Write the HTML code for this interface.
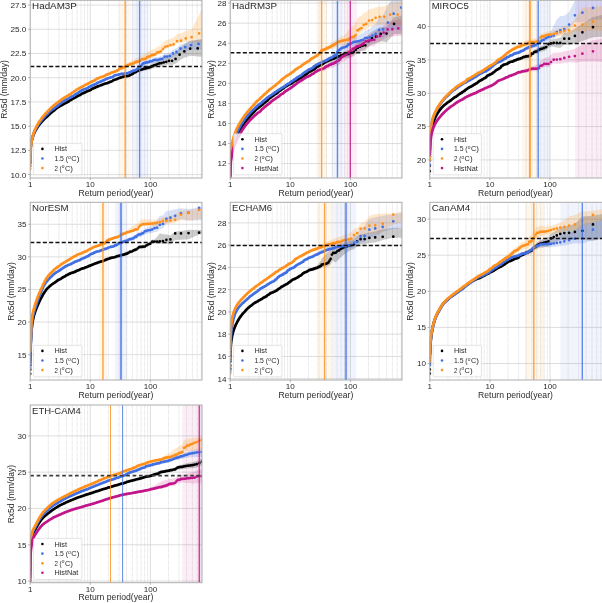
<!DOCTYPE html><html><head><meta charset="utf-8"><style>html,body{margin:0;padding:0;background:#fff}svg{display:block;will-change:transform}</style></head><body><svg width="602" height="603" viewBox="0 0 602 603"><style>text{font-family:"Liberation Sans",sans-serif;fill:#2a2a2a}.t{font-size:8.1px}.l{font-size:8.2px}.yl{font-size:8.2px}.ti{font-size:9.9px}.lg{font-size:7.8px}.sup{font-size:4.8px}</style><rect width="602" height="603" fill="#fff"/><clipPath id="c0"><rect x="30.2" y="0.3" width="171.8" height="177.7"/></clipPath><rect x="30.2" y="0.3" width="171.8" height="177.7" fill="#fff"/><g clip-path="url(#c0)"><path d="M48.29 0.3V178M58.87 0.3V178M66.38 0.3V178M72.21 0.3V178M76.97 0.3V178M80.99 0.3V178M84.48 0.3V178M87.55 0.3V178M108.39 0.3V178M118.97 0.3V178M126.48 0.3V178M132.31 0.3V178M137.07 0.3V178M141.09 0.3V178M144.58 0.3V178M147.65 0.3V178M168.49 0.3V178M179.07 0.3V178M186.58 0.3V178M192.41 0.3V178M197.17 0.3V178M201.19 0.3V178" stroke="#b8b8b8" stroke-width="0.5" stroke-dasharray="0.6 0.6" fill="none"/><path d="M30.2 0.3V178M90.3 0.3V178M150.4 0.3V178M30.2 174.6H202M30.2 150.38H202M30.2 126.17H202M30.2 101.95H202M30.2 77.74H202M30.2 53.52H202M30.2 29.31H202M30.2 5.09H202" stroke="#d0d0d0" stroke-width="0.7" fill="none"/><rect x="119" y="0.3" width="11.5" height="177.7" fill="#ff8c00" fill-opacity="0.075"/><rect x="132" y="0.3" width="16.4" height="177.7" fill="#4169e1" fill-opacity="0.075"/><polygon points="108.34,82.1 109.2,81.83 110.1,81.25 111.02,81.04 111.98,80.62 112.64,80.09 113.32,79.5 114.02,79.23 114.73,79 115.47,78.7 116.22,78.44 117,78.09 117.81,77.77 118.64,77.23 119.49,77.02 120.38,76.59 121.29,76.3 122.24,75.85 123.23,75.64 124.25,75.2 125.32,74.98 126.43,74.85 127.59,74.58 128.8,74.27 130.07,73.66 130.74,72.99 132.11,72.46 132.82,72.18 133.56,71.25 134.32,70.87 135.1,70.45 135.9,70.1 136.73,69.46 137.58,68.99 138.47,68.73 139.38,68.42 140.33,67.84 141.32,67.58 142.34,67.21 143.41,66.81 144.52,66.52 145.68,66.27 146.89,65.81 148.17,65.42 149.51,65.1 150.92,64.33 152.41,63.14 153.99,62.14 155.68,61.32 157.48,60 159.41,58.93 161.5,58.19 163.77,57.06 166.26,55.89 169.01,54.75 172.08,54.55 175.57,52.48 179.59,47.96 184.35,44.26 190.17,41.03 197.68,40.07 203,39.33 203,56.76 197.68,56.52 190.17,55.8 184.35,57.73 179.59,60.33 175.57,63.82 172.08,64.98 169.01,64.39 166.26,64.83 163.77,65.35 161.5,65.9 159.41,66.1 157.48,66.67 155.68,67.52 153.99,67.91 152.41,68.51 150.92,69.31 149.51,69.87 148.17,70.06 146.89,70.33 145.68,70.68 144.52,70.82 143.41,71.01 142.34,71.31 141.32,71.59 140.33,71.76 139.38,72.25 138.47,72.47 137.58,72.66 136.73,73.04 135.9,73.61 135.1,73.89 134.32,74.23 133.56,74.54 132.82,75.41 132.11,75.62 130.74,76.02 130.07,76.63 128.8,77.12 127.59,77.32 126.43,77.48 125.32,77.51 124.25,77.64 123.23,77.98 122.24,78.1 121.29,78.46 120.38,78.67 119.49,79.01 118.64,79.15 117.81,79.61 117,79.85 116.22,80.14 115.47,80.33 114.73,80.56 114.02,80.72 113.32,80.93 112.64,81.45 111.98,81.93 111.02,82.25 110.1,82.38 109.2,82.88 108.34,83.07" fill="#000000" fill-opacity="0.2"/><polygon points="108.39,77.67 109.23,77.34 110.09,77.11 110.99,76.8 111.92,76.59 112.88,76.04 113.54,75.54 114.22,74.99 114.91,74.58 115.63,74.39 116.36,74.14 117.12,73.99 117.9,73.81 118.7,73.54 119.53,73.37 120.39,73.05 121.27,72.83 122.19,72.72 123.14,72.62 124.12,72.51 125.14,72.32 126.21,72.17 127.32,72.01 128.48,71.4 129.7,71.21 130.32,70.82 130.97,70.29 131.63,69.71 132.31,69.49 133,69.25 133.72,68.97 134.45,68.83 135.21,68.7 135.99,68.21 136.79,67.72 137.62,66.73 138.48,64.96 139.36,64.71 140.28,64.33 141.23,63.93 142.21,62.37 143.24,61.26 144.3,61.05 145.41,60.76 146.57,60.25 147.79,59.97 149.06,59.58 150.4,58.85 151.81,58.76 153.3,57.83 154.89,57.3 156.57,57.14 158.37,57.05 160.31,56.18 162.39,55.85 164.67,53.58 167.15,53.28 169.9,52.51 172.98,49.94 176.46,48.2 180.49,44.81 185.24,43.04 191.07,40.65 198.58,39.25 203,38.78 203,49.44 198.58,49.43 191.07,49.83 185.24,51.44 180.49,52.56 176.46,55.56 172.98,56.97 169.9,59.24 167.15,59.75 164.67,59.8 162.39,61.86 160.31,61.98 158.37,62.66 156.57,62.58 154.89,62.57 153.3,62.96 151.81,63.74 150.4,63.7 149.06,64.3 147.79,64.58 146.57,64.74 145.41,65.14 144.3,65.33 143.24,65.44 142.21,66.46 141.23,67.92 140.28,68.24 139.36,68.54 138.48,68.7 137.62,70.4 136.79,71.31 135.99,71.72 135.21,72.15 134.45,72.21 133.72,72.27 133,72.49 131.63,72.82 130.97,73.34 130.32,73.81 129.7,74.14 128.48,74.22 127.32,74.72 126.21,74.78 125.14,74.83 124.12,74.93 123.14,74.95 122.19,74.97 121.27,74.99 120.39,75.13 119.53,75.37 118.7,75.47 117.9,75.66 117.12,75.77 116.36,75.85 115.63,76.03 114.91,76.16 114.22,76.5 113.54,76.99 112.88,77.42 111.92,77.89 110.99,78.01 110.09,78.24 109.23,78.4 108.39,78.65" fill="#4169e1" fill-opacity="0.2"/><polygon points="108.39,73.6 109.21,73.29 110.06,72.81 110.64,72.26 111.23,71.88 112.15,71.51 113.1,71.18 114.08,70.82 114.76,70.23 115.46,70.04 116.17,69.72 116.91,69.12 117.66,68.83 118.44,68.23 119.25,67.16 120.07,66.77 120.93,66.51 121.81,66 122.73,65.7 123.68,65.14 124.67,64.3 125.69,63.93 126.75,63.33 127.3,62.73 128.44,62.2 129.63,61.67 130.87,61.18 131.51,60.66 132.85,60.25 133.55,59.85 134.26,59.54 135,58.83 135.76,58.54 136.53,58.17 137.34,57.84 138.17,57.63 139.02,57.03 139.91,56.57 140.82,56.02 141.77,54.98 142.76,54.73 143.78,54.44 144.85,54.16 145.96,53.77 147.12,52.28 148.33,51.89 149.6,51.18 150.94,50.2 152.36,49.79 153.85,49.1 155.43,48.56 157.11,46.75 158.91,46.23 160.85,45.45 162.94,42.76 165.21,40.57 167.7,39.65 170.45,38.38 173.52,37.6 177.01,34.08 181.03,33.46 185.79,30.98 191.61,29.53 199.12,14.94 203,5.81 203,43.59 199.12,41.86 191.61,41.97 185.79,41.73 181.03,42.83 177.01,43.12 173.52,46.47 170.45,47.1 167.7,48.23 165.21,49.04 162.94,51.11 160.85,53.7 158.91,54.39 157.11,54.83 155.43,56.55 153.85,57.01 152.36,57.63 150.94,57.97 149.6,58.8 148.33,59.31 147.12,59.5 145.96,60.81 144.85,61.02 143.78,61.13 142.76,61.24 141.77,61.34 140.82,62.23 139.91,62.62 139.02,62.95 138.17,63.41 137.34,63.48 136.53,63.69 135.76,63.93 135,64.1 134.26,64.69 133.55,64.88 132.85,65.18 131.51,65.37 130.87,65.78 129.63,66.08 128.44,66.41 127.3,66.75 126.22,67.58 125.17,67.83 124.17,68.24 123.2,68.63 122.27,69.06 121.37,69.16 120.5,69.55 119.66,69.68 118.84,70.32 118.05,71.01 117.28,71.46 116.54,71.71 115.81,72.03 115.11,72.19 114.42,72.54 113.42,72.86 112.46,73.07 111.53,73.23 110.64,73.61 110.06,74.06 109.21,74.4 108.39,74.58" fill="#ff8c00" fill-opacity="0.2"/><path d="M197.68 48.39h0M190.17 48.68h0M184.35 51.39h0M179.59 54.69h0M175.57 58.95h0M172.08 60.79h0M169.01 60.79h0M166.26 61.76h0M163.77 62.49h0M161.5 63.12h0M159.41 63.39h0M157.48 64.02h0M155.68 64.93h0M153.99 65.37h0M152.41 66.02h0M150.92 66.87h0M149.51 67.48h0M148.17 67.74h0M146.89 68.07h0M145.68 68.47h0M144.52 68.67h0M143.41 68.91h0M142.34 69.26h0M141.32 69.59h0M140.33 69.8h0M139.38 70.34h0M138.47 70.6h0M137.58 70.83h0M136.73 71.25h0M135.9 71.86h0L135.1 72.17L134.32 72.55L133.56 72.89M132.82 73.8h0L132.11 74.04L131.41 74.41L130.74 74.51M130.07 75.15h0L129.43 75.48L128.8 75.7L128.19 75.83L127.59 75.95L127 76.06L126.43 76.16L125.87 76.19L125.32 76.24L124.78 76.34L124.25 76.42L123.73 76.75L123.23 76.81L122.73 76.88L122.24 76.97L121.76 77.19L121.29 77.38L120.83 77.52L120.38 77.63L119.93 77.81L119.49 78.02L118.64 78.19M117.81 78.69h0L117.4 78.94L116.61 79.04L116.22 79.29L115.47 79.51L114.73 79.78L114.02 79.97L113.32 80.21L112.64 80.77L111.98 81.28L111.34 81.53L110.71 81.73L110.1 81.81L109.5 82.15L108.91 82.44L108.34 82.59L107.77 82.95L107.22 83.16L106.69 83.27L106.16 83.43L105.64 83.51L105.14 83.62L104.64 83.78L104.15 83.95L103.67 84.11L103.2 84.4L102.74 84.5L102.28 84.58L101.84 85.03L101.4 85.13L100.76 85.27L100.13 85.51L99.51 85.73L98.91 85.88L98.33 86.15L97.75 86.35L97.38 86.68L96.82 86.84L96.28 86.95L95.75 87.12L95.4 87.59L94.89 87.85L94.39 87.94L93.89 88.06L93.41 88.34L92.93 88.48L92.46 88.63L92 88.89L91.55 89.27L91.11 89.46L90.82 89.88L90.39 90.12L89.82 90.29L89.27 90.38L88.86 90.68L88.33 90.83L87.81 91.07L87.3 91.26L86.79 91.48L86.3 91.74L85.82 92.01L85.34 92.16L84.99 92.46L84.53 92.62L84.08 92.71L83.64 92.93L83.2 93.14L82.77 93.33L82.24 93.6L81.73 93.82L81.32 94.09L80.92 94.44L80.53 94.67L80.04 94.95L79.57 95.13L79.1 95.33L78.64 95.48L78.19 95.72L77.83 96.02L77.4 96.24L76.97 96.47L76.54 96.64L76.13 96.82L75.8 97.14L75.39 97.46L74.92 97.61L74.53 97.87L74.14 98.11L73.68 98.27L73.24 98.46L72.8 98.61L72.51 99L72.15 99.3L71.66 99.46L71.25 99.66L70.9 100.01L70.44 100.12L69.97 100.34L69.52 100.52L69.14 100.87L68.83 101.23L68.39 101.5L67.97 101.78L67.55 102.04L67.13 102.27L66.73 102.48L66.27 102.67L65.82 102.86L65.43 103.13L65 103.4L64.57 103.62L64.15 103.86L63.74 104.07L63.33 104.27L62.88 104.45L62.53 104.77L62.14 105.01L61.71 105.21L61.29 105.38L60.87 105.61L60.46 105.84L60.05 106.06L59.65 106.32L59.26 106.6L58.83 106.84L58.41 107.09L57.99 107.35L57.59 107.58L57.18 107.8L56.83 108.1L56.43 108.34L56.05 108.57L55.71 108.9L55.33 109.32L54.96 109.62L54.63 109.97L54.31 110.29L53.92 110.55L53.53 110.82L53.15 111.09L52.75 111.34L52.41 111.7L52.08 112.01L51.72 112.3L51.37 112.58L50.99 112.85L50.61 113.15L50.3 113.5L49.93 113.82L49.6 114.14L49.22 114.48L48.87 114.83L48.49 115.12L48.15 115.44L47.84 115.81L47.45 116.09L47.18 116.45L46.83 116.78L46.45 117.05L46.08 117.35L45.75 117.66L45.39 117.96L45.06 118.29L44.71 118.63L44.39 118.97L44.05 119.31L43.71 119.65L43.41 119.98L43.08 120.33L42.75 120.69L42.43 121.01L42.12 121.33L41.78 121.68L41.47 122.03L41.17 122.39L40.87 122.74L40.59 123.11L40.3 123.46L40.01 123.8L39.72 124.15L39.43 124.54L39.13 124.92L38.85 125.3L38.6 125.67L38.32 126.06L38.05 126.45L37.78 126.85L37.52 127.22L37.26 127.63L37 128.01L36.74 128.4L36.49 128.8L36.25 129.19L36.02 129.58L35.79 129.99L35.56 130.4L35.34 130.83L35.13 131.24L34.91 131.67L34.7 132.08L34.5 132.5L34.3 132.93L34.1 133.38L33.92 133.79L33.74 134.22L33.56 134.66L33.39 135.11L33.23 135.53L33.07 135.97L32.91 136.42L32.75 136.89L32.61 137.32L32.47 137.77L32.33 138.24L32.21 138.67L32.09 139.12L31.96 139.59L31.84 140.09L31.74 140.54L31.63 141.01L31.53 141.51L31.44 141.95L31.35 142.42L31.26 142.92L31.17 143.45L31.1 143.92L31.02 144.42L30.95 144.95L30.89 145.4L30.83 145.89L30.77 146.41L30.72 146.97L30.67 147.42L30.63 147.91L30.59 148.43L30.54 149.01L30.5 149.65L30.47 150.11L30.44 150.62L30.41 151.18L30.39 151.81L30.36 152.52L30.33 153.34L30.31 153.82L30.3 154.34L30.29 154.93L30.27 155.62L30.26 156.43M30.24 157.44h0M30.23 158.8h0M30.21 160.97h0M30.2 162.98h0" stroke="#000000" stroke-width="2.75" stroke-linecap="round" stroke-linejoin="round" fill="none"/><path d="M198.58 43.94h0M191.07 45h0M185.24 47.13h0M180.49 48.68h0M176.46 51.88h0M172.98 53.45h0M169.9 55.88h0M167.15 56.52h0M164.67 56.69h0M162.39 58.86h0M160.31 59.08h0M158.37 59.86h0M156.57 59.86h0M154.89 59.93h0M153.3 60.39h0M151.81 61.25h0M150.4 61.27h0M149.06 61.94h0M147.79 62.28h0M146.57 62.49h0M145.41 62.95h0M144.3 63.19h0M143.24 63.35h0M142.21 64.42h0M141.23 65.92h0M140.28 66.29h0M139.36 66.63h0M138.48 66.83h0M137.62 68.56h0M136.79 69.51h0M135.99 69.97h0M135.21 70.43h0L134.45 70.52L133.72 70.62L133 70.87L132.31 71.08L131.63 71.26L130.97 71.82L130.32 72.32L129.7 72.67L129.08 72.73L128.48 72.81L127.9 73.21L127.32 73.37L126.76 73.44L126.21 73.47L125.67 73.53L125.14 73.58L124.63 73.68L124.12 73.72L123.62 73.76L123.14 73.79L122.66 73.82L122.19 73.85L121.73 73.88L121.27 73.91M120.39 74.09h0M119.53 74.37h0L118.7 74.51L117.9 74.74L117.12 74.88L116.36 74.99L115.63 75.21L114.91 75.37L114.22 75.74L113.54 76.26L113.21 76.61L112.55 77.12L111.92 77.24L111.3 77.31L110.69 77.47L110.09 77.67L109.51 77.76L108.95 77.96L108.39 78.16L107.85 78.26L107.32 78.6L106.79 78.94L106.28 79.05L105.78 79.19L105.29 79.49L104.8 79.69L104.33 80.03L103.86 80.18L103.41 80.36L102.96 80.55L102.51 80.7L102.08 80.81L101.65 81.1L101.02 81.43L100.41 81.62L100.01 81.93L99.41 82.11L98.84 82.31L98.27 82.49L97.72 82.67L97.18 82.97L96.82 83.38L96.3 83.65L95.95 83.95L95.45 84.07L94.95 84.24L94.46 84.46L93.98 84.73L93.51 84.88L93.05 85.04L92.6 85.24L92.15 85.5L91.71 85.84L91.28 86.07L90.72 86.2L90.3 86.46L89.76 86.68L89.36 86.9L88.83 87.09L88.44 87.39L88.06 87.65L87.69 88.07L87.2 88.26L86.71 88.48L86.24 88.61L85.77 88.74L85.31 88.93L84.86 89.09L84.42 89.22L83.88 89.35L83.45 89.57L82.93 89.73L82.52 89.99L82.01 90.23L81.62 90.45L81.22 90.7L80.84 90.99L80.37 91.18L79.99 91.49L79.63 91.78L79.26 92.08L78.82 92.29L78.47 92.62L78.03 92.92L77.61 93.22L77.19 93.45L76.69 93.58L76.29 93.81L75.89 94.06L75.58 94.39L75.11 94.62L74.73 94.94L74.28 95.23L73.91 95.54L73.47 95.82L73.05 96.02L72.62 96.19L72.14 96.35L71.73 96.62L71.26 96.76L70.87 97.07L70.55 97.43L70.1 97.62L69.66 97.82L69.23 98.09L68.8 98.37L68.38 98.59L67.97 98.78L67.62 99.06L67.16 99.24L66.72 99.38L66.33 99.71L65.89 99.86L65.47 100.01L65.04 100.18L64.68 100.49L64.27 100.75L63.92 101.07L63.47 101.27L63.04 101.46L62.65 101.7L62.27 102.02L61.85 102.25L61.49 102.53L61.13 102.84L60.77 103.12L60.42 103.43L60.07 103.81L59.64 104.05L59.26 104.31L58.93 104.67L58.56 104.98L58.16 105.28L57.76 105.49L57.44 105.84L57.06 106.08L56.68 106.35L56.3 106.67L55.93 106.95L55.49 107.16L55.13 107.45L54.74 107.74L54.39 108.06L54.01 108.33L53.67 108.67L53.27 108.93L52.88 109.15L52.49 109.39L52.1 109.64L51.72 109.94L51.35 110.24L50.98 110.54L50.59 110.82L50.26 111.15L49.88 111.44L49.5 111.7L49.19 112.06L48.82 112.36L48.54 112.73L48.21 113.04L47.86 113.38L47.51 113.7L47.19 114.04L46.85 114.38L46.49 114.7L46.18 115.04L45.85 115.37L45.51 115.69L45.19 116.04L44.9 116.4L44.58 116.77L44.28 117.11L43.95 117.45L43.62 117.8L43.33 118.16L43.03 118.51L42.72 118.86L42.41 119.19L42.11 119.53L41.81 119.9L41.51 120.27L41.21 120.65L40.94 121.01L40.65 121.39L40.35 121.77L40.06 122.12L39.81 122.49L39.53 122.9L39.28 123.29L39 123.67L38.74 124.07L38.47 124.46L38.23 124.85L37.99 125.24L37.73 125.64L37.49 126.03L37.25 126.43L37 126.84L36.77 127.22L36.54 127.64L36.32 128.05L36.09 128.46L35.87 128.89L35.67 129.29L35.46 129.71L35.25 130.14L35.05 130.56L34.85 130.98L34.65 131.41L34.46 131.85L34.28 132.27L34.1 132.7L33.93 133.14L33.76 133.59L33.58 134.06L33.43 134.49L33.27 134.93L33.12 135.39L32.97 135.87L32.83 136.31L32.69 136.76L32.56 137.23L32.42 137.72L32.3 138.17L32.18 138.64L32.06 139.12L31.96 139.56L31.86 140.02L31.76 140.5L31.65 141L31.57 141.45L31.48 141.92L31.39 142.41L31.31 142.93L31.24 143.39L31.17 143.87L31.09 144.37L31.02 144.91L30.97 145.36L30.91 145.84L30.85 146.35L30.8 146.89L30.74 147.48L30.7 147.95L30.66 148.45L30.62 148.99L30.57 149.58L30.53 150.22L30.5 150.68L30.48 151.18L30.45 151.73L30.42 152.32L30.39 152.98L30.37 153.72L30.34 154.57L30.32 155.05L30.31 155.58L30.3 156.17L30.28 156.83L30.27 157.6M30.26 158.51h0M30.24 159.65h0M30.23 161.18h0M30.21 163.62h0M30.2 165.88h0" stroke="#3f6fe3" stroke-width="2.75" stroke-linecap="round" stroke-linejoin="round" fill="none"/><path d="M199.12 33.38h0M191.61 37.16h0M185.79 38.41h0M181.03 40.74h0M177.01 41.13h0M173.52 44.42h0M170.45 45h0M167.7 46.09h0M165.21 46.86h0M162.94 48.9h0M160.85 51.45h0M158.91 52.11h0M157.11 52.51h0M155.43 54.21h0M153.85 54.65h0M152.36 55.24h0M150.94 55.56h0M149.6 56.42h0M148.33 56.98h0M147.12 57.23h0M145.96 58.59h0M144.85 58.85h0M143.78 59.01h0M142.76 59.17h0M141.77 59.32h0M140.82 60.25h0M139.91 60.68h0M139.02 61.05h0M138.17 61.55h0L137.34 61.66L136.53 61.9L135.76 62.18L135 62.39M134.26 63.01h0L133.55 63.23L132.85 63.56L132.17 63.72L131.51 63.82L130.87 64.26L130.24 64.41L129.63 64.61L129.03 64.82L128.44 65L127.87 65.11L127.3 65.39L126.75 65.94L126.22 66.28L125.69 66.41L125.17 66.57L124.67 66.67L124.17 67.02L123.68 67.39L123.2 67.46L122.73 67.84L122.27 67.94L121.81 68.03M120.93 68.44h0L120.07 68.6L119.25 68.9L118.84 69.36L118.44 69.88M117.66 70.39h0L116.91 70.6L116.17 71.11L115.46 71.34L114.76 71.46L114.42 71.78L113.75 72.06L113.1 72.21L112.46 72.39L111.84 72.46L111.23 72.7L110.64 73.01L110.06 73.49L109.49 73.83L108.94 73.93L108.39 74.09L107.86 74.28L107.34 74.53L106.83 74.61L106.32 74.81L105.83 75.04L105.35 75.33L104.87 75.85L104.41 76.12L103.95 76.21L103.5 76.35L103.06 76.51L102.62 76.74L101.98 76.9L101.36 77.02L100.75 77.18L100.15 77.32L99.76 77.72L99.19 77.85L98.81 78.14L98.26 78.22L97.72 78.38L97.19 78.76L96.67 78.9L96.16 79.33L95.66 79.54L95.17 79.89L94.68 80.31L94.21 80.64L93.75 80.8L93.29 81.04L92.84 81.17L92.4 81.36L91.97 81.62L91.4 81.84L90.98 82.06L90.57 82.26L90.17 82.48L89.64 82.72L89.12 82.94L88.73 83.21L88.23 83.41L87.74 83.67L87.26 83.91L86.78 84.28L86.31 84.49L85.86 84.71L85.41 84.85L84.96 85.1L84.53 85.28L84.1 85.6L83.68 85.85L83.27 86.19L82.76 86.33L82.26 86.53L81.87 86.86L81.48 87.15L81 87.32L80.54 87.58L80.08 87.79L79.63 88.04L79.18 88.28L78.75 88.5L78.32 88.73L77.9 88.92L77.48 89.28L77.07 89.59L76.59 89.78L76.12 90.01L75.73 90.27L75.35 90.58L74.9 90.84L74.53 91.12L74.09 91.4L73.66 91.75L73.24 92.07L72.82 92.34L72.34 92.6L71.94 92.86L71.54 93.12L71.09 93.36L70.77 93.72L70.45 94.05L70.02 94.32L69.59 94.58L69.16 94.8L68.81 95.14L68.4 95.36L67.99 95.58L67.65 95.93L67.2 96.11L66.76 96.3L66.33 96.49L65.9 96.67L65.54 96.98L65.12 97.17L64.77 97.48L64.37 97.7L63.92 97.88L63.53 98.16L63.15 98.44L62.77 98.74L62.35 98.95L61.94 99.16L61.58 99.48L61.27 99.87L60.83 100.11L60.44 100.36L60.02 100.61L59.68 100.91L59.23 101.11L58.82 101.42L58.46 101.77L58.11 102.06L57.83 102.42L57.45 102.66L57.11 102.99L56.69 103.23L56.33 103.53L55.89 103.75L55.53 104.05L55.18 104.34L54.8 104.62L54.49 104.96L54.08 105.21L53.72 105.47L53.39 105.81L53.03 106.1L52.64 106.39L52.33 106.71L51.99 107.01L51.62 107.32L51.25 107.6L50.95 107.95L50.63 108.26L50.36 108.68L50.04 109.02L49.67 109.3L49.33 109.6L49.03 109.93L48.73 110.31L48.35 110.63L48 110.96L47.65 111.31L47.34 111.67L47.01 112.03L46.7 112.38L46.37 112.71L46.05 113.03L45.73 113.38L45.42 113.71L45.1 114.05L44.82 114.43L44.52 114.8L44.19 115.13L43.89 115.49L43.58 115.84L43.27 116.2L42.96 116.55L42.67 116.91L42.39 117.28L42.09 117.64L41.8 118.02L41.53 118.39L41.28 118.79L41.01 119.16L40.77 119.54L40.49 119.93L40.23 120.32L39.96 120.7L39.7 121.07L39.43 121.47L39.17 121.85L38.92 122.24L38.68 122.64L38.44 123.03L38.22 123.42L37.98 123.81L37.74 124.22L37.51 124.62L37.28 125.03L37.05 125.44L36.83 125.87L36.62 126.29L36.41 126.7L36.21 127.12L36.01 127.54L35.81 127.94L35.61 128.35L35.41 128.79L35.21 129.22L35.03 129.65L34.86 130.07L34.68 130.5L34.51 130.96L34.33 131.41L34.17 131.83L34.02 132.25L33.86 132.69L33.71 133.14L33.55 133.6L33.4 134.07L33.27 134.5L33.13 134.95L32.99 135.4L32.86 135.88L32.73 136.36L32.61 136.81L32.49 137.27L32.37 137.75L32.26 138.24L32.16 138.68L32.05 139.15L31.95 139.63L31.85 140.12L31.77 140.57L31.68 141.03L31.6 141.51L31.51 142.01L31.43 142.53L31.36 142.99L31.29 143.46L31.22 143.96L31.15 144.49L31.08 145.04L31.02 145.51L30.96 146L30.91 146.52L30.85 147.08L30.8 147.67L30.76 148.14L30.72 148.63L30.68 149.16L30.63 149.73L30.59 150.34L30.55 151L30.52 151.48L30.5 151.99L30.47 152.54L30.44 153.14L30.42 153.8L30.39 154.52L30.36 155.34L30.35 155.79L30.33 156.28L30.32 156.81L30.31 157.4L30.29 158.05L30.28 158.78L30.27 159.63M30.25 160.64h0M30.24 161.89h0M30.23 163.58h0M30.21 166.29h0M30.2 168.79h0" stroke="#ff901c" stroke-width="2.75" stroke-linecap="round" stroke-linejoin="round" fill="none"/><path d="M125.2 0.3V178" stroke="#ff901c" stroke-width="1.4" stroke-opacity="0.8" fill="none"/><path d="M139.6 0.3V178" stroke="#3f6fe3" stroke-width="1.4" stroke-opacity="0.8" fill="none"/><path d="M30.2 66.41H202" stroke="#111" stroke-width="1.5" stroke-dasharray="4.1 2.2" fill="none"/></g><rect x="30.2" y="0.3" width="171.8" height="177.7" fill="none" stroke="#adadad" stroke-width="1"/><path d="M30.2 174.6h-2.2M30.2 150.38h-2.2M30.2 126.17h-2.2M30.2 101.95h-2.2M30.2 77.74h-2.2M30.2 53.52h-2.2M30.2 29.31h-2.2M30.2 5.09h-2.2M30.2 178v2.2M90.3 178v2.2M150.4 178v2.2" stroke="#9a9a9a" stroke-width="0.7" fill="none"/><text x="10.4" y="177.5" class="t" textLength="16" lengthAdjust="spacingAndGlyphs">10.0</text><text x="10.4" y="153.28" class="t" textLength="16" lengthAdjust="spacingAndGlyphs">12.5</text><text x="10.4" y="129.07" class="t" textLength="16" lengthAdjust="spacingAndGlyphs">15.0</text><text x="10.4" y="104.86" class="t" textLength="16" lengthAdjust="spacingAndGlyphs">17.5</text><text x="10.4" y="80.64" class="t" textLength="16" lengthAdjust="spacingAndGlyphs">20.0</text><text x="10.4" y="56.42" class="t" textLength="16" lengthAdjust="spacingAndGlyphs">22.5</text><text x="10.4" y="32.21" class="t" textLength="16" lengthAdjust="spacingAndGlyphs">25.0</text><text x="10.4" y="7.99" class="t" textLength="16" lengthAdjust="spacingAndGlyphs">27.5</text><text x="27.95" y="187.3" class="t" textLength="4.5" lengthAdjust="spacingAndGlyphs">1</text><text x="85.8" y="187.3" class="t" textLength="9" lengthAdjust="spacingAndGlyphs">10</text><text x="143.65" y="187.3" class="t" textLength="13.5" lengthAdjust="spacingAndGlyphs">100</text><text x="78.5" y="195.6" class="l" textLength="74.8" lengthAdjust="spacingAndGlyphs">Return period(year)</text><text transform="translate(6.6 89.45) rotate(-90)" x="-29.2" y="0" class="yl" textLength="58.4" lengthAdjust="spacingAndGlyphs">Rx5d (mm/day)</text><text x="32.1" y="9.1" class="ti" textLength="44.8" lengthAdjust="spacingAndGlyphs">HadAM3P</text><rect x="33.6" y="143.3" width="48.3" height="31.5" rx="1.2" fill="#fff" fill-opacity="0.8" stroke="#d4d4d4" stroke-width="0.6"/><circle cx="42.4" cy="148.9" r="1.3" fill="#000000"/><text x="54.4" y="151.4" class="lg" textLength="12.6" lengthAdjust="spacingAndGlyphs">Hist</text><circle cx="42.4" cy="158.5" r="1.3" fill="#3f6fe3"/><text x="54.4" y="161" class="lg" textLength="13.6" lengthAdjust="spacingAndGlyphs">1.5 (</text><text x="68.2" y="158.7" class="sup" font-style="italic">o</text><text x="71.3" y="161" class="lg" textLength="5.3" lengthAdjust="spacingAndGlyphs">C</text><text x="76.7" y="161" class="lg" textLength="2.7" lengthAdjust="spacingAndGlyphs">)</text><circle cx="42.4" cy="168.1" r="1.3" fill="#ff901c"/><text x="54.4" y="170.6" class="lg" textLength="7.2" lengthAdjust="spacingAndGlyphs">2 (</text><text x="61.8" y="168.3" class="sup" font-style="italic">o</text><text x="64.9" y="170.6" class="lg" textLength="5.3" lengthAdjust="spacingAndGlyphs">C</text><text x="70.3" y="170.6" class="lg" textLength="2.7" lengthAdjust="spacingAndGlyphs">)</text><clipPath id="c1"><rect x="230.2" y="0.3" width="171.8" height="177.7"/></clipPath><rect x="230.2" y="0.3" width="171.8" height="177.7" fill="#fff"/><g clip-path="url(#c1)"><path d="M248.29 0.3V178M258.87 0.3V178M266.38 0.3V178M272.21 0.3V178M276.97 0.3V178M280.99 0.3V178M284.48 0.3V178M287.55 0.3V178M308.39 0.3V178M318.97 0.3V178M326.48 0.3V178M332.31 0.3V178M337.07 0.3V178M341.09 0.3V178M344.58 0.3V178M347.65 0.3V178M368.49 0.3V178M379.07 0.3V178M386.58 0.3V178M392.41 0.3V178M397.17 0.3V178M401.19 0.3V178" stroke="#b8b8b8" stroke-width="0.5" stroke-dasharray="0.6 0.6" fill="none"/><path d="M230.2 0.3V178M290.3 0.3V178M350.4 0.3V178M230.2 163.58H402M230.2 143.52H402M230.2 123.46H402M230.2 103.4H402M230.2 83.34H402M230.2 63.28H402M230.2 43.22H402M230.2 23.16H402M230.2 3.1H402" stroke="#d0d0d0" stroke-width="0.7" fill="none"/><rect x="316.5" y="0.3" width="10.5" height="177.7" fill="#ff8c00" fill-opacity="0.075"/><rect x="331.5" y="0.3" width="11.5" height="177.7" fill="#4169e1" fill-opacity="0.075"/><rect x="343.5" y="0.3" width="13.5" height="177.7" fill="#c71585" fill-opacity="0.075"/><polygon points="308.34,71.83 309,71.52 309.68,71.06 310.38,70.76 311.09,70.35 311.83,69.62 312.58,69.18 313.36,68.81 314.17,68.23 315,67.45 315.85,66.66 316.29,65.99 317.19,65.52 318.12,64.95 319.09,64.37 320.09,63.65 321.14,63.08 322.23,62.53 323.36,61.61 324.55,60.65 325.16,60.2 326.43,59.46 327.1,59.13 327.77,58.8 328.47,58.44 329.18,57.98 329.92,57.75 330.68,57.44 331.46,56.9 332.26,56.49 333.09,56.2 333.94,55.93 334.83,55.32 335.74,54.81 336.69,54.49 337.68,54.12 338.7,53.4 339.77,53.03 340.88,52.26 342.04,52.02 343.25,51.32 344.53,50.96 345.87,50.71 347.28,50.39 348.77,50.1 350.35,49.15 352.04,48.62 353.84,47.37 355.77,45.02 357.86,42.91 360.13,41.59 362.62,40.29 365.37,39.57 368.44,35.1 371.93,31.69 375.95,29.61 380.71,26.94 386.53,26.73 394.04,17.22 403,15.27 403,33.93 394.04,34.22 386.53,42.19 380.71,41.2 375.95,42.89 371.93,44.14 368.44,46.84 365.37,50.67 362.62,50.83 360.13,51.62 357.86,52.46 355.77,54.15 353.84,56.1 352.04,56.98 350.35,57.16 348.77,57.86 347.28,57.89 345.87,57.98 344.53,58 343.25,58.15 342.04,58.65 340.88,58.7 339.77,59.28 338.7,59.48 337.68,60.02 336.69,60.23 335.74,60.39 334.83,60.75 333.94,61.21 333.09,61.34 332.26,61.48 331.46,61.76 330.68,62.17 329.92,62.36 329.18,62.46 328.47,62.8 327.77,63.04 326.43,63.48 325.16,64.01 324.55,64.36 323.36,65.12 322.23,65.85 321.14,66.22 320.09,66.62 319.09,67.17 318.12,67.59 317.19,68 316.29,68.32 315.85,68.92 315,69.56 314.17,70.21 313.36,70.65 312.58,70.9 311.83,71.21 311.09,71.81 310.38,72.1 309.34,72.32 308.34,72.83" fill="#000000" fill-opacity="0.2"/><polygon points="308.39,69.49 309.15,68.93 309.93,68.41 310.73,68.16 311.56,67.68 312.42,67.27 313,66.52 313.6,66.11 313.91,65.34 314.85,64.91 315.49,64.43 316.15,63.72 316.83,63.52 317.52,63.01 318.24,62.48 318.97,62.19 319.73,61.74 320.51,61.22 321.31,60.99 322.14,60.39 323,59.94 323.88,59.62 324.8,59.19 325.75,58.78 326.73,58.02 327.76,57.68 328.28,56.91 329.37,56.08 330.51,55.71 331.69,55.25 332.31,54.76 332.94,54.2 333.58,53.53 334.24,53.2 334.92,52.74 335.62,52.44 336.33,51.46 337.07,49.35 337.82,48.65 338.6,47.16 339.41,46.84 340.23,46.01 341.09,45.3 341.98,44.76 342.89,44.34 343.84,43.88 344.83,43.46 345.85,43.05 346.91,42.51 348.03,41.07 349.19,40.34 350.4,39.81 351.67,38.95 353.01,37.68 354.42,37.04 355.92,36.35 357.5,35.69 359.18,35.03 360.98,33.86 362.92,33.05 365.01,30.81 367.28,29.9 369.77,28.96 372.52,26.33 375.59,24.01 379.07,18.15 383.1,15.09 387.86,5.14 393.68,-3.23 401.19,-7.64 403,-8.03 403,31.08 401.19,30.77 393.68,29.2 387.86,32.69 383.1,37.72 379.07,36.62 375.59,39.37 372.52,40.8 369.77,42.63 367.28,42.84 365.01,43.08 362.92,44.72 360.98,44.97 359.18,45.61 357.5,45.78 355.92,45.98 354.42,46.24 353.01,46.46 351.67,47.34 350.4,47.83 349.19,48.17 348.03,48.7 346.91,49.95 345.85,50.32 344.83,50.56 343.84,50.81 342.89,51.11 341.98,51.38 341.09,51.77 340.23,52.34 339.41,53.03 338.6,53.21 337.82,54.58 337.07,55.15 336.33,57.14 335.62,57.99 334.92,58.18 333.58,58.75 332.94,59.31 332.31,59.77 331.69,60.15 330.51,60.41 329.37,60.59 328.28,61.25 327.24,61.98 326.24,62.48 325.27,62.73 324.34,63.09 323.44,63.33 322.57,63.55 321.73,63.9 320.91,64.21 320.12,64.39 319.35,64.81 318.6,65.09 317.88,65.24 317.17,65.6 316.15,66.02 315.49,66.63 314.85,67 313.91,67.27 313,68.31 312.42,68.95 311.56,69.22 310.73,69.56 309.93,69.68 309.15,70.07 308.39,70.51" fill="#4169e1" fill-opacity="0.2"/><polygon points="308.34,60.82 308.91,60.37 309.5,59.79 310.4,58.89 311.02,58.12 311.66,57.75 312.31,57.47 312.98,56.83 313.67,56.59 314.37,55.74 315.1,55.48 315.84,54.89 316.61,54.37 317.4,54.02 317.81,53.26 318.22,52.49 319.06,52.08 319.93,51.52 320.38,50.3 321.29,49.41 321.76,48.33 322.73,48.06 323.73,47.67 324.78,47.28 325.87,46.33 327,45.66 328.19,44.99 329.43,44.49 330.07,44.12 330.74,43.4 332.11,42.6 332.82,42.08 333.56,41.79 334.32,40.9 335.1,40.59 335.9,39.77 336.73,39.44 337.58,38.38 338.47,37.91 339.38,37.6 340.33,36.89 341.32,36.5 342.34,36.24 343.41,36.05 344.52,34.99 345.68,33.62 346.89,32.47 348.17,31.08 349.51,28.99 350.92,26.84 352.41,26.19 353.99,25.31 355.68,23.27 357.48,18.28 359.41,16.54 361.5,15.7 363.77,12.87 366.26,12.17 369.01,9.1 372.08,8.98 375.57,7.21 379.59,6.7 384.35,6.27 390.17,3.15 397.68,2.11 403,1.23 403,26.31 397.68,25.75 390.17,24.36 384.35,25.59 379.59,24.73 375.57,25.1 372.08,26.76 369.01,26.78 366.26,29.75 363.77,30.36 361.5,33.12 359.41,33.89 357.48,35.11 355.68,39.62 353.99,41.22 352.41,41.67 350.92,41.92 349.51,43.19 348.17,44.16 346.89,44.49 345.68,44.62 344.52,45.03 343.41,45.38 342.34,45.27 341.32,45.26 340.33,45.37 339.38,45.83 338.47,45.89 337.58,46.12 336.73,46.95 335.9,47.05 335.1,47.65 334.32,47.75 333.56,48.43 332.82,48.53 332.11,48.85 330.74,49.28 329.43,50.02 328.19,50.18 327,50.56 325.87,50.99 324.78,51.71 323.73,51.89 322.73,52.07 321.76,52.13 321.29,53.12 320.38,53.82 319.93,54.95 319.06,55.33 318.22,55.55 317.81,56.24 317,56.92 316.22,57.27 315.47,57.87 314.73,57.92 314.02,58.43 312.98,58.8 311.98,59.31 311.02,59.68 310.4,60.32 309.79,61.02 309.2,61.48 308.34,61.83" fill="#ff8c00" fill-opacity="0.2"/><polygon points="308.39,75.91 309.03,75.52 309.68,75.14 310.34,74.69 311.03,74.17 311.73,73.61 312.45,73.05 313.19,72.73 313.96,72.3 314.48,71.41 315.28,70.88 316.11,70.39 316.97,69.87 317.55,69.45 318.15,68.94 319.08,68.59 319.72,68.23 320.37,67.94 321.04,67.63 321.73,67.32 322.43,67.17 323.16,66.85 323.9,66.41 324.67,66.04 325.06,65.21 325.86,64.98 326.28,64.4 327.12,64.14 327.99,63.81 328.89,62.91 329.82,62.43 330.79,62.26 331.79,61.17 332.84,60.99 333.92,60.57 334.48,60.14 335.64,59.65 336.24,58.98 337.49,58.37 338.13,57.7 338.79,57.42 339.47,56.85 340.17,56.14 340.88,54.62 341.62,54.14 342.37,53.28 343.15,52.91 343.96,52.36 344.79,51.97 345.64,50.69 346.53,50.31 347.44,49.44 348.39,48.74 349.38,48.07 350.4,47.43 351.47,47.16 352.58,44.72 353.74,44.4 354.95,43.47 356.22,42.47 357.56,41.9 358.97,41.43 360.47,40.49 362.05,39.48 363.73,38.22 365.53,36.24 367.47,35.73 369.56,34.96 371.83,34.33 374.32,33.97 377.07,30.47 380.14,29.45 383.63,25.67 387.65,21.91 392.41,20.96 398.23,19.37 403,18.47 403,36.02 398.23,36.1 392.41,36.45 387.65,36.38 383.63,39.28 380.14,42.32 377.07,42.68 374.32,45.88 371.83,46.08 369.56,46.55 367.47,47.18 365.53,47.57 363.73,49.43 362.05,50.58 360.47,51.48 358.97,52.33 357.56,52.71 356.22,53.18 354.95,54.1 353.74,54.95 352.58,55.19 351.47,57.56 350.4,57.76 349.38,58.17 348.39,58.63 347.44,59.12 346.53,59.78 345.64,59.97 344.79,61.06 343.96,61.26 343.15,61.63 342.37,61.83 341.62,62.53 340.88,62.84 340.17,64.2 339.47,64.75 338.13,65.31 337.49,65.84 336.24,66.17 335.06,66.86 333.92,67.25 332.84,67.43 331.79,67.37 330.79,68.24 329.82,68.2 328.89,68.47 328.43,69.11 327.55,69.22 326.69,69.35 325.86,69.87 325.06,69.92 324.67,70.67 323.9,70.86 323.16,71.14 322.43,71.3 321.73,71.29 321.04,71.45 320.04,71.64 319.08,71.98 318.15,72.12 317.55,72.5 316.68,72.98 315.83,73.31 315.01,73.63 314.22,74.02 313.44,74.73 312.7,74.9 311.97,75.23 311.26,75.61 310.57,76.03 309.9,76.34 309.24,76.63 308.39,76.93" fill="#c71585" fill-opacity="0.17"/><path d="M394.04 23.96h0M386.53 33.59h0M380.71 33.89h0M375.95 36.6h0M371.93 38.2h0M368.44 41.21h0M365.37 45.33h0M362.62 45.73h0M360.13 46.74h0M357.86 47.79h0M355.77 49.66h0M353.84 51.78h0M352.04 52.82h0M350.35 53.15h0M348.77 53.98h0M347.28 54.14h0M345.87 54.34h0M344.53 54.48h0M343.25 54.73h0M342.04 55.33h0M340.88 55.48h0M339.77 56.16h0M338.7 56.44h0M337.68 57.07h0M336.69 57.36h0M335.74 57.6h0M334.83 58.03h0M333.94 58.57h0L333.09 58.77L332.26 58.99L331.46 59.33M330.68 59.8h0L329.92 60.05L329.18 60.22L328.47 60.62L327.77 60.92L327.1 61.2L326.43 61.47L325.79 61.92L325.16 62.1L324.55 62.51M323.95 63.21h0L323.36 63.37L322.79 63.94L322.23 64.19L321.68 64.45L321.14 64.65L320.61 64.94L320.09 65.13L319.59 65.46L319.09 65.77L318.6 66.2L318.12 66.27L317.65 66.35L317.19 66.76L316.74 67.09L316.29 67.15L315.85 67.79L315.42 68.22L315 68.51L314.58 68.9L314.17 69.22L313.76 69.63L312.97 69.79L312.58 70.04L311.83 70.42L311.46 70.93L310.73 71.18L310.03 71.58L309.34 71.73L309 72.08L308.34 72.33L308.02 72.92L307.38 73.35L306.76 73.76L306.15 74.36L305.56 74.63L304.98 74.84L304.41 75.19L303.86 75.6L303.31 76.29L302.78 76.51L302.26 76.72L301.75 77.16L301.25 77.4L301 77.86L300.51 77.98L300.03 78.19L299.56 78.35L299.1 79L298.64 79.1L298.2 79.38L297.76 79.7L297.12 79.88L296.69 80.14L296.28 80.38L295.87 80.62L295.27 80.83L294.69 81.13L294.11 81.48L293.55 81.75L293 82.05L292.64 82.42L292.29 82.93L291.76 83.21L291.25 83.55L290.75 83.83L290.25 84.16L289.77 84.26L289.29 84.51L288.82 84.62L288.36 84.9L287.91 85.24L287.47 85.43L287.18 85.79L286.75 86.01L286.32 86.18L285.9 86.36L285.36 86.53L284.95 86.77L284.56 87.06L284.17 87.57L283.78 88.04L283.28 88.37L282.78 88.65L282.3 89L281.94 89.3L281.47 89.49L281.01 89.96L280.55 90.19L280.11 90.46L279.67 90.67L279.34 90.98L278.92 91.32L278.5 91.54L278.29 91.95L277.88 92.27L277.48 92.76L277.08 92.99L276.69 93.3L276.31 93.54L275.93 93.8L275.46 94L275.09 94.32L274.64 94.54L274.19 94.84L273.76 95.07L273.5 95.49L273.16 95.81L272.74 96.01L272.32 96.28L271.83 96.55L271.44 96.84L271.04 97.15L270.73 97.49L270.35 97.85L269.89 98.06L269.45 98.38L269.08 98.67L268.8 99.07L268.44 99.4L268.02 99.69L267.81 100.15L267.4 100.51L267 100.78L266.6 101.05L266.27 101.42L265.88 101.71L265.5 101.97L265.12 102.35L264.75 102.68L264.33 102.93L263.97 103.26L263.61 103.55L263.2 103.84L262.97 104.26L262.57 104.51L262.13 104.8L261.74 105.08L261.36 105.41L261.04 105.77L260.62 105.97L260.25 106.24L259.89 106.55L259.49 106.81L259.14 107.13L258.84 107.49L258.5 107.8L258.07 108L257.65 108.28L257.27 108.56L256.86 108.87L256.5 109.23L256.1 109.51L255.71 109.84L255.36 110.27L255.06 110.66L254.73 111.04L254.44 111.44L254.11 111.77L253.7 112.06L253.46 112.45L253.11 112.8L252.75 113.15L252.48 113.52L252.14 113.84L251.77 114.25L251.47 114.62L251.1 114.94L250.78 115.28L250.45 115.67L250.17 116.09L249.82 116.4L249.55 116.79L249.21 117.14L248.9 117.48L248.57 117.82L248.28 118.17L247.95 118.5L247.63 118.88L247.31 119.25L247 119.59L246.69 119.92L246.42 120.32L246.14 120.74L245.84 121.08L245.58 121.44L245.26 121.81L244.97 122.18L244.68 122.56L244.4 122.93L244.12 123.31L243.87 123.72L243.59 124.12L243.32 124.51L243.05 124.92L242.79 125.28L242.52 125.66L242.26 126.03L242 126.42L241.72 126.78L241.47 127.2L241.19 127.62L240.97 128.01L240.73 128.4L240.48 128.79L240.24 129.21L240 129.61L239.77 129.99L239.53 130.39L239.3 130.8L239.09 131.2L238.88 131.64L238.66 132.03L238.43 132.44L238.21 132.85L237.99 133.29L237.77 133.71L237.55 134.15L237.34 134.59L237.14 135.01L236.93 135.44L236.74 135.86L236.55 136.27L236.37 136.71L236.18 137.12L235.98 137.59L235.79 138.02L235.61 138.46L235.43 138.91L235.27 139.34L235.09 139.81L234.92 140.27L234.74 140.74L234.59 141.18L234.43 141.63L234.28 142.08L234.13 142.54L233.97 143L233.82 143.47L233.67 143.94L233.52 144.43L233.4 144.87L233.27 145.32L233.14 145.78L233.01 146.25L232.88 146.73L232.76 147.23L232.65 147.67L232.54 148.12L232.43 148.58L232.33 149.06L232.22 149.55L232.12 150.06L232.01 150.58L231.92 151.04L231.84 151.51L231.75 151.99L231.66 152.5L231.58 153.02L231.49 153.57L231.42 154.03L231.35 154.51L231.28 155L231.22 155.52L231.15 156.06L231.08 156.64L231.03 157.09L230.98 157.56L230.93 158.05L230.88 158.57L230.83 159.12L230.78 159.71L230.73 160.33L230.68 161L230.65 161.48L230.61 161.99L230.58 162.53L230.55 163.1L230.51 163.73L230.48 164.41L230.45 165.15L230.41 165.98L230.4 166.44L230.38 166.92L230.36 167.45L230.35 168.02L230.33 168.65L230.31 169.34L230.3 170.12M230.28 171.02h0M230.27 172.09h0M230.25 173.42h0M230.23 175.2h0M230.22 178.03h0M230.2 180.63h0" stroke="#000000" stroke-width="2.75" stroke-linecap="round" stroke-linejoin="round" fill="none"/><path d="M401.19 7.61h0M393.68 13.73h0M387.86 22.56h0M383.1 29.48h0M379.07 29.98h0M375.59 33.89h0M372.52 35.5h0M369.77 37.49h0M367.28 37.84h0M365.01 38.22h0M362.92 39.98h0M360.98 40.34h0M359.18 41.09h0M357.5 41.36h0M355.92 41.65h0M354.42 41.99h0M353.01 42.3h0M351.67 43.26h0M350.4 43.82h0M349.19 44.26h0M348.03 44.88h0M346.91 46.23h0M345.85 46.69h0M344.83 47.01h0M343.84 47.34h0M342.89 47.72h0M341.98 48.07h0M341.09 48.53h0M340.23 49.18h0M339.41 49.94h0L338.6 50.19M337.82 51.62h0M337.07 52.25h0M336.33 54.3h0M335.62 55.22h0L334.92 55.46L334.24 55.87L333.58 56.14L332.94 56.75L332.31 57.26L331.69 57.7L331.09 57.81L330.51 58.06L329.93 58.23L329.37 58.33L328.82 58.84L328.28 59.08L327.76 59.81L327.24 59.9L326.73 60.06L326.24 60.48L325.75 60.73L325.27 60.81L324.8 61.06L324.34 61.26L323.88 61.42L323.44 61.56L323 61.67L322.57 61.86L322.14 62.04L321.73 62.28L321.31 62.58L320.51 62.74M319.73 63.19h0L318.97 63.58L318.24 63.81L317.52 64.28L316.83 64.73L316.15 64.87L315.82 65.23L315.17 65.78L314.53 66.14L313.91 66.3L313.6 67.06L313 67.41L312.71 67.77L312.13 68.22L311.56 68.45L311 68.72L310.46 68.91L309.93 69.05L309.41 69.45L308.89 69.64L308.39 70L307.9 70.11L307.42 70.51L307.18 70.95L306.71 71.31L306.25 71.37L305.79 71.75L305.35 71.86L304.91 72.25L304.48 72.56L304.05 72.81L303.63 73.14L303.02 73.44L302.82 74.01L302.42 74.33L301.83 74.6L301.45 75.08L300.88 75.48L300.33 75.78L299.79 76.08L299.26 76.23L298.74 76.76L298.23 76.95L297.73 77.27L297.24 77.47L296.75 77.82L296.28 78.36L295.82 78.71L295.36 79.12L294.91 79.33L294.47 79.52L294.04 79.76L293.61 80.23L293.19 80.41L292.78 80.75L292.37 80.95L291.97 81.33L291.57 81.55L291.06 81.78L290.55 82L290.18 82.39L289.93 82.91L289.56 83.22L289.09 83.41L288.62 83.63L288.15 83.91L287.7 84.05L287.25 84.29L286.81 84.72L286.49 85.05L286.06 85.24L285.64 85.53L285.23 85.73L284.83 86.12L284.43 86.51L284.03 86.73L283.55 86.88L283.17 87.2L282.7 87.39L282.24 87.66L281.79 88L281.34 88.32L280.9 88.47L280.47 88.75L280.05 89.06L279.63 89.4L279.22 89.72L278.82 89.94L278.34 90.13L277.95 90.46L277.57 90.72L277.12 90.93L276.74 91.19L276.3 91.41L276.01 91.79L275.59 92L275.17 92.24L274.82 92.56L274.41 92.8L274.01 93.14L273.61 93.5L273.16 93.67L272.77 93.92L272.33 94.14L272.02 94.59L271.59 94.84L271.17 95.09L270.76 95.31L270.35 95.59L269.95 95.83L269.55 96.16L269.16 96.38L268.78 96.68L268.45 97L268.08 97.28L267.66 97.52L267.24 97.76L266.84 98.08L266.48 98.37L266.19 98.76L265.84 99.13L265.46 99.46L265.07 99.72L264.7 100.01L264.28 100.27L263.92 100.58L263.51 100.83L263.16 101.12L262.81 101.42L262.51 101.78L262.13 102.05L261.79 102.39L261.46 102.77L261.09 103.06L260.69 103.35L260.29 103.62L259.9 103.88L259.55 104.18L259.18 104.49L258.76 104.72L258.39 104.99L258.03 105.29L257.67 105.65L257.28 105.9L256.97 106.29L256.59 106.58L256.25 106.91L255.92 107.27L255.55 107.54L255.23 107.89L254.87 108.19L254.62 108.57L254.27 108.87L253.9 109.17L253.5 109.43L253.17 109.74L252.84 110.09L252.49 110.37L252.11 110.63L251.77 110.93L251.52 111.32L251.21 111.67L250.9 112.05L250.55 112.43L250.2 112.79L249.88 113.12L249.59 113.49L249.25 113.84L248.97 114.28L248.64 114.61L248.29 114.93L247.97 115.27L247.68 115.62L247.34 115.96L247.03 116.34L246.72 116.74L246.42 117.09L246.12 117.49L245.85 117.86L245.56 118.23L245.27 118.6L244.96 118.95L244.68 119.33L244.44 119.74L244.18 120.13L243.93 120.5L243.66 120.87L243.37 121.24L243.08 121.62L242.84 122.01L242.6 122.4L242.34 122.79L242.08 123.16L241.83 123.57L241.56 123.96L241.31 124.35L241.06 124.73L240.84 125.14L240.6 125.55L240.36 125.96L240.14 126.36L239.92 126.75L239.69 127.19L239.46 127.6L239.23 128.02L239 128.43L238.81 128.84L238.6 129.24L238.4 129.64L238.19 130.06L237.99 130.47L237.81 130.88L237.61 131.3L237.41 131.73L237.22 132.17L237.02 132.61L236.84 133.04L236.67 133.45L236.48 133.89L236.31 134.31L236.13 134.73L235.96 135.16L235.79 135.62L235.62 136.06L235.46 136.49L235.29 136.94L235.12 137.39L234.96 137.85L234.81 138.27L234.66 138.7L234.52 139.15L234.37 139.59L234.22 140.04L234.08 140.5L233.94 140.96L233.79 141.44L233.66 141.87L233.54 142.32L233.41 142.77L233.28 143.23L233.16 143.69L233.03 144.17L232.91 144.66L232.8 145.1L232.69 145.55L232.58 146.02L232.47 146.5L232.36 147L232.27 147.44L232.17 147.9L232.08 148.37L231.99 148.86L231.89 149.36L231.82 149.81L231.74 150.27L231.66 150.75L231.58 151.24L231.5 151.76L231.43 152.21L231.37 152.67L231.3 153.15L231.24 153.65L231.18 154.17L231.11 154.72L231.06 155.18L231.01 155.66L230.96 156.17L230.91 156.7L230.85 157.25L230.8 157.85L230.77 158.31L230.73 158.81L230.69 159.33L230.65 159.88L230.61 160.47L230.58 161.11L230.55 161.56L230.53 162.04L230.5 162.54L230.47 163.09L230.45 163.67L230.42 164.3L230.4 165L230.37 165.77L230.35 166.63L230.34 167.11L230.32 167.62L230.31 168.18L230.3 168.79L230.29 169.48L230.27 170.24L230.26 171.13M230.25 172.18h0M230.24 173.49h0M230.22 175.25h0M230.21 178.05h0M230.2 180.63h0" stroke="#3f6fe3" stroke-width="2.75" stroke-linecap="round" stroke-linejoin="round" fill="none"/><path d="M397.68 14.53h0M390.17 14.53h0M384.35 16.84h0M379.59 16.84h0M375.57 17.84h0M372.08 20.05h0M369.01 20.55h0M366.26 23.96h0M363.77 24.97h0M361.5 28.07h0M359.41 29.18h0M357.48 30.47h0M355.68 35.03h0M353.99 36.68h0M352.41 37.19h0M350.92 37.49h0M349.51 38.73h0M348.17 39.64h0M346.89 39.91h0M345.68 40h0M344.52 40.34h0M343.41 40.72h0M342.34 40.75h0M341.32 40.88h0M340.33 41.13h0M339.38 41.72h0M338.47 41.9h0M337.58 42.25h0M336.73 43.19h0L335.9 43.41M335.1 44.12h0L334.32 44.32M333.56 45.11h0L332.82 45.31L332.11 45.72M331.41 46.3h0L330.74 46.34M330.07 46.97h0L329.43 47.26L328.8 47.45L328.19 47.59L327.59 48.07L327 48.11L326.43 48.41L325.87 48.66L325.32 49.18L324.78 49.49L324.25 49.67L323.73 49.78L323.23 49.91L322.73 50.06L322.24 50.16L321.76 50.23M321.29 51.27h0L320.83 51.66L320.38 52.06M319.93 53.24h0L319.49 53.4L319.06 53.71L318.64 53.92M317.81 54.75h0L317.4 55.47L316.61 55.73L315.84 56.18L315.47 56.62L314.73 56.75M314.02 57.33h0L313.67 57.65L312.98 57.82L312.64 58.25L311.98 58.43L311.34 58.85L310.71 59.04L310.4 59.6L310.1 60.17L309.5 60.41L309.2 60.89L308.62 61.07L308.05 61.41L307.5 61.55L306.95 62.2L306.42 62.44L305.9 62.81L305.39 63.17L304.89 63.25L304.39 63.48L303.91 63.88L303.43 64.3L302.97 64.57L302.51 64.99L302.06 65.19L301.62 65.56L301.4 65.99L300.97 66.32L300.54 66.59L300.13 66.79L299.51 67.05L299.11 67.32L298.52 67.64L297.94 67.75L297.56 68.06L297.19 68.65L296.64 68.93L296.1 69.11L295.58 69.54L295.23 69.88L294.72 70.07L294.55 70.54L294.05 70.89L293.73 71.32L293.25 71.65L292.77 71.94L292.31 72.27L291.85 72.51L291.4 72.76L291.11 73.13L290.67 73.26L290.53 73.77L290.1 74.04L289.54 74.18L289.13 74.47L288.59 74.69L288.2 75.11L287.68 75.32L287.3 75.64L286.79 75.8L286.3 76.02L285.94 76.38L285.46 76.89L285.11 77.18L284.65 77.41L284.31 77.76L283.86 78.1L283.42 78.29L282.98 78.59L282.66 78.99L282.24 79.27L281.93 79.61L281.52 80L281.12 80.25L280.72 80.52L280.53 80.93L280.14 81.17L279.75 81.74L279.38 82.01L278.91 82.26L278.55 82.56L278.28 83L277.92 83.33L277.48 83.52L277.05 83.86L276.71 84.21L276.29 84.5L275.88 84.78L275.56 85.15L275.23 85.52L274.84 85.75L274.37 85.99L273.99 86.34L273.61 86.65L273.16 86.94L272.8 87.38L272.36 87.75L272.01 88.09L271.52 88.3L271.11 88.71L270.7 88.92L270.3 89.23L269.84 89.46L269.46 89.7L269.08 89.98L268.76 90.43L268.52 90.84L268.15 91.11L267.79 91.41L267.43 91.71L267.08 92.12L266.73 92.43L266.38 92.73L265.99 93.04L265.6 93.33L265.22 93.59L264.89 93.94L264.52 94.2L264.15 94.59L263.74 94.92L263.43 95.27L263.08 95.55L262.78 95.93L262.48 96.29L262.09 96.56L261.66 96.82L261.43 97.24L261.1 97.57L260.68 97.8L260.46 98.21L260.14 98.53L259.83 98.91L259.48 99.21L259.05 99.45L258.7 99.77L258.37 100.08L257.99 100.33L257.67 100.64L257.26 100.89L256.94 101.25L256.63 101.61L256.28 101.92L255.93 102.23L255.63 102.59L255.37 103L255.07 103.43L254.74 103.8L254.42 104.12L254.06 104.55L253.78 104.97L253.43 105.34L253.08 105.69L252.75 106.04L252.38 106.34L252.08 106.73L251.72 107.03L251.43 107.41L251.11 107.84L250.83 108.21L250.49 108.51L250.18 108.86L249.87 109.25L249.51 109.59L249.22 109.95L248.9 110.3L248.58 110.64L248.29 111.02L247.98 111.42L247.7 111.79L247.37 112.14L247.04 112.48L246.75 112.86L246.43 113.21L246.11 113.58L245.82 113.95L245.57 114.36L245.26 114.69L244.96 115.07L244.66 115.45L244.39 115.83L244.07 116.22L243.83 116.61L243.59 116.99L243.36 117.42L243.08 117.78L242.8 118.17L242.52 118.57L242.25 118.98L241.98 119.35L241.76 119.76L241.52 120.15L241.28 120.54L241.04 120.92L240.8 121.31L240.55 121.71L240.28 122.12L240.03 122.53L239.78 122.93L239.55 123.34L239.33 123.75L239.09 124.15L238.85 124.57L238.62 125L238.38 125.42L238.17 125.85L237.94 126.26L237.75 126.68L237.54 127.09L237.33 127.52L237.13 127.96L236.94 128.37L236.74 128.81L236.54 129.27L236.36 129.68L236.18 130.1L236 130.52L235.83 130.96L235.65 131.39L235.48 131.82L235.3 132.26L235.13 132.71L234.96 133.16L234.79 133.63L234.64 134.06L234.49 134.5L234.34 134.95L234.19 135.41L234.04 135.87L233.89 136.35L233.76 136.78L233.63 137.22L233.5 137.66L233.37 138.12L233.24 138.6L233.11 139.08L232.99 139.58L232.88 140.02L232.77 140.48L232.66 140.95L232.55 141.44L232.44 141.94L232.35 142.39L232.25 142.84L232.16 143.31L232.07 143.8L231.98 144.31L231.89 144.83L231.81 145.29L231.74 145.76L231.66 146.24L231.59 146.75L231.51 147.28L231.44 147.83L231.38 148.29L231.32 148.77L231.26 149.27L231.2 149.78L231.14 150.33L231.08 150.9L231.02 151.5L230.98 151.97L230.94 152.47L230.89 152.99L230.85 153.53L230.8 154.11L230.76 154.72L230.72 155.36L230.69 155.82L230.66 156.3L230.63 156.81L230.6 157.34L230.57 157.91L230.54 158.51L230.51 159.15L230.49 159.85L230.46 160.61L230.43 161.44M230.4 162.36h0L230.39 162.86L230.37 163.4L230.36 163.98L230.34 164.6L230.33 165.28L230.31 166.02L230.3 166.85M230.29 167.79h0M230.27 168.88h0M230.26 170.17h0M230.24 171.78h0M230.23 173.95h0M230.21 177.42h0M230.2 180.63h0" stroke="#ff901c" stroke-width="2.75" stroke-linecap="round" stroke-linejoin="round" fill="none"/><path d="M398.23 28.38h0M392.41 29.18h0M387.65 29.48h0M383.63 32.69h0M380.14 36h0M377.07 36.6h0M374.32 39.84h0M371.83 40.01h0M369.56 40.46h0M367.47 41.06h0M365.53 41.43h0M363.73 43.27h0M362.05 44.4h0M360.47 45.28h0M358.97 46.11h0M357.56 46.47h0M356.22 46.93h0M354.95 47.83h0M353.74 48.67h0M352.58 48.9h0M351.47 51.25h0M350.4 51.44h0M349.38 52h0M348.39 52.59h0M347.44 53.21h0M346.53 54h0M345.64 54.3h0M344.79 55.52h0L343.96 55.83M343.15 56.31h0L342.37 56.62M341.62 57.42h0L340.88 57.84M340.17 59.3h0M339.47 59.95h0L338.79 60.46L338.13 60.69L337.49 61.3L336.86 61.63L336.24 61.81L335.64 62.43L335.06 62.66L334.48 62.83L333.92 63.21L333.37 63.53L332.84 63.54L332.31 63.58L331.79 63.63L331.28 64.21L330.79 64.63L330.3 64.68L329.82 64.73L329.35 64.87L328.89 65.13L328.43 65.82L327.99 65.95L327.55 66.06L327.12 66.21L326.28 66.4L325.86 66.94L325.06 67.1L324.67 67.91L323.9 68.21L323.16 68.59L322.43 68.85L321.73 68.94L321.04 69.19L320.37 69.44L319.72 69.68L319.08 69.99L318.46 70.18L317.85 70.43L317.26 70.91L316.68 71.32L316.11 71.54L315.56 71.86L315.01 72.21L314.48 72.43M313.96 73.27h0L313.44 73.52L312.94 73.73L312.45 73.89L311.97 74.23L311.49 74.57L311.03 74.9L310.57 75.22L310.12 75.55L309.68 75.76L309.24 76L308.81 76.16L308.39 76.42L307.77 76.55L307.17 76.73L306.58 76.99L306 77.23L305.62 77.7L305.06 78.15L304.52 78.25L303.98 78.54L303.63 78.93L303.29 79.23L302.78 79.53L302.28 79.85L301.95 80.17L301.46 80.32L300.99 80.44L300.52 80.71L300.21 81.08L299.76 81.37L299.31 81.52L298.87 81.78L298.59 82.17L298.16 82.41L297.74 82.7L297.33 82.96L296.92 83.37L296.52 83.65L296.12 83.97L295.74 84.27L295.35 84.58L294.85 84.92L294.36 85.24L293.87 85.59L293.52 85.88L293.17 86.35L292.7 86.65L292.25 86.9L291.8 87.3L291.37 87.5L290.93 87.8L290.51 88.09L289.99 88.24L289.68 88.59L289.28 88.85L288.88 89.08L288.49 89.43L288 89.74L287.62 90.07L287.16 90.29L286.7 90.55L286.25 90.8L285.8 91.13L285.37 91.34L285.02 91.68L284.6 91.89L284.19 92.19L283.94 92.57L283.61 92.98L283.21 93.24L282.74 93.47L282.35 93.72L281.97 93.97L281.52 94.17L281.15 94.43L280.71 94.78L280.28 95.01L279.93 95.31L279.51 95.62L279.17 96.25L278.76 96.55L278.29 96.7L277.9 96.99L277.45 97.21L277.01 97.47L276.57 97.71L276.21 98.07L275.9 98.4L275.49 98.57L275.07 98.95L274.67 99.25L274.21 99.44L273.77 99.66L273.33 99.86L273 100.2L272.68 100.56L272.26 100.78L271.9 101.06L271.54 101.34L271.18 101.71L270.88 102.07L270.59 102.41L270.2 102.71L269.86 103.04L269.44 103.32L269.06 103.64L268.61 103.82L268.2 104.08L267.89 104.49L267.54 104.77L267.15 105L266.76 105.26L266.38 105.55L266.01 105.85L265.68 106.19L265.32 106.51L264.96 106.82L264.53 107.05L264.22 107.38L263.88 107.72L263.5 108.03L263.2 108.38L262.8 108.65L262.44 108.94L262.08 109.25L261.69 109.5L261.42 109.9L261.11 110.23L260.9 110.63L260.57 110.94L260.2 111.28L259.88 111.65L259.46 111.86L259.07 112.14L258.67 112.36L258.27 112.57L257.87 112.81L257.51 113.13L257.13 113.4L256.87 113.77L256.49 114.06L256.15 114.42L255.81 114.73L255.43 115.04L255.05 115.34L254.7 115.65L254.35 115.99L253.99 116.31L253.65 116.61L253.34 116.97L253.02 117.3L252.69 117.62L252.35 117.95L252.01 118.26L251.65 118.58L251.3 118.86L250.95 119.19L250.63 119.53L250.31 119.88L250 120.22L249.66 120.54L249.36 120.87L249.05 121.23L248.76 121.6L248.44 121.94L248.13 122.29L247.84 122.65L247.53 122.98L247.21 123.32L246.89 123.66L246.59 124.06L246.32 124.46L246.03 124.82L245.73 125.18L245.45 125.53L245.19 125.92L244.93 126.32L244.63 126.68L244.36 127.07L244.08 127.45L243.8 127.84L243.53 128.22L243.26 128.59L242.98 128.99L242.71 129.38L242.46 129.76L242.21 130.14L241.96 130.52L241.73 130.92L241.48 131.31L241.24 131.71L240.98 132.09L240.73 132.48L240.5 132.89L240.28 133.3L240.07 133.7L239.84 134.1L239.63 134.52L239.39 134.93L239.17 135.35L238.95 135.75L238.73 136.16L238.51 136.57L238.3 136.96L238.1 137.37L237.89 137.78L237.68 138.19L237.47 138.61L237.27 139.02L237.06 139.45L236.86 139.86L236.66 140.29L236.46 140.73L236.26 141.14L236.06 141.58L235.88 142.02L235.7 142.44L235.52 142.86L235.34 143.29L235.16 143.72L234.99 144.16L234.81 144.6L234.64 145.05L234.48 145.47L234.32 145.9L234.16 146.35L234 146.79L233.85 147.25L233.69 147.71L233.55 148.14L233.41 148.59L233.27 149.04L233.12 149.51L233 149.94L232.87 150.39L232.74 150.85L232.62 151.32L232.5 151.76L232.39 152.22L232.27 152.69L232.16 153.17L232.06 153.62L231.96 154.08L231.86 154.56L231.77 155.01L231.68 155.46L231.59 155.94L231.51 156.44L231.43 156.89L231.35 157.36L231.28 157.85L231.2 158.37L231.14 158.83L231.07 159.32L231.01 159.83L230.95 160.28L230.9 160.76L230.84 161.26L230.79 161.79L230.75 162.24L230.71 162.72L230.66 163.23L230.62 163.77L230.58 164.36L230.55 164.83L230.52 165.34L230.48 165.89L230.45 166.49L230.42 167.15L230.4 167.63L230.38 168.16L230.36 168.74L230.34 169.38L230.32 170.11L230.29 170.96L230.28 171.44L230.27 171.98L230.26 172.58L230.25 173.28L230.24 174.1M230.23 175.12h0M230.22 176.49h0M230.21 178.65h0M230.2 180.63h0" stroke="#c2158a" stroke-width="2.75" stroke-linecap="round" stroke-linejoin="round" fill="none"/><path d="M321.6 0.3V178" stroke="#ff901c" stroke-width="1.4" stroke-opacity="0.8" fill="none"/><path d="M337.5 0.3V178" stroke="#3f6fe3" stroke-width="1.4" stroke-opacity="0.8" fill="none"/><path d="M350.3 0.3V178" stroke="#c2158a" stroke-width="1.4" stroke-opacity="0.8" fill="none"/><path d="M230.2 52.65H402" stroke="#111" stroke-width="1.5" stroke-dasharray="4.1 2.2" fill="none"/></g><rect x="230.2" y="0.3" width="171.8" height="177.7" fill="none" stroke="#adadad" stroke-width="1"/><path d="M230.2 163.58h-2.2M230.2 143.52h-2.2M230.2 123.46h-2.2M230.2 103.4h-2.2M230.2 83.34h-2.2M230.2 63.28h-2.2M230.2 43.22h-2.2M230.2 23.16h-2.2M230.2 3.1h-2.2M230.2 178v2.2M290.3 178v2.2M350.4 178v2.2" stroke="#9a9a9a" stroke-width="0.7" fill="none"/><text x="217.4" y="166.48" class="t" textLength="9" lengthAdjust="spacingAndGlyphs">12</text><text x="217.4" y="146.42" class="t" textLength="9" lengthAdjust="spacingAndGlyphs">14</text><text x="217.4" y="126.36" class="t" textLength="9" lengthAdjust="spacingAndGlyphs">16</text><text x="217.4" y="106.3" class="t" textLength="9" lengthAdjust="spacingAndGlyphs">18</text><text x="217.4" y="86.24" class="t" textLength="9" lengthAdjust="spacingAndGlyphs">20</text><text x="217.4" y="66.18" class="t" textLength="9" lengthAdjust="spacingAndGlyphs">22</text><text x="217.4" y="46.12" class="t" textLength="9" lengthAdjust="spacingAndGlyphs">24</text><text x="217.4" y="26.06" class="t" textLength="9" lengthAdjust="spacingAndGlyphs">26</text><text x="217.4" y="6" class="t" textLength="9" lengthAdjust="spacingAndGlyphs">28</text><text x="227.95" y="187.3" class="t" textLength="4.5" lengthAdjust="spacingAndGlyphs">1</text><text x="285.8" y="187.3" class="t" textLength="9" lengthAdjust="spacingAndGlyphs">10</text><text x="343.65" y="187.3" class="t" textLength="13.5" lengthAdjust="spacingAndGlyphs">100</text><text x="278.5" y="195.6" class="l" textLength="74.8" lengthAdjust="spacingAndGlyphs">Return period(year)</text><text transform="translate(213.6 89.45) rotate(-90)" x="-29.2" y="0" class="yl" textLength="58.4" lengthAdjust="spacingAndGlyphs">Rx5d (mm/day)</text><text x="232.1" y="9.1" class="ti" textLength="44.9" lengthAdjust="spacingAndGlyphs">HadRM3P</text><rect x="233.6" y="133.7" width="48.3" height="41.1" rx="1.2" fill="#fff" fill-opacity="0.8" stroke="#d4d4d4" stroke-width="0.6"/><circle cx="242.4" cy="139.3" r="1.3" fill="#000000"/><text x="254.4" y="141.8" class="lg" textLength="12.6" lengthAdjust="spacingAndGlyphs">Hist</text><circle cx="242.4" cy="148.9" r="1.3" fill="#3f6fe3"/><text x="254.4" y="151.4" class="lg" textLength="13.6" lengthAdjust="spacingAndGlyphs">1.5 (</text><text x="268.2" y="149.1" class="sup" font-style="italic">o</text><text x="271.3" y="151.4" class="lg" textLength="5.3" lengthAdjust="spacingAndGlyphs">C</text><text x="276.7" y="151.4" class="lg" textLength="2.7" lengthAdjust="spacingAndGlyphs">)</text><circle cx="242.4" cy="158.5" r="1.3" fill="#ff901c"/><text x="254.4" y="161" class="lg" textLength="7.2" lengthAdjust="spacingAndGlyphs">2 (</text><text x="261.8" y="158.7" class="sup" font-style="italic">o</text><text x="264.9" y="161" class="lg" textLength="5.3" lengthAdjust="spacingAndGlyphs">C</text><text x="270.3" y="161" class="lg" textLength="2.7" lengthAdjust="spacingAndGlyphs">)</text><circle cx="242.4" cy="168.1" r="1.3" fill="#c2158a"/><text x="254.4" y="170.6" class="lg" textLength="23.8" lengthAdjust="spacingAndGlyphs">HistNat</text><clipPath id="c2"><rect x="429.8" y="0.3" width="176" height="177.7"/></clipPath><rect x="429.8" y="0.3" width="176" height="177.7" fill="#fff"/><g clip-path="url(#c2)"><path d="M447.89 0.3V178M458.47 0.3V178M465.98 0.3V178M471.81 0.3V178M476.57 0.3V178M480.59 0.3V178M484.08 0.3V178M487.15 0.3V178M507.99 0.3V178M518.57 0.3V178M526.08 0.3V178M531.91 0.3V178M536.67 0.3V178M540.69 0.3V178M544.18 0.3V178M547.25 0.3V178M568.09 0.3V178M578.67 0.3V178M586.18 0.3V178M592.01 0.3V178M596.77 0.3V178M600.79 0.3V178M604.28 0.3V178" stroke="#b8b8b8" stroke-width="0.5" stroke-dasharray="0.6 0.6" fill="none"/><path d="M429.8 0.3V178M489.9 0.3V178M550 0.3V178M429.8 159.9H605.8M429.8 126.55H605.8M429.8 93.2H605.8M429.8 59.85H605.8M429.8 26.5H605.8" stroke="#d0d0d0" stroke-width="0.7" fill="none"/><rect x="522" y="0.3" width="14.2" height="177.7" fill="#ff8c00" fill-opacity="0.075"/><rect x="536" y="0.3" width="14.4" height="177.7" fill="#4169e1" fill-opacity="0.075"/><rect x="575.2" y="0.3" width="124.8" height="177.7" fill="#c71585" fill-opacity="0.075"/><polygon points="502.12,65.17 502.93,64.3 503.78,63.95 504.65,63.66 505.55,63.4 506.48,63.06 507.44,62.82 507.94,62.31 508.45,61.68 509.49,61.05 510.58,60.66 511.72,60.46 512.9,60.14 514.15,59.14 515.45,58.77 516.82,58.11 517.54,57.77 518.27,57.56 519.03,57.17 519.81,57.11 520.61,56.67 521.44,56.43 522.3,55.99 523.18,55.25 524.1,54.95 525.05,54.81 526.03,54.38 527.06,54.28 528.12,54.14 529.23,53.7 530.39,53.54 531.61,51.42 532.88,51.19 534.22,49.76 535.63,49.01 537.12,48.77 538.71,47.27 540.39,46.28 542.19,45.75 544.13,44.94 546.21,43.92 548.49,40.92 550.97,39.88 553.72,38.95 556.8,38.43 560.28,37.84 564.31,32.9 569.07,32.1 574.89,28.56 582.4,23.86 592.98,17.1 606.8,13.79 606.8,36.47 592.98,37.23 582.4,40.88 574.89,43.38 569.07,45.18 564.31,44.38 560.28,47.97 556.8,47.39 553.72,46.87 550.97,46.87 548.49,47.43 546.21,50.17 544.13,50.95 542.19,51.56 540.39,51.88 538.71,52.69 537.12,54.02 535.63,54.09 534.22,54.68 532.88,55.96 531.61,56.05 530.39,58.03 529.23,58.06 528.12,58.38 527.06,58.4 526.03,58.39 525.05,58.71 524.1,58.74 523.18,58.94 522.3,59.59 521.44,59.93 520.61,60.08 519.81,60.43 519.03,60.4 518.27,60.71 517.54,60.83 516.82,61.1 515.45,61.61 514.15,61.83 512.9,62.69 511.72,62.88 510.58,62.96 509.49,63.22 508.45,63.74 507.44,64.77 506.48,64.9 505.55,65.14 504.65,65.3 503.78,65.49 502.93,65.74 502.12,66.53" fill="#000000" fill-opacity="0.2"/><polygon points="502.12,59.7 502.93,59.3 503.78,58.63 504.65,57.87 505.55,57.63 506.48,56.64 507.44,56.11 508.45,55.91 508.97,55.35 510.03,54.48 511.14,54.16 512.3,53.81 513.52,52.62 514.79,52.15 516.13,51.61 516.82,51.41 517.54,51.29 518.27,51.06 519.03,50.78 519.81,50.5 520.61,49.65 521.44,49.28 522.3,49 523.18,48.71 524.1,48.04 525.05,47.14 526.03,46.51 527.06,46.09 528.12,45.45 529.23,44.93 530.39,44.44 531.61,43.96 532.88,43.62 534.22,43.13 535.63,42.68 537.12,40.82 538.71,40.23 540.39,38.9 542.19,37.35 544.13,36.51 546.21,34.97 548.49,33.85 550.97,31.27 553.72,25.68 556.8,19.21 560.28,15.94 564.31,15.8 569.07,12.3 574.89,0.66 582.4,-0.72 592.98,-5.45 606.8,-7.3 606.8,19.38 592.98,19.72 582.4,22.61 574.89,22.07 569.07,29.74 564.31,33.82 560.28,34.46 556.8,35.73 553.72,38.84 550.97,39.64 548.49,40.36 546.21,41.22 544.13,42.53 542.19,43.15 540.39,44.51 538.71,45.65 537.12,46.07 535.63,47.76 534.22,48.05 532.88,48.39 531.61,48.58 530.39,48.93 529.23,49.29 528.12,49.69 527.06,50.21 526.03,50.52 525.05,51.04 524.1,51.84 523.18,52.41 522.3,52.59 521.44,52.78 520.61,53.06 519.81,53.82 519.03,54.01 518.27,54.21 517.54,54.36 516.82,54.4 516.13,54.52 514.79,54.92 513.52,55.24 512.3,56.29 511.14,56.52 510.03,56.71 508.97,57.47 508.45,57.97 507.44,58.06 506.48,58.48 505.55,59.37 504.65,59.51 503.78,60.17 502.93,60.75 502.12,61.06" fill="#4169e1" fill-opacity="0.2"/><polygon points="502.12,56.66 502.93,55.75 503.78,55.19 504.21,54.57 505.09,53.72 506.01,52.9 506.48,52.38 506.96,51.68 507.94,51.05 508.97,50.44 509.49,49.6 510.58,49.1 511.14,48.53 511.72,47.93 512.3,47.53 512.9,46.94 514.15,46.37 514.79,45.76 515.45,45.45 516.13,45.01 516.82,44.48 517.54,43.93 518.27,43.68 519.03,43.41 519.81,43.11 520.61,42.83 521.44,42.14 522.3,41.97 523.18,41.76 524.1,41.23 525.05,40.99 526.03,40.76 527.06,40.17 528.12,39.8 529.23,39.41 530.39,39.15 531.61,38.84 532.88,38.77 534.22,38.7 535.63,38.56 537.12,38.39 538.71,37.61 540.39,34.35 542.19,33.13 544.13,32.78 546.21,31.7 548.49,31.37 550.97,31.09 553.72,30.27 556.8,29.28 560.28,27.87 564.31,26.27 569.07,25.42 574.89,19.81 582.4,7.64 592.98,6.96 606.8,5.83 606.8,30.51 592.98,30.3 582.4,31.53 574.89,31.1 569.07,35.19 564.31,35.27 560.28,36.21 556.8,37.06 553.72,37.54 550.97,37.92 548.49,37.97 546.21,38.2 544.13,39.19 542.19,39.45 540.39,40.59 538.71,43.78 537.12,44.49 535.63,44.59 534.22,44.67 532.88,44.68 531.61,44.69 530.39,44.95 529.23,45.16 528.12,45.5 527.06,45.82 526.03,46.36 525.05,46.56 524.1,46.75 523.18,47.24 522.3,47.41 521.44,47.55 520.61,48.2 519.81,48.41 519.03,48.54 518.27,48.64 517.54,48.73 516.82,49.12 516.13,49.5 514.79,49.95 514.15,50.42 512.9,50.71 511.72,51.44 511.14,51.91 510.58,52.36 509.49,52.61 508.97,53.33 507.94,53.72 506.96,54.14 506.01,55.15 505.09,55.76 504.65,56.32 503.78,56.94 502.93,57.31 502.12,58.04" fill="#ff8c00" fill-opacity="0.2"/><polygon points="502.12,78.66 502.93,78.37 503.78,77.91 504.65,77.58 505.55,76.79 506.48,76.48 507.44,76.13 508.45,75.71 508.97,74.95 510.03,74.7 511.14,74.41 511.72,73.96 512.9,73.66 513.52,73.11 514.79,72.69 515.45,72.39 516.13,72.18 516.82,71.55 517.54,71.19 518.27,70.77 519.03,70.58 519.81,70.41 520.61,70.28 521.44,69.79 522.3,69.62 523.18,69.48 524.1,69.13 525.05,68.95 526.03,68.73 527.06,68.41 528.12,67.87 529.23,67.57 530.39,67.04 531.61,66.41 532.88,65.75 534.22,65.4 535.63,65.03 537.12,64.64 538.71,63.78 540.39,61.04 542.19,60.17 544.13,58.11 546.21,57.57 548.49,56.98 550.97,54.76 553.72,52.5 556.8,52.52 560.28,52.36 564.31,51.3 569.07,50.41 574.89,48.71 582.4,44.81 592.98,40.37 606.8,37.72 606.8,62.4 592.98,61.59 582.4,61.82 574.89,62.72 569.07,62.36 564.31,62.93 560.28,63.73 556.8,63.65 553.72,63.42 550.97,65.5 548.49,67.17 546.21,67.06 544.13,66.95 542.19,68.41 540.39,68.71 538.71,70.92 537.12,71.3 535.63,71.22 534.22,71.14 532.88,71.08 531.61,71.34 530.39,71.67 529.23,72.07 528.12,72.23 527.06,72.65 526.03,72.85 525.05,72.96 524.1,73.02 523.18,73.27 522.3,73.31 521.44,73.38 520.61,73.77 519.81,73.81 519.03,73.9 518.27,73.99 517.54,74.33 516.82,74.6 516.13,75.15 514.79,75.52 513.52,75.79 512.3,76.31 511.14,76.81 510.03,76.97 508.97,77.1 508.45,77.8 507.44,78.1 506.48,78.35 505.55,78.55 504.65,79.23 503.78,79.46 502.93,79.82 502.12,80.02" fill="#c71585" fill-opacity="0.17"/><path d="M592.98 27.17h0M582.4 32.37h0M574.89 35.97h0M569.07 38.64h0M564.31 38.64h0M560.28 42.91h0M556.8 42.91h0M553.72 42.91h0M550.97 43.38h0M548.49 44.18h0M546.21 47.04h0M544.13 47.95h0M542.19 48.65h0M540.39 49.08h0M538.71 49.98h0M537.12 51.39h0M535.63 51.55h0M534.22 52.22h0M532.88 53.57h0M531.61 53.73h0M530.39 55.79h0M529.23 55.88h0M528.12 56.26h0M527.06 56.34h0M526.03 56.38h0M525.05 56.76h0M524.1 56.84h0M523.18 57.09h0M522.3 57.79h0M521.44 58.18h0L520.61 58.37L519.81 58.77L519.03 58.78L518.27 59.14L517.54 59.3L516.82 59.6L516.13 60.06L515.45 60.19L514.79 60.42L514.15 60.48M513.52 61.25h0L512.9 61.42L512.3 61.58L511.72 61.67L511.14 61.75L510.58 61.81L510.03 61.89L509.49 62.14L508.97 62.64L508.45 62.71L507.94 63.31L507.44 63.8L506.96 63.91L506.48 63.98L506.01 64.11L505.55 64.27L505.09 64.37L504.65 64.48L504.21 64.59L503.35 64.86M502.52 65.66h0L501.72 65.91L501.33 66.28M500.94 67.3h0M500.18 67.94h0L499.45 68.32L498.73 68.73L498.38 69.12L497.7 69.26L497.03 69.83L496.37 70.1L495.74 70.47L495.42 70.85L494.81 71.27M494.21 72.07h0L493.62 72.31L493.05 72.49L492.77 72.93L492.49 73.29L491.94 73.62L491.4 73.98L490.87 74.12L490.36 74.24L489.85 74.67L489.35 74.82L488.86 75.17L488.39 75.23L487.92 75.55L487.45 75.67L487 76.11L486.78 76.57L486.33 76.82L485.9 77.47L485.47 77.65L485.05 77.94L484.63 78.12L484.03 78.31L483.63 78.58L483.04 78.91L482.66 79.4L482.09 79.7L481.54 79.85L481.18 80.22L480.64 80.51L480.12 80.67L479.6 80.83L479.1 81.11L478.77 81.44L478.44 81.85L477.96 82.13L477.49 82.71L477.02 83L476.57 83.26L476.12 83.6L475.68 83.79L475.24 83.97L474.82 84.23L474.4 84.56L473.98 84.78L473.44 85.05L473.04 85.36L472.65 85.69L472.26 85.95L471.76 86.11L471.26 86.32L470.89 86.65L470.41 86.88L469.94 87.05L469.48 87.22L469.02 87.47L468.57 87.72L468.13 87.93L467.7 88.33L467.38 88.69L466.96 88.94L466.54 89.21L466.14 89.45L465.63 89.78L465.14 90.07L464.95 90.71L464.47 90.91L464 91.17L463.54 91.3L463.17 91.65L462.73 91.91L462.37 92.22L461.94 92.47L461.68 92.84L461.17 93L460.76 93.21L460.35 93.5L459.95 93.75L459.47 93.97L459.09 94.33L458.7 94.58L458.32 94.91L457.88 95.25L457.51 95.62L457.08 95.87L456.65 96.09L456.3 96.41L455.96 96.73L455.48 96.95L455.08 97.19L454.62 97.33L454.3 97.68L453.92 97.92L453.54 98.19L453.11 98.4L452.74 98.7L452.38 99L451.97 99.29L451.67 99.65L451.33 99.97L450.93 100.24L450.54 100.48L450.15 100.73L449.82 101.09L449.39 101.33L449.02 101.59L448.61 101.87L448.2 102.15L447.79 102.39L447.39 102.67L447 102.96L446.62 103.28L446.24 103.55L445.86 103.85L445.45 104.16L445.08 104.49L444.68 104.8L444.28 105.18L443.89 105.5L443.55 105.83L443.21 106.14L442.83 106.49L442.5 106.84L442.18 107.2L441.86 107.59L441.5 107.91L441.19 108.28L440.88 108.65L440.57 109L440.23 109.38L439.93 109.76L439.68 110.17L439.38 110.55L439.1 110.91L438.81 111.3L438.56 111.7L438.28 112.11L438.01 112.52L437.77 112.91L437.49 113.32L437.26 113.72L437.03 114.12L436.79 114.52L436.57 114.94L436.34 115.37L436.11 115.79L435.89 116.24L435.67 116.66L435.45 117.12L435.26 117.55L435.08 117.96L434.89 118.39L434.71 118.81L434.53 119.26L434.35 119.71L434.17 120.16L433.99 120.63L433.82 121.11L433.64 121.61L433.49 122.04L433.35 122.48L433.21 122.92L433.06 123.39L432.92 123.86L432.78 124.35L432.64 124.86L432.5 125.38L432.36 125.92L432.25 126.36L432.14 126.82L432.03 127.29L431.92 127.77L431.81 128.28L431.7 128.8L431.6 129.34L431.49 129.91L431.41 130.36L431.33 130.82L431.25 131.3L431.17 131.81L431.09 132.34L431.01 132.9L430.93 133.49L430.85 134.11L430.77 134.78L430.72 135.26L430.67 135.76L430.62 136.28L430.57 136.84L430.51 137.44L430.46 138.08L430.41 138.77L430.36 139.51L430.31 140.33M430.26 141.23h0L430.23 141.72L430.21 142.23L430.18 142.78L430.15 143.37L430.13 144.01L430.1 144.69L430.08 145.45L430.05 146.27M430.03 147.19h0M430 148.22h0M429.98 149.38h0M429.95 150.73h0M429.93 152.32h0M429.9 154.25h0M429.88 156.72h0M429.85 160.15h0M429.83 165.82h0M429.8 171.24h0" stroke="#000000" stroke-width="2.75" stroke-linecap="round" stroke-linejoin="round" fill="none"/><path d="M592.98 7.89h0M582.4 12.63h0M574.89 15.29h0M569.07 24.5h0M564.31 29.17h0M560.28 30.3h0M556.8 32.04h0M553.72 35.5h0M550.97 36.3h0M548.49 37.11h0M546.21 38.09h0M544.13 39.52h0M542.19 40.25h0M540.39 41.71h0M538.71 42.94h0M537.12 43.44h0M535.63 45.22h0M534.22 45.59h0M532.88 46.01h0M531.61 46.27h0M530.39 46.68h0M529.23 47.11h0M528.12 47.57h0M527.06 48.15h0M526.03 48.52h0M525.05 49.09h0M524.1 49.94h0M523.18 50.56h0M522.3 50.79h0L521.44 51.03L520.61 51.36M519.81 52.16h0L519.03 52.4L518.27 52.64L517.54 52.82L516.82 52.91L516.13 53.07L515.45 53.41L514.79 53.54L514.15 53.7L513.52 53.93M512.9 54.92h0L512.3 55.05L511.72 55.16L511.14 55.34L510.58 55.46L510.03 55.59L509.49 56.21L508.97 56.41L508.45 56.94L507.94 56.99L507.44 57.08L506.96 57.2L506.48 57.56M506.01 58.4h0L505.55 58.5L505.09 58.6L504.65 58.69L504.21 59.15L503.78 59.4L503.35 59.6L502.93 60.02L502.12 60.38L501.72 60.72M500.94 61.27h0L500.18 61.52L499.45 61.79L498.73 61.95L498.38 62.29L497.7 62.54L497.03 62.77L496.37 63.07L496.05 63.39L495.42 63.63M494.81 64.34h0L494.21 64.63M493.62 65.31h0L493.05 65.94L492.49 66.25L491.94 66.54L491.4 66.84L490.87 67.32L490.61 68.02L490.1 68.3L489.6 68.47L489.11 68.83L488.86 69.36L488.39 69.66L487.92 69.82L487.45 70.23L487 70.33L486.55 70.74L486.11 71.14L485.47 71.32L484.84 71.55L484.43 71.75L483.83 71.92L483.23 72.1L482.85 72.34L482.28 72.76L481.72 73.03L481.18 73.19L480.64 73.49L480.12 73.88L479.6 74.16L479.1 74.48L478.61 74.58L478.12 74.91L477.64 75.21L477.33 75.58L476.87 76.04L476.42 76.31L475.97 76.54L475.53 76.71L475.1 76.92L474.68 77.36L474.12 77.47L473.58 77.78L473.18 78.19L472.78 78.55L472.26 78.76L471.76 78.93L471.26 79.21L470.77 79.34L470.29 79.5L469.94 79.93L469.48 80.17L469.02 80.29L468.68 80.67L468.24 80.97L467.81 81.16L467.27 81.34L466.85 81.53L466.34 81.88L466.03 82.27L465.54 82.49L465.05 82.63L464.56 82.91L464.09 83.15L463.63 83.39L463.17 83.63L462.73 83.91L462.37 84.23L461.94 84.45L461.51 84.62L461.09 84.92L460.68 85.11L460.35 85.5L459.95 85.76L459.55 86.1L459.16 86.38L458.7 86.61L458.25 86.84L457.88 87.18L457.44 87.35L457.08 87.67L456.8 88.06L456.37 88.3L455.89 88.56L455.55 88.96L455.15 89.37L454.75 89.64L454.3 89.8L453.85 90.06L453.42 90.28L453.05 90.58L452.68 90.86L452.26 91.1L451.91 91.51L451.56 91.85L451.21 92.18L450.82 92.48L450.54 92.85L450.2 93.2L449.82 93.51L449.5 93.91L449.13 94.28L448.81 94.6L448.45 94.96L448.09 95.3L447.74 95.64L447.39 95.93L447.05 96.23L446.66 96.55L446.28 96.85L445.91 97.17L445.54 97.49L445.22 97.87L444.9 98.22L444.59 98.58L444.24 98.96L443.93 99.3L443.63 99.69L443.34 100.03L443.04 100.37L442.71 100.73L442.42 101.11L442.14 101.47L441.86 101.84L441.58 102.2L441.3 102.64L441.03 103.05L440.72 103.42L440.46 103.79L440.2 104.19L439.93 104.59L439.68 104.98L439.42 105.36L439.13 105.8L438.85 106.22L438.6 106.64L438.32 107.08L438.04 107.51L437.8 107.92L437.56 108.33L437.33 108.76L437.09 109.18L436.86 109.61L436.63 110.01L436.4 110.43L436.18 110.88L435.95 111.32L435.73 111.77L435.51 112.21L435.29 112.66L435.08 113.13L434.89 113.54L434.68 114.01L434.5 114.42L434.32 114.86L434.14 115.3L433.96 115.76L433.79 116.22L433.61 116.7L433.44 117.18L433.26 117.69L433.12 118.12L432.98 118.57L432.84 119.04L432.7 119.53L432.56 120.03L432.42 120.56L432.31 120.99L432.19 121.45L432.08 121.92L431.98 122.42L431.87 122.93L431.76 123.48L431.65 124.05L431.57 124.5L431.49 124.97L431.41 125.46L431.33 125.97L431.25 126.51L431.17 127.09L431.09 127.72L431.04 128.17L430.98 128.65L430.93 129.15L430.88 129.68L430.83 130.25L430.77 130.84L430.72 131.47L430.67 132.13L430.62 132.84L430.57 133.58L430.51 134.38L430.46 135.22M430.41 136.12h0L430.38 136.6L430.36 137.09L430.33 137.59L430.31 138.12L430.28 138.66L430.26 139.23L430.23 139.81L430.21 140.42L430.18 141.06L430.15 141.72L430.13 142.41L430.1 143.14L430.08 143.9L430.05 144.72L430.03 145.61M430 146.58h0M429.98 147.65h0M429.95 148.86h0M429.93 150.24h0M429.9 151.87h0M429.88 153.88h0M429.85 156.55h0M429.83 160.75h0M429.8 164.57h0" stroke="#3f6fe3" stroke-width="2.75" stroke-linecap="round" stroke-linejoin="round" fill="none"/><path d="M592.98 21.63h0M582.4 24.5h0M574.89 25.7h0M569.07 30.3h0M564.31 30.77h0M560.28 32.04h0M556.8 33.17h0M553.72 33.9h0M550.97 34.5h0M548.49 34.7h0M546.21 35.04h0M544.13 36.11h0M542.19 36.46h0M540.39 37.68h0M538.71 40.95h0M537.12 41.73h0M535.63 41.9h0M534.22 42.03h0M532.88 42.1h0M531.61 42.17h0M530.39 42.48h0M529.23 42.75h0M528.12 43.14h0M527.06 43.5h0M526.03 44.09h0M525.05 44.33h0M524.1 44.56h0M523.18 45.09h0M522.3 45.31h0L521.44 45.48M520.61 46.17h0L519.81 46.42L519.03 46.61L518.27 46.77L517.54 46.9L516.82 47.35L516.13 47.78L515.45 48.12L514.79 48.33L514.15 48.84L513.52 48.99L512.9 49.23L512.3 49.73L511.72 50.05L511.14 50.56L510.58 51.05L510.03 51.24L509.49 51.38M508.97 52.15h0L508.45 52.33L507.94 52.61L507.44 52.82L506.96 53.1L506.48 53.72L506.01 54.18L505.55 54.64L505.09 54.86L504.65 55.45L504.21 55.58L503.78 56.14L503.35 56.44M502.52 57.08h0L502.12 57.35L501.72 57.58L501.33 57.86M500.56 58.59h0L499.81 58.85L499.09 59.18L498.38 59.6M497.7 60.21h0L497.03 60.73M496.37 61.67h0M495.74 62.39h0L495.12 62.72L494.51 63.04L494.21 63.38L493.62 63.82L493.05 64.17L492.49 64.48L491.94 64.89L491.4 65.18L490.87 65.36L490.36 65.86L489.85 66.08L489.35 66.33L488.86 66.45L488.39 66.89L487.92 67.25L487.45 67.49L487 67.79L486.55 67.97L486.11 68.41L485.68 68.54L485.26 69.05L484.63 69.27L484.23 69.68L483.83 69.9L483.23 70.31L482.85 70.79L482.28 71.03L481.72 71.31L481.18 71.59L480.64 71.86L480.12 72.15L479.6 72.34L479.1 72.62L478.61 72.74L478.12 72.89L477.64 73.09L477.33 73.43L476.87 73.67L476.42 73.89L475.97 74.12L475.53 74.61L475.1 74.76L474.68 75.1L474.4 75.5L473.85 75.69L473.44 75.97L472.91 76.27L472.39 76.57L471.88 76.74L471.51 77.14L471.02 77.39L470.53 77.69L470.06 77.93L469.59 78.14L469.13 78.34L468.68 78.49L468.24 78.75L467.91 79.09L467.48 79.37L467.06 79.59L466.65 79.87L466.34 80.37L466.03 80.72L465.73 81.11L465.44 81.59L464.95 81.78L464.47 82.07L464 82.29L463.54 82.54L463.08 82.81L462.64 83.06L462.2 83.31L461.77 83.46L461.34 83.72L460.84 83.88L460.43 84.22L460.11 84.59L459.79 84.91L459.4 85.15L458.93 85.34L458.47 85.59L458.03 85.81L457.59 86.05L457.15 86.24L456.72 86.57L456.3 86.87L455.89 87.07L455.69 87.52L455.28 87.79L454.95 88.14L454.62 88.53L454.3 88.84L453.92 89.08L453.54 89.35L453.11 89.6L452.74 89.95L452.32 90.24L451.91 90.53L451.56 90.85L451.21 91.18L450.93 91.54L450.65 91.89L450.2 92.17L449.88 92.51L449.55 92.85L449.18 93.2L448.81 93.55L448.5 93.88L448.14 94.22L447.79 94.53L447.44 94.88L447.1 95.24L446.76 95.54L446.38 95.85L446 96.18L445.72 96.63L445.4 96.96L445.04 97.29L444.72 97.64L444.37 98.04L444.02 98.4L443.72 98.8L443.42 99.23L443.12 99.62L442.79 100.02L442.46 100.44L442.14 100.82L441.82 101.16L441.5 101.51L441.23 101.89L440.96 102.32L440.65 102.7L440.38 103.13L440.08 103.54L439.79 103.94L439.53 104.35L439.28 104.74L439.02 105.17L438.74 105.58L438.46 106.01L438.21 106.42L437.97 106.83L437.73 107.22L437.49 107.64L437.29 108.06L437.06 108.49L436.83 108.92L436.63 109.33L436.4 109.78L436.18 110.22L435.95 110.65L435.73 111.12L435.51 111.58L435.29 112.04L435.08 112.49L434.86 112.95L434.65 113.41L434.47 113.82L434.29 114.24L434.11 114.67L433.93 115.11L433.76 115.57L433.58 116.03L433.41 116.51L433.24 117.01L433.06 117.52L432.92 117.97L432.78 118.43L432.64 118.91L432.5 119.41L432.36 119.94L432.25 120.38L432.14 120.83L432.03 121.31L431.92 121.81L431.81 122.33L431.7 122.88L431.6 123.47L431.51 123.93L431.43 124.41L431.35 124.91L431.27 125.45L431.19 126.01L431.12 126.61L431.04 127.26L430.98 127.75L430.93 128.27L430.88 128.82L430.83 129.42L430.77 130.06L430.72 130.75L430.67 131.48L430.62 132.26L430.57 133.09L430.51 133.97L430.49 134.44L430.46 134.91L430.44 135.4L430.41 135.91L430.38 136.43L430.36 136.96L430.33 137.51L430.31 138.08L430.28 138.66L430.26 139.26L430.23 139.87L430.21 140.5L430.18 141.15L430.15 141.8L430.13 142.47L430.1 143.14L430.08 143.84L430.05 144.58L430.03 145.37L430 146.23M429.98 147.17h0M429.95 148.21h0M429.93 149.37h0M429.9 150.72h0M429.88 152.33h0M429.85 154.39h0M429.83 157.41h0M429.8 159.9h0" stroke="#ff901c" stroke-width="2.75" stroke-linecap="round" stroke-linejoin="round" fill="none"/><path d="M592.98 51.31h0M582.4 53.65h0M574.89 56.05h0M569.07 56.78h0M564.31 57.92h0M560.28 59.18h0M556.8 59.52h0M553.72 59.65h0M550.97 62.05h0M548.49 63.92h0M546.21 63.92h0M544.13 63.92h0M542.19 65.48h0M540.39 65.88h0M538.71 68.18h0M537.12 68.63h0M535.63 68.63h0M534.22 68.63h0M532.88 68.63h0M531.61 68.97h0M530.39 69.36h0M529.23 69.82h0M528.12 70.05h0M527.06 70.53h0M526.03 70.79h0M525.05 70.95h0M524.1 71.07h0M523.18 71.38h0L522.3 71.46L521.44 71.59M520.61 72.02h0L519.81 72.11L519.03 72.24L518.27 72.38L517.54 72.76L516.82 73.07M516.13 73.67h0L515.45 73.84L514.79 74.11L514.15 74.26L513.52 74.45L512.9 74.97L512.3 75.04L511.72 75.19L511.14 75.61L510.58 75.68L510.03 75.84L509.49 75.93L508.97 76.02L508.45 76.76L507.94 77.02L507.44 77.12L506.96 77.23L506.48 77.42L506.01 77.57L505.55 77.67L505.09 78.29L504.65 78.41M503.78 78.69h0L503.35 78.96L502.52 79.27L501.72 79.5L500.94 79.72L500.56 80.02L499.81 80.24L499.09 80.49L498.38 80.79L497.7 80.99M497.03 81.99h0L496.37 82.43L495.74 82.87L495.12 83.45L494.51 83.77L493.92 84.14L493.34 84.6L492.77 84.97L492.21 85.07L491.67 85.38L491.14 85.84L490.61 85.92L490.1 86.13L489.6 86.45L489.11 86.57L488.62 86.71L488.15 86.91L487.68 87.13L487.23 87.38L486.78 87.6L486.33 87.77L485.9 87.93L485.47 88.08L485.05 88.27L484.43 88.48L484.23 88.93L483.63 89.06L483.04 89.27L482.47 89.62L481.91 89.82L481.36 90.15L480.82 90.35L480.29 90.45L479.77 90.76L479.27 91.02L478.77 91.17L478.28 91.45L477.8 91.76L477.33 91.97L476.87 92.3L476.42 92.62L475.97 92.79L475.53 93.02L475.1 93.28L474.54 93.4L473.98 93.57L473.44 93.68L473.04 94.01L472.52 94.2L472.01 94.34L471.51 94.58L471.14 94.84L470.65 95.04L470.18 95.18L469.71 95.35L469.25 95.57L468.8 95.79L468.35 96.02L467.91 96.22L467.48 96.43L467.06 96.59L466.65 96.83L466.24 97.03L465.73 97.24L465.34 97.47L464.95 97.75L464.56 98.05L464.09 98.25L463.63 98.68L463.17 98.97L462.73 99.2L462.29 99.43L461.85 99.68L461.43 99.88L461.01 100.11L460.51 100.33L460.11 100.56L459.71 100.79L459.24 100.99L458.85 101.28L458.4 101.4L457.95 101.66L457.59 102.01L457.15 102.25L456.8 102.54L456.37 102.79L455.96 103.04L455.62 103.4L455.15 103.61L454.75 103.9L454.37 104.22L454.05 104.58L453.67 104.92L453.23 105.17L452.8 105.41L452.38 105.64L451.97 105.85L451.62 106.14L451.16 106.37L450.76 106.63L450.42 106.97L450.04 107.27L449.66 107.51L449.29 107.81L448.97 108.14L448.61 108.43L448.2 108.69L447.79 108.92L447.39 109.29L447.05 109.6L446.66 110L446.28 110.31L445.95 110.63L445.58 110.94L445.22 111.26L444.9 111.69L444.55 112L444.19 112.29L443.85 112.58L443.55 112.98L443.21 113.32L442.87 113.66L442.54 113.97L442.18 114.32L441.86 114.63L441.54 114.98L441.27 115.36L440.92 115.76L440.61 116.14L440.31 116.53L440.01 116.88L439.68 117.23L439.38 117.59L439.13 117.99L438.81 118.35L438.53 118.7L438.25 119.06L437.97 119.44L437.7 119.8L437.39 120.2L437.13 120.59L436.86 120.97L436.6 121.36L436.34 121.77L436.08 122.18L435.83 122.61L435.61 123.01L435.36 123.46L435.11 123.9L434.89 124.32L434.68 124.75L434.47 125.18L434.26 125.61L434.05 126.06L433.84 126.51L433.67 126.93L433.49 127.37L433.32 127.84L433.15 128.32L432.98 128.83L432.84 129.27L432.7 129.73L432.56 130.21L432.42 130.7L432.28 131.22L432.14 131.76L432.03 132.21L431.92 132.67L431.81 133.15L431.7 133.65L431.6 134.17L431.49 134.71L431.38 135.27L431.27 135.85L431.19 136.31L431.12 136.78L431.04 137.26L430.96 137.77L430.88 138.29L430.8 138.84L430.72 139.41L430.64 140L430.57 140.62L430.49 141.28L430.44 141.73L430.38 142.21L430.33 142.7L430.28 143.21L430.23 143.75L430.18 144.34L430.13 144.99L430.08 145.71L430.03 146.52L430 146.98L429.98 147.48L429.95 148.03L429.93 148.66L429.9 149.39L429.88 150.26M429.85 151.4h0M429.83 153.1h0M429.8 154.56h0" stroke="#c2158a" stroke-width="2.75" stroke-linecap="round" stroke-linejoin="round" fill="none"/><path d="M529.9 0.3V178" stroke="#ff901c" stroke-width="2.0" stroke-opacity="0.8" fill="none"/><path d="M538.2 0.3V178" stroke="#3f6fe3" stroke-width="1.4" stroke-opacity="0.8" fill="none"/><path d="M640 0.3V178" stroke="#c2158a" stroke-width="1.4" stroke-opacity="0.8" fill="none"/><path d="M429.8 43.51H605.8" stroke="#111" stroke-width="1.5" stroke-dasharray="4.1 2.2" fill="none"/></g><rect x="429.8" y="0.3" width="176" height="177.7" fill="none" stroke="#adadad" stroke-width="1"/><path d="M429.8 159.9h-2.2M429.8 126.55h-2.2M429.8 93.2h-2.2M429.8 59.85h-2.2M429.8 26.5h-2.2M429.8 178v2.2M489.9 178v2.2M550 178v2.2" stroke="#9a9a9a" stroke-width="0.7" fill="none"/><text x="417" y="162.8" class="t" textLength="9" lengthAdjust="spacingAndGlyphs">20</text><text x="417" y="129.45" class="t" textLength="9" lengthAdjust="spacingAndGlyphs">25</text><text x="417" y="96.1" class="t" textLength="9" lengthAdjust="spacingAndGlyphs">30</text><text x="417" y="62.75" class="t" textLength="9" lengthAdjust="spacingAndGlyphs">35</text><text x="417" y="29.4" class="t" textLength="9" lengthAdjust="spacingAndGlyphs">40</text><text x="427.55" y="187.3" class="t" textLength="4.5" lengthAdjust="spacingAndGlyphs">1</text><text x="485.4" y="187.3" class="t" textLength="9" lengthAdjust="spacingAndGlyphs">10</text><text x="543.25" y="187.3" class="t" textLength="13.5" lengthAdjust="spacingAndGlyphs">100</text><text x="478.1" y="195.6" class="l" textLength="74.8" lengthAdjust="spacingAndGlyphs">Return period(year)</text><text transform="translate(413.2 89.45) rotate(-90)" x="-29.2" y="0" class="yl" textLength="58.4" lengthAdjust="spacingAndGlyphs">Rx5d (mm/day)</text><text x="431.7" y="9.1" class="ti" textLength="37" lengthAdjust="spacingAndGlyphs">MIROC5</text><rect x="433.2" y="133.7" width="48.3" height="41.1" rx="1.2" fill="#fff" fill-opacity="0.8" stroke="#d4d4d4" stroke-width="0.6"/><circle cx="442" cy="139.3" r="1.3" fill="#000000"/><text x="454" y="141.8" class="lg" textLength="12.6" lengthAdjust="spacingAndGlyphs">Hist</text><circle cx="442" cy="148.9" r="1.3" fill="#3f6fe3"/><text x="454" y="151.4" class="lg" textLength="13.6" lengthAdjust="spacingAndGlyphs">1.5 (</text><text x="467.8" y="149.1" class="sup" font-style="italic">o</text><text x="470.9" y="151.4" class="lg" textLength="5.3" lengthAdjust="spacingAndGlyphs">C</text><text x="476.3" y="151.4" class="lg" textLength="2.7" lengthAdjust="spacingAndGlyphs">)</text><circle cx="442" cy="158.5" r="1.3" fill="#ff901c"/><text x="454" y="161" class="lg" textLength="7.2" lengthAdjust="spacingAndGlyphs">2 (</text><text x="461.4" y="158.7" class="sup" font-style="italic">o</text><text x="464.5" y="161" class="lg" textLength="5.3" lengthAdjust="spacingAndGlyphs">C</text><text x="469.9" y="161" class="lg" textLength="2.7" lengthAdjust="spacingAndGlyphs">)</text><circle cx="442" cy="168.1" r="1.3" fill="#c2158a"/><text x="454" y="170.6" class="lg" textLength="23.8" lengthAdjust="spacingAndGlyphs">HistNat</text><clipPath id="c3"><rect x="30.2" y="202.3" width="171.8" height="177.7"/></clipPath><rect x="30.2" y="202.3" width="171.8" height="177.7" fill="#fff"/><g clip-path="url(#c3)"><path d="M48.29 202.3V380M58.87 202.3V380M66.38 202.3V380M72.21 202.3V380M76.97 202.3V380M80.99 202.3V380M84.48 202.3V380M87.55 202.3V380M108.39 202.3V380M118.97 202.3V380M126.48 202.3V380M132.31 202.3V380M137.07 202.3V380M141.09 202.3V380M144.58 202.3V380M147.65 202.3V380M168.49 202.3V380M179.07 202.3V380M186.58 202.3V380M192.41 202.3V380M197.17 202.3V380M201.19 202.3V380" stroke="#b8b8b8" stroke-width="0.5" stroke-dasharray="0.6 0.6" fill="none"/><path d="M30.2 202.3V380M90.3 202.3V380M150.4 202.3V380M30.2 354.65H202M30.2 322.05H202M30.2 289.45H202M30.2 256.85H202M30.2 224.25H202" stroke="#d0d0d0" stroke-width="0.7" fill="none"/><rect x="99" y="202.3" width="7.9" height="177.7" fill="#ff8c00" fill-opacity="0.075"/><rect x="114.8" y="202.3" width="12.7" height="177.7" fill="#4169e1" fill-opacity="0.075"/><polygon points="102.49,260.62 103.47,260.29 104.15,259.89 104.85,259.59 105.56,259.2 106.3,258.92 107.05,258.54 107.83,258.26 108.64,257.94 109.46,257.68 110.32,257.26 111.2,257.02 112.12,256.76 113.07,256.61 114.06,256.37 115.08,256.03 116.14,255.75 116.69,255.28 117.83,255.04 119.02,254.79 120.26,254.19 121.56,253.89 122.24,253.62 122.94,253.52 123.65,253.29 124.39,253.17 125.14,252.73 125.92,252.5 126.73,252.24 127.56,251.97 128.41,251.29 129.3,250.88 130.21,250.25 131.16,250.08 132.15,249.81 133.17,249.14 134.24,248.41 135.35,248.1 136.51,247.66 137.72,246.53 138.99,245.41 140.33,245.12 141.74,245 143.24,244.72 144.82,244.66 146.5,243.45 148.3,242.3 150.24,241.73 152.33,239.57 154.6,239.57 157.09,236.74 159.84,233.31 162.91,234.2 166.4,234.35 170.42,235.62 175.18,231.48 181,230.91 188.51,229.86 199.09,230.05 203,230 203,233.91 199.09,234.61 188.51,239.31 181,239.82 175.18,239.96 170.42,244.6 166.4,243.76 162.91,243.99 159.84,243.43 157.09,243.48 154.6,243.48 152.33,243.48 150.24,245.64 148.3,246.21 146.5,247.36 144.82,248.57 143.24,248.62 141.74,248.79 140.33,248.81 138.99,249.01 137.72,250.04 136.51,251.08 135.35,251.44 134.24,251.67 133.17,252.33 132.15,252.93 131.16,253.13 130.21,253.23 129.3,253.8 128.41,254.15 127.56,254.77 126.73,254.98 125.92,255.19 125.14,255.37 124.39,255.75 123.65,255.81 122.24,256.04 121.56,256.27 120.26,256.48 119.02,256.99 117.83,257.16 116.69,257.32 116.14,257.76 115.08,257.97 114.06,258.23 113.07,258.4 112.12,258.48 111.2,258.68 110.32,258.86 109.46,259.22 108.64,259.42 107.83,259.68 107.05,259.91 106.3,260.24 105.56,260.47 104.85,260.81 104.15,261.06 103.47,261.42 102.49,261.67" fill="#000000" fill-opacity="0.2"/><polygon points="102.49,249.42 103.14,248.92 103.81,248.68 104.5,248.48 105.2,248.28 105.93,247.9 106.67,247.75 107.44,247.34 108.23,246.76 109.05,246.59 109.89,246.16 110.76,245.97 111.66,245.59 112.59,245.41 113.56,245.2 114.56,244.34 115.61,244.1 116.69,243.47 117.83,242.62 118.42,242.02 119.63,241.84 120.9,241.15 121.56,240.91 122.24,240.71 122.94,240 123.65,239.74 124.39,239.52 125.14,239.36 125.92,239.23 126.73,238.82 127.56,238.52 128.41,237.97 129.3,237.27 130.21,236.99 131.16,236.82 132.15,236.32 133.17,236.11 134.24,235.23 135.35,234.25 136.51,234.07 137.72,232.51 138.99,231.97 140.33,231.74 141.74,230.73 143.24,230.16 144.82,228.52 146.5,227.84 148.3,227.16 150.24,226.75 152.33,224.82 154.6,222.09 157.09,220 159.84,215.72 162.91,215.45 166.4,210.94 170.42,210.43 175.18,209.27 181,208.2 188.51,209.06 199.09,207.56 203,207.36 203,219.75 199.09,220.27 188.51,220.47 181,219.43 175.18,220.36 170.42,222.29 166.4,223.47 162.91,228.55 159.84,229.34 157.09,231.87 154.6,231.97 152.33,232.88 150.24,233.25 148.3,233.44 146.5,233.91 144.82,234.41 143.24,235.87 141.74,236.27 140.33,237.11 138.99,237.19 137.72,237.59 136.51,239.01 135.35,239.06 134.24,239.9 133.17,240.67 132.15,240.76 131.16,241.15 130.21,241.21 129.3,241.38 128.41,241.99 127.56,242.44 126.73,242.64 125.92,242.97 125.14,243 124.39,243.07 123.65,243.21 122.94,243.39 122.24,244.03 120.9,244.31 119.63,244.85 118.42,244.9 117.83,245.43 116.69,246.15 115.61,246.65 114.56,246.78 113.56,247.53 112.59,247.62 111.66,247.7 110.76,247.98 109.89,248.06 109.05,248.4 108.23,248.47 107.44,248.97 106.67,249.29 105.93,249.36 105.2,249.65 104.15,249.83 103.14,250.05 102.49,250.48" fill="#4169e1" fill-opacity="0.2"/><polygon points="102.49,243.56 103.14,243.27 103.81,242.99 104.5,242.83 105.2,242.12 105.56,241.5 106.3,240.45 107.05,240.12 107.83,239.32 108.64,238.83 109.46,238.67 110.32,238.01 111.2,237.72 112.12,237.51 113.07,237.16 114.06,236.78 115.08,236.26 116.14,235.98 117.26,235.69 118.42,235.07 119.63,234.58 120.26,233.92 120.9,233.37 121.56,232.98 122.24,232.66 122.94,232.12 123.65,231.87 124.39,231.63 125.14,231.33 125.92,230.99 126.73,230.3 127.56,229.79 128.41,229.26 129.3,228.78 130.21,227.89 131.16,227.31 132.15,226.65 133.17,226.1 134.24,225.02 135.35,224.27 136.51,223.99 137.72,223.66 138.99,221.77 140.33,220.29 141.74,219.56 143.24,219.36 144.82,219.36 146.5,219.39 148.3,219.54 150.24,219.52 152.33,219.73 154.6,219.49 157.09,219.4 159.84,218.77 162.91,217.21 166.4,216.71 170.42,215.67 175.18,214.23 181,210.29 188.51,210.36 199.09,208.47 203,208.12 203,218.55 199.09,218.9 188.51,220.8 181,219.81 175.18,223.04 170.42,223.79 166.4,224.25 162.91,224.25 159.84,225.36 157.09,225.98 154.6,226.14 152.33,226.44 150.24,226.3 148.3,226.36 146.5,226.26 144.82,226.28 143.24,226.33 141.74,226.57 140.33,227.34 138.99,228.85 137.72,230.78 136.51,231.14 135.35,231.31 134.24,231.64 133.17,232.3 132.15,232.46 131.16,232.75 130.21,232.96 129.3,233.49 128.41,233.63 127.56,233.84 126.73,234.03 125.92,234.53 125.14,234.79 124.39,235.01 123.65,235.17 122.94,235.35 122.24,235.81 121.56,236.06 120.9,236.38 120.26,236.86 119.63,237.45 118.42,237.82 117.26,238.31 116.14,238.48 115.08,238.66 114.06,239.07 113.07,239.34 112.12,239.59 111.2,239.71 110.32,239.9 109.46,240.47 108.64,240.54 107.83,240.94 107.05,241.67 106.3,241.91 105.56,242.89 104.85,243.68 104.15,244.14 103.47,244.33 102.49,244.62" fill="#ff8c00" fill-opacity="0.2"/><path d="M199.09 232.66h0M188.51 233.12h0M181 233.44h0M175.18 233.44h0M170.42 239.44h0M166.4 239.77h0M162.91 241.01h0M159.84 241.33h0M157.09 241.53h0M154.6 241.53h0M152.33 241.53h0M150.24 243.68h0M148.3 244.26h0M146.5 245.4h0M144.82 246.62h0M143.24 246.67h0M141.74 246.89h0M140.33 246.96h0M138.99 247.21h0M137.72 248.28h0M136.51 249.37h0M135.35 249.77h0M134.24 250.04h0M133.17 250.74h0M132.15 251.37h0M131.16 251.61h0M130.21 251.74h0M129.3 252.34h0M128.41 252.72h0M127.56 253.37h0L126.73 253.61L125.92 253.84L125.14 254.05L124.39 254.46L123.65 254.55L122.94 254.76L122.24 254.83L121.56 255.08L120.9 255.24L120.26 255.34L119.63 255.78L119.02 255.89L118.42 255.95L117.83 256.1L117.26 256.18L116.69 256.3L116.14 256.76L115.61 256.9L115.08 257L114.56 257.25L114.06 257.3L113.56 257.42L113.07 257.5L112.59 257.56L112.12 257.62L111.66 257.67L111.2 257.85L110.76 257.95L110.32 258.06L109.89 258.19L109.46 258.45L109.05 258.62L108.23 258.77L107.44 259.13L106.67 259.31L106.3 259.58L105.56 259.84L104.85 260.2L104.15 260.47L103.47 260.85L102.81 261.09L102.17 261.29L101.54 261.45L100.92 261.55L100.32 261.7L99.74 261.91L99.16 262.1L98.6 262.28L98.05 262.46L97.51 262.81L96.99 262.91L96.47 263.07L95.96 263.25L95.47 263.44L94.98 263.58L94.5 263.81L94.03 264L93.57 264.12L93.11 264.46L92.67 264.6L92.01 264.73L91.58 264.97L91.16 265.18L90.75 265.39L90.14 265.59L89.54 265.67L88.96 266.06L88.39 266.18L88.02 266.5L87.47 266.73L86.93 267.02L86.4 267.19L85.89 267.26L85.38 267.47L84.88 267.62L84.4 267.97L83.92 268.26L83.45 268.32L82.98 268.36L82.53 268.47L82.08 268.55L81.5 268.8L81.07 268.96L80.51 269.16L80.1 269.44L79.69 269.65L79.29 269.97L78.76 270.09L78.25 270.25L77.75 270.46L77.25 270.65L76.77 270.86L76.29 270.95L75.94 271.37L75.47 271.49L75.02 271.8L74.57 271.89L74.14 272.01L73.7 272.26L73.18 272.44L72.76 272.63L72.25 272.7L71.75 272.85L71.26 272.96L70.77 273.13L70.3 273.28L69.93 273.6L69.47 273.75L69.02 273.97L68.57 274.14L68.23 274.51L67.8 274.76L67.37 274.99L66.87 275.11L66.38 275.31L65.98 275.53L65.59 275.85L65.2 276.14L64.82 276.42L64.36 276.6L63.92 276.73L63.48 276.98L63.05 277.22L62.63 277.49L62.21 277.74L61.8 278L61.4 278.3L61 278.57L60.61 278.85L60.22 279.12L59.78 279.36L59.34 279.5L58.92 279.69L58.43 279.84L58.08 280.15L57.67 280.34L57.33 280.63L56.99 280.96L56.54 281.12L56.21 281.47L55.83 281.8L55.45 282.08L55.03 282.31L54.67 282.6L54.26 282.85L53.85 283.11L53.46 283.34L53.07 283.61L52.68 283.87L52.3 284.11L51.88 284.37L51.56 284.69L51.2 285L50.84 285.31L50.44 285.57L50.09 285.88L49.79 286.23L49.41 286.54L49.11 286.9L48.74 287.18L48.37 287.5L48.01 287.77L47.65 288.06L47.34 288.41L46.99 288.77L46.72 289.17L46.35 289.51L46.08 289.9L45.79 290.36L45.5 290.81L45.21 291.2L44.92 291.62L44.64 291.98L44.36 292.38L44.08 292.79L43.81 293.23L43.54 293.66L43.27 294.07L43.07 294.48L42.81 294.91L42.61 295.32L42.39 295.75L42.19 296.16L41.94 296.58L41.69 296.99L41.47 297.39L41.22 297.83L40.98 298.29L40.73 298.73L40.52 299.18L40.31 299.64L40.08 300.07L39.87 300.5L39.64 300.94L39.43 301.4L39.23 301.82L39.03 302.26L38.87 302.69L38.67 303.1L38.47 303.52L38.28 303.95L38.09 304.38L37.9 304.83L37.71 305.27L37.52 305.7L37.33 306.11L37.15 306.58L36.97 306.99L36.78 307.45L36.6 307.89L36.42 308.31L36.24 308.75L36.06 309.22L35.91 309.65L35.76 310.08L35.59 310.53L35.42 311.02L35.24 311.49L35.1 311.92L34.93 312.41L34.78 312.85L34.64 313.3L34.49 313.76L34.35 314.22L34.21 314.7L34.07 315.18L33.93 315.7L33.79 316.21L33.67 316.66L33.56 317.12L33.44 317.59L33.33 318.08L33.22 318.58L33.1 319.11L32.99 319.65L32.9 320.1L32.81 320.56L32.72 321.04L32.63 321.53L32.54 322.05L32.46 322.59L32.37 323.16L32.3 323.61L32.24 324.07L32.17 324.56L32.11 325.07L32.04 325.59L31.98 326.14L31.91 326.71L31.85 327.3L31.78 327.91L31.72 328.54L31.65 329.2L31.61 329.66L31.57 330.12L31.53 330.6L31.48 331.09L31.44 331.59L31.4 332.1L31.36 332.63L31.31 333.17L31.27 333.73L31.23 334.3L31.19 334.88L31.15 335.48L31.1 336.1L31.06 336.73L31.02 337.38L30.98 338.04L30.94 338.73L30.9 339.43L30.85 340.16L30.81 340.93L30.77 341.74L30.73 342.59M30.69 343.49h0L30.67 343.97L30.65 344.45L30.63 344.96L30.61 345.48L30.59 346.03L30.57 346.59L30.55 347.18L30.53 347.8L30.5 348.45L30.48 349.14L30.46 349.86L30.44 350.63L30.42 351.45L30.4 352.33M30.38 353.29h0M30.36 354.33h0M30.34 355.49h0M30.32 356.79h0M30.3 358.28h0M30.28 360.04h0M30.26 362.21h0M30.24 365.11h0M30.22 369.67h0M30.2 373.82h0" stroke="#000000" stroke-width="2.75" stroke-linecap="round" stroke-linejoin="round" fill="none"/><path d="M199.09 207.88h0M188.51 212.64h0M181 213.43h0M175.18 215.77h0M170.42 217.73h0M166.4 218.9h0M162.91 223.99h0M159.84 224.77h0M157.09 227.64h0M154.6 228.1h0M152.33 229.34h0M150.24 230h0M148.3 230.3h0M146.5 230.87h0M144.82 231.46h0M143.24 233.01h0M141.74 233.5h0M140.33 234.42h0M138.99 234.58h0M137.72 235.05h0M136.51 236.54h0M135.35 236.65h0M134.24 237.56h0M133.17 238.39h0M132.15 238.54h0M131.16 238.98h0M130.21 239.1h0M129.3 239.33h0M128.41 239.98h0M127.56 240.48h0L126.73 240.73L125.92 241.1L125.14 241.18L124.39 241.3L123.65 241.47L122.94 241.7M122.24 242.37h0L121.56 242.52L120.9 242.73L120.26 243.17L119.63 243.34L119.02 243.41L118.42 243.46L117.83 244.03L117.26 244.69L116.69 244.81L116.14 245.15L115.61 245.38L115.08 245.45L114.56 245.56L114.06 246.05L113.56 246.36L113.07 246.47L112.59 246.51L112.12 246.59L111.66 246.64L111.2 246.89L110.76 246.97L109.89 247.11M109.05 247.5h0L108.23 247.61M107.44 248.16h0L106.67 248.52L105.93 248.63L105.2 248.96L104.5 249.12L103.81 249.28L103.14 249.48L102.81 249.89L102.17 250.06L101.54 250.29L100.92 250.4L100.32 250.73L99.74 250.92L99.16 251.07L98.6 251.22L98.05 251.37L97.51 251.49L96.99 251.57L96.47 251.67L95.96 252.01L95.47 252.16L94.98 252.32L94.5 252.54L94.03 252.76L93.57 253.05L93.11 253.23L92.67 253.54L92.01 253.66L91.37 253.95L90.75 254.01L90.34 254.43L89.94 254.67L89.54 255.05L88.96 255.24L88.77 255.66L88.39 256.02L87.83 256.25L87.29 256.46L86.75 256.57L86.23 256.73L85.89 257.11L85.38 257.31L84.88 257.46L84.4 257.78L83.92 258.02L83.45 258.27L82.98 258.41L82.53 258.52L82.08 258.68L81.64 258.83L81.21 259.08L80.79 259.43L80.23 259.7L79.69 259.96L79.29 260.19L78.76 260.4L78.25 260.54L77.75 260.66L77.25 260.91L76.77 261.12L76.29 261.41L75.82 261.58L75.36 261.67L74.91 261.8L74.46 261.99L74.14 262.35L73.7 262.5L73.28 262.7L72.86 263.04L72.45 263.22L71.95 263.43L71.45 263.61L71.06 263.93L70.58 264.14L70.11 264.33L69.65 264.47L69.2 264.65L68.75 264.86L68.31 265.05L67.88 265.24L67.46 265.46L67.04 265.68L66.63 265.96L66.14 266.12L65.67 266.29L65.2 266.52L64.74 266.8L64.36 267.09L63.92 267.37L63.55 267.71L63.12 267.89L62.77 268.19L62.35 268.46L61.94 268.68L61.53 268.97L61.07 269.23L60.74 269.58L60.41 269.91L59.97 270.14L59.59 270.43L59.16 270.64L58.73 270.8L58.37 271.07L57.96 271.39L57.56 271.65L57.16 271.91L56.71 272.16L56.26 272.38L55.88 272.71L55.45 272.98L55.08 273.24L54.72 273.52L54.31 273.81L53.96 274.1L53.56 274.32L53.26 274.69L52.87 275.01L52.59 275.37L52.21 275.63L51.88 276.03L51.51 276.32L51.15 276.74L50.79 277.03L50.39 277.37L50.05 277.72L49.75 278.09L49.41 278.47L49.03 278.76L48.66 279.08L48.41 279.53L48.09 279.87L47.77 280.22L47.42 280.57L47.07 280.93L46.76 281.3L46.46 281.68L46.2 282.06L45.9 282.46L45.61 282.84L45.32 283.19L45.03 283.59L44.78 284.02L44.57 284.43L44.33 284.81L44.12 285.23L43.88 285.65L43.64 286.04L43.47 286.5L43.27 286.94L43.04 287.38L42.87 287.81L42.65 288.21L42.45 288.7L42.26 289.15L42.07 289.62L41.84 290.05L41.66 290.5L41.44 290.95L41.25 291.36L41.04 291.82L40.82 292.28L40.64 292.72L40.43 293.17L40.25 293.59L40.08 294.05L39.93 294.49L39.75 294.97L39.55 295.45L39.35 295.93L39.18 296.43L39.01 296.92L38.84 297.37L38.7 297.81L38.53 298.23L38.36 298.67L38.2 299.11L38.03 299.54L37.9 299.97L37.76 300.43L37.6 300.92L37.44 301.38L37.28 301.82L37.12 302.32L36.97 302.76L36.81 303.26L36.65 303.72L36.52 304.16L36.37 304.64L36.24 305.08L36.09 305.54L35.94 305.99L35.79 306.47L35.64 306.92L35.49 307.36L35.34 307.81L35.19 308.29L35.05 308.74L34.9 309.19L34.76 309.65L34.61 310.1L34.47 310.56L34.33 311.02L34.19 311.49L34.05 311.96L33.91 312.46L33.77 312.98L33.65 313.43L33.54 313.88L33.42 314.35L33.31 314.84L33.19 315.35L33.08 315.88L32.99 316.33L32.9 316.79L32.81 317.28L32.72 317.79L32.63 318.32L32.54 318.88L32.46 319.47L32.39 319.93L32.32 320.42L32.26 320.92L32.19 321.45L32.13 322.01L32.06 322.62L32.02 323.08L31.98 323.57L31.93 324.11L31.89 324.68L31.85 325.29L31.8 325.93L31.76 326.61L31.72 327.31L31.68 328.05L31.63 328.81L31.59 329.6L31.55 330.41L31.5 331.23L31.46 332.07L31.42 332.92L31.38 333.78L31.34 334.63L31.29 335.48L31.25 336.31L31.21 337.12L31.17 337.89L31.13 338.62L31.08 339.29L31.04 339.97L31 340.67L30.96 341.39L30.92 342.14L30.88 342.92L30.83 343.73L30.79 344.58L30.75 345.46L30.73 345.92L30.71 346.39L30.69 346.87L30.67 347.37L30.65 347.87L30.63 348.4L30.61 348.93L30.59 349.49L30.57 350.06L30.55 350.65L30.53 351.27L30.5 351.91L30.48 352.57L30.46 353.26L30.44 353.99L30.42 354.75L30.4 355.55L30.38 356.41M30.36 357.31h0M30.34 358.28h0M30.32 359.34h0M30.3 360.49h0M30.28 361.76h0M30.26 363.21h0M30.24 364.89h0M30.22 366.92h0M30.2 368.02h0" stroke="#3f6fe3" stroke-width="2.75" stroke-linecap="round" stroke-linejoin="round" fill="none"/><path d="M199.09 209.78h0M188.51 212.97h0M181 214.54h0M175.18 219.75h0M170.42 220.53h0M166.4 220.99h0M162.91 220.99h0M159.84 222.1h0M157.09 222.88h0M154.6 223.21h0M152.33 223.66h0M150.24 223.66h0M148.3 223.87h0M146.5 223.88h0M144.82 224.02h0M143.24 224.18h0M141.74 224.52h0M140.33 225.39h0M138.99 226.99h0M137.72 229.01h0M136.51 229.45h0M135.35 229.68h0M134.24 230.01h0M133.17 230.67h0M132.15 230.83h0M131.16 231.12h0M130.21 231.33h0M129.3 231.86h0L128.41 232L127.56 232.21L126.73 232.4M125.92 232.92h0L125.14 233.21L124.39 233.47L123.65 233.66L122.94 233.88L122.24 234.37L121.56 234.65L120.9 235L120.26 235.51L119.63 236.13L119.02 236.29L118.42 236.55L117.83 236.94L117.26 237.1L116.69 237.22L116.14 237.32L115.61 237.45L115.08 237.55L114.56 237.67L114.06 238L113.56 238.1L113.07 238.32L112.59 238.45L112.12 238.62L111.66 238.73L111.2 238.78L110.76 238.89L110.32 239.01L109.89 239.42L109.46 239.62L108.64 239.73L108.23 239.96M107.44 240.53h0L107.05 240.93L106.67 241.17M105.93 241.88h0L105.56 242.22L105.2 242.81M104.5 243.48h0L103.81 243.6L103.14 243.84L102.49 244.09L101.85 244.24L101.23 244.53L100.62 244.66L100.03 244.82L99.45 245.22L98.88 245.32L98.33 245.51L97.78 245.81L97.25 245.94L96.73 246.13L96.22 246.32L95.71 246.38L95.22 246.55L94.74 246.68L94.26 246.85L93.8 246.99L93.34 247.28L92.89 247.48L92.45 247.81L92.01 248.05L91.58 248.32L91.16 248.55L90.75 248.73L90.14 249.05L89.54 249.19L89.15 249.57L88.58 249.76L88.2 250.15L87.65 250.32L87.11 250.71L86.58 251.04L86.06 251.23L85.55 251.43L85.05 251.6L84.56 251.73L84.07 252L83.6 252.25L83.14 252.42L82.68 252.77L82.23 253.03L81.79 253.18L81.36 253.31L80.79 253.46L80.23 253.65L79.69 253.85L79.16 254.05L78.64 254.22L78.12 254.38L77.62 254.68L77.13 254.82L76.77 255.1L76.29 255.25L75.82 255.73L75.36 256.04L74.91 256.25L74.46 256.43L74.03 256.56L73.6 256.77L73.07 256.94L72.66 257.44L72.25 257.73L71.85 257.98L71.35 258.16L70.97 258.38L70.58 258.7L70.21 258.96L69.74 259.27L69.29 259.5L68.84 259.76L68.49 260.09L68.05 260.32L67.62 260.54L67.2 260.78L66.79 260.96L66.3 261.11L65.82 261.37L65.43 261.75L65.12 262.1L64.66 262.3L64.21 262.45L63.77 262.72L63.34 262.99L62.91 263.24L62.49 263.49L62.14 263.83L61.73 264.08L61.33 264.3L61 264.66L60.54 264.97L60.16 265.25L59.72 265.56L59.34 265.82L58.92 266.09L58.55 266.43L58.14 266.81L57.73 267.02L57.33 267.26L56.93 267.51L56.54 267.88L56.1 268.14L55.67 268.41L55.29 268.83L54.93 269.18L54.51 269.42L54.16 269.69L53.8 270.12L53.46 270.52L53.12 270.89L52.73 271.18L52.4 271.52L52.07 271.91L51.7 272.27L51.33 272.64L50.93 272.96L50.57 273.29L50.22 273.68L49.92 274.04L49.58 274.37L49.24 274.67L48.91 275.01L48.62 275.39L48.29 275.76L48.01 276.13L47.69 276.62L47.38 277.04L47.15 277.43L46.88 277.81L46.57 278.21L46.31 278.58L46.05 278.95L45.79 279.34L45.61 279.84L45.35 280.28L45.1 280.7L44.85 281.18L44.61 281.65L44.36 282.11L44.15 282.52L43.91 282.98L43.67 283.39L43.47 283.82L43.24 284.28L43.04 284.71L42.84 285.12L42.65 285.54L42.48 286.09L42.26 286.53L42.07 286.95L41.84 287.44L41.62 287.86L41.41 288.32L41.19 288.74L41.01 289.21L40.79 289.65L40.58 290.15L40.4 290.59L40.22 291.02L40.02 291.44L39.81 291.88L39.61 292.34L39.41 292.77L39.21 293.19L39.03 293.61L38.84 294.09L38.67 294.52L38.5 294.97L38.34 295.4L38.17 295.84L37.98 296.3L37.79 296.77L37.63 297.24L37.47 297.7L37.28 298.17L37.12 298.61L36.94 299.09L36.78 299.53L36.6 300.01L36.45 300.44L36.27 300.94L36.12 301.38L35.96 301.82L35.81 302.27L35.66 302.71L35.51 303.19L35.37 303.66L35.22 304.12L35.07 304.59L34.93 305.08L34.78 305.58L34.66 306.03L34.52 306.53L34.38 307.04L34.23 307.55L34.09 308.05L33.95 308.56L33.81 309.06L33.67 309.58L33.54 310.09L33.42 310.53L33.31 310.98L33.19 311.43L33.08 311.9L32.97 312.38L32.86 312.88L32.74 313.39L32.63 313.93L32.54 314.38L32.46 314.85L32.37 315.34L32.28 315.85L32.19 316.39L32.11 316.96L32.04 317.41L31.98 317.89L31.91 318.38L31.85 318.9L31.78 319.45L31.72 320.04L31.65 320.65L31.59 321.31L31.55 321.77L31.5 322.26L31.46 322.82L31.42 323.46L31.38 324.18L31.34 324.97L31.29 325.84L31.27 326.3L31.25 326.77L31.23 327.26L31.21 327.76L31.19 328.27L31.17 328.8L31.15 329.34L31.13 329.88L31.1 330.43L31.08 330.99L31.06 331.55L31.04 332.11L31.02 332.68L31 333.23L30.98 333.79L30.96 334.33L30.94 334.86L30.92 335.37L30.9 335.87L30.88 336.33L30.83 337.16L30.79 337.82L30.75 338.42L30.71 339.05L30.67 339.7L30.63 340.39L30.59 341.1L30.55 341.86L30.5 342.67L30.46 343.53L30.44 343.99L30.42 344.47L30.4 344.96L30.38 345.48L30.36 346.03L30.34 346.61L30.32 347.23L30.3 347.89L30.28 348.61L30.26 349.39L30.24 350.24L30.22 351.12" stroke="#ff901c" stroke-width="2.75" stroke-linecap="round" stroke-linejoin="round" fill="none"/><path d="M102.96 202.3V380" stroke="#ff901c" stroke-width="1.5" stroke-opacity="0.8" fill="none"/><path d="M121 202.3V380" stroke="#3f6fe3" stroke-width="2.2" stroke-opacity="0.7" fill="none"/><path d="M30.2 242.57H202" stroke="#111" stroke-width="1.5" stroke-dasharray="4.1 2.2" fill="none"/></g><rect x="30.2" y="202.3" width="171.8" height="177.7" fill="none" stroke="#adadad" stroke-width="1"/><path d="M30.2 354.65h-2.2M30.2 322.05h-2.2M30.2 289.45h-2.2M30.2 256.85h-2.2M30.2 224.25h-2.2M30.2 380v2.2M90.3 380v2.2M150.4 380v2.2" stroke="#9a9a9a" stroke-width="0.7" fill="none"/><text x="17.4" y="357.55" class="t" textLength="9" lengthAdjust="spacingAndGlyphs">15</text><text x="17.4" y="324.95" class="t" textLength="9" lengthAdjust="spacingAndGlyphs">20</text><text x="17.4" y="292.35" class="t" textLength="9" lengthAdjust="spacingAndGlyphs">25</text><text x="17.4" y="259.75" class="t" textLength="9" lengthAdjust="spacingAndGlyphs">30</text><text x="17.4" y="227.15" class="t" textLength="9" lengthAdjust="spacingAndGlyphs">35</text><text x="27.95" y="389.3" class="t" textLength="4.5" lengthAdjust="spacingAndGlyphs">1</text><text x="85.8" y="389.3" class="t" textLength="9" lengthAdjust="spacingAndGlyphs">10</text><text x="143.65" y="389.3" class="t" textLength="13.5" lengthAdjust="spacingAndGlyphs">100</text><text x="78.5" y="397.6" class="l" textLength="74.8" lengthAdjust="spacingAndGlyphs">Return period(year)</text><text transform="translate(13.6 291.45) rotate(-90)" x="-29.2" y="0" class="yl" textLength="58.4" lengthAdjust="spacingAndGlyphs">Rx5d (mm/day)</text><text x="32.1" y="211.1" class="ti" textLength="36.5" lengthAdjust="spacingAndGlyphs">NorESM</text><rect x="33.6" y="345.3" width="48.3" height="31.5" rx="1.2" fill="#fff" fill-opacity="0.8" stroke="#d4d4d4" stroke-width="0.6"/><circle cx="42.4" cy="350.9" r="1.3" fill="#000000"/><text x="54.4" y="353.4" class="lg" textLength="12.6" lengthAdjust="spacingAndGlyphs">Hist</text><circle cx="42.4" cy="360.5" r="1.3" fill="#3f6fe3"/><text x="54.4" y="363" class="lg" textLength="13.6" lengthAdjust="spacingAndGlyphs">1.5 (</text><text x="68.2" y="360.7" class="sup" font-style="italic">o</text><text x="71.3" y="363" class="lg" textLength="5.3" lengthAdjust="spacingAndGlyphs">C</text><text x="76.7" y="363" class="lg" textLength="2.7" lengthAdjust="spacingAndGlyphs">)</text><circle cx="42.4" cy="370.1" r="1.3" fill="#ff901c"/><text x="54.4" y="372.6" class="lg" textLength="7.2" lengthAdjust="spacingAndGlyphs">2 (</text><text x="61.8" y="370.3" class="sup" font-style="italic">o</text><text x="64.9" y="372.6" class="lg" textLength="5.3" lengthAdjust="spacingAndGlyphs">C</text><text x="70.3" y="372.6" class="lg" textLength="2.7" lengthAdjust="spacingAndGlyphs">)</text><clipPath id="c4"><rect x="230.2" y="202.3" width="171.8" height="177.7"/></clipPath><rect x="230.2" y="202.3" width="171.8" height="177.7" fill="#fff"/><g clip-path="url(#c4)"><path d="M248.29 202.3V380M258.87 202.3V380M266.38 202.3V380M272.21 202.3V380M276.97 202.3V380M280.99 202.3V380M284.48 202.3V380M287.55 202.3V380M308.39 202.3V380M318.97 202.3V380M326.48 202.3V380M332.31 202.3V380M337.07 202.3V380M341.09 202.3V380M344.58 202.3V380M347.65 202.3V380M368.49 202.3V380M379.07 202.3V380M386.58 202.3V380M392.41 202.3V380M397.17 202.3V380M401.19 202.3V380" stroke="#b8b8b8" stroke-width="0.5" stroke-dasharray="0.6 0.6" fill="none"/><path d="M230.2 202.3V380M290.3 202.3V380M350.4 202.3V380M230.2 378.7H402M230.2 356.44H402M230.2 334.18H402M230.2 311.92H402M230.2 289.66H402M230.2 267.4H402M230.2 245.14H402M230.2 222.88H402" stroke="#d0d0d0" stroke-width="0.7" fill="none"/><rect x="316.7" y="202.3" width="15.8" height="177.7" fill="#ff8c00" fill-opacity="0.075"/><rect x="333.3" y="202.3" width="22.9" height="177.7" fill="#4169e1" fill-opacity="0.075"/><polygon points="302.42,273 303.23,272.66 304.07,271.96 304.94,271.5 305.84,271.02 306.78,270.68 307.74,269.96 308.24,269.41 309.26,268.77 310.33,268.37 311.44,268 312.6,267.57 313.82,266.77 315.09,266.45 315.75,266.09 316.43,265.88 317.12,265.54 317.84,264.7 318.57,263.67 319.33,262.75 320.11,261.75 320.91,260.62 321.74,258.54 322.6,257.76 323.48,256.66 324.4,255.84 325.35,254.83 326.33,253.77 327.36,252.33 328.42,251.87 329.53,250.9 330.69,250.15 331.91,246.87 333.18,246.35 334.52,247.49 335.93,248.15 337.42,246.63 339.01,245.98 340.69,244.64 342.49,243.73 344.42,242.72 346.51,242.2 348.78,241.24 351.27,240.53 354.02,239.6 357.1,236.54 360.58,234.12 364.61,233.79 369.36,232.42 375.19,231.58 382.7,229.21 393.28,227.78 403,227.75 403,237.76 393.28,237.8 382.7,240.1 375.19,242.6 369.36,243.09 364.61,244.16 360.58,244.23 357.1,246.43 354.02,249.29 351.27,250.05 348.78,251.25 346.51,252.99 344.42,254.22 342.49,255.88 340.69,257.4 339.01,259.31 337.42,260.5 335.93,262.53 334.52,261.95 333.18,260.82 331.91,261.33 330.69,264.62 329.53,265.37 328.42,266.34 327.36,266.37 326.33,266.83 325.35,266.95 324.4,267.05 323.48,266.99 322.6,267.24 321.74,267.2 320.91,268.49 320.11,268.85 319.33,269.1 318.57,269.29 317.84,269.62 317.12,269.95 316.43,270.12 315.09,270.4 313.82,270.43 313.2,270.94 312.01,271.03 310.88,271.19 309.79,271.31 308.75,271.6 307.74,272.28 306.78,272.79 305.84,272.91 304.94,273.2 304.07,273.46 303.23,273.98 302.42,274.14" fill="#000000" fill-opacity="0.2"/><polygon points="302.42,261.41 303.23,261.06 303.65,260.21 304.51,259.38 305.39,258.83 306.31,258.26 307.26,257.9 308.24,256.88 309.26,256.5 310.33,256.02 311.44,255.52 312.6,255 313.82,254.23 314.44,253.66 315.09,253.38 315.75,252.93 316.43,252.71 317.12,252.28 317.84,252.05 318.57,251.48 319.33,251.03 320.11,250.32 320.91,250.05 321.74,249.71 322.6,249.15 323.48,248.73 324.4,248.35 325.35,247.32 326.33,247 327.36,246.66 328.42,246.28 329.53,245.75 330.69,245.35 331.91,244.94 333.18,244.52 334.52,243.98 335.93,243.16 337.42,242.59 339.01,242.11 340.69,241.69 342.49,241.42 344.42,241.07 346.51,240.53 348.78,240.07 351.27,239.25 354.02,236.45 357.1,234.57 360.58,228.04 364.61,226.04 369.36,219.11 375.19,217.31 382.7,215.81 393.28,214.19 403,212.67 403,227.58 393.28,229.1 382.7,231.71 375.19,236.93 369.36,236.88 364.61,242.04 360.58,242.44 357.1,247.08 354.02,247.05 351.27,248.14 348.78,248.17 346.51,248.3 344.42,248.52 342.49,248.57 340.69,248.58 339.01,248.74 337.42,248.99 335.93,249.33 334.52,249.93 333.18,250.28 331.91,250.51 330.69,250.73 329.53,250.95 328.42,251.32 327.36,251.54 326.33,251.73 325.35,251.9 324.4,252.79 323.48,253.02 322.6,253.31 321.74,253.74 320.91,253.96 320.11,254.11 319.33,254.7 318.57,255.04 317.84,255.5 317.12,255.62 315.75,256.07 314.44,256.6 313.82,257.08 312.6,257.66 311.44,258 310.33,258.34 309.26,258.65 308.24,258.89 307.26,259.76 306.31,259.97 305.39,260.41 304.51,260.82 303.65,261.53 303.23,262.32 302.42,262.54" fill="#4169e1" fill-opacity="0.2"/><polygon points="302.42,254.64 303.23,254.15 304.07,253.54 304.94,252.87 305.84,252.48 306.78,251.49 307.74,251.14 308.75,250.73 309.79,249.76 310.88,249.29 312.01,248.86 312.6,248.29 313.82,247.98 314.44,247.65 315.75,247.03 316.43,246.83 317.12,246.66 317.84,245.98 318.57,245.54 319.33,245.29 320.11,245.08 320.91,244.88 321.74,244.37 322.6,243.89 323.48,243.23 324.4,242.96 325.35,242.38 326.33,241.93 327.36,241.56 328.42,240.91 329.53,240.73 330.69,240.42 331.91,239.91 333.18,239.03 334.52,238.8 335.93,238.36 337.42,237.34 339.01,237.05 340.69,236.75 342.49,235.4 344.42,234.65 346.51,234 348.78,233.16 351.27,232.47 354.02,229.32 357.1,227.77 360.58,223.43 364.61,221.75 369.36,215.69 375.19,214.24 382.7,213.54 393.28,213.39 403,210.91 403,222.04 393.28,224.54 382.7,231.48 375.19,234.18 369.36,233.4 364.61,235.24 360.58,234.63 357.1,238.4 354.02,240.03 351.27,243.25 348.78,243.58 346.51,243.9 344.42,244.06 342.49,244.36 340.69,245.3 339.01,245.21 337.42,245.13 335.93,245.81 334.52,245.92 333.18,245.84 331.91,246.42 330.69,246.65 329.53,246.69 328.42,246.62 327.36,247.05 326.33,247.24 325.35,247.51 324.4,247.93 323.48,248.04 322.6,248.55 321.74,248.88 320.91,249.24 320.11,249.3 319.33,249.37 318.57,249.49 317.84,249.8 317.12,250.36 315.75,250.49 315.09,250.84 313.82,251.1 312.6,251.2 312.01,251.67 310.88,251.89 309.79,252.18 308.75,252.97 307.74,253.2 306.78,253.38 305.84,254.2 304.94,254.44 304.07,254.96 303.23,255.42 302.42,255.77" fill="#ff8c00" fill-opacity="0.2"/><path d="M393.28 236.68h0M382.7 236.79h0M375.19 237.46h0M369.36 237.91h0M364.61 239.02h0M360.58 239.13h0M357.1 241.36h0M354.02 244.25h0M351.27 245.03h0M348.78 245.69h0M346.51 246.66h0M344.42 247.18h0M342.49 248.18h0M340.69 249.09h0M339.01 250.43h0M337.42 251.08h0M335.93 252.6h0M334.52 252.92h0M333.18 252.92h0M331.91 254.51h0M330.69 258.83h0M329.53 260.56h0M328.42 262.48h0M327.36 263.08h0M326.33 263.65h0M325.35 263.87h0M324.4 264.07h0M323.48 264.11h0M322.6 264.46h0L321.74 264.51M320.91 265.89h0M320.11 266.33h0L319.33 266.66L318.57 266.94L317.84 267.34L317.12 267.75L316.43 268L315.75 268.14L315.09 268.42L314.44 268.54L313.82 268.6L313.2 269.18L312.6 269.27L312.01 269.4L311.44 269.57L310.88 269.68L310.33 269.82L309.79 269.92L309.26 270.1L308.75 270.33L308.24 270.62L307.74 271.12L307.26 271.35L306.78 271.74L306.31 271.87L305.84 271.97L305.39 272.14L304.94 272.35L304.51 272.47L304.07 272.71L303.65 273.15L302.82 273.46M302.02 274.38h0M301.24 275.18h0L300.86 275.49L300.11 275.73L299.39 275.96L299.03 276.3L298.68 276.9L297.99 277.07L297.33 277.48L296.67 277.86L296.04 278.26L295.41 278.48L294.81 278.87L294.21 279.1L293.63 279.29L293.07 279.48L292.51 279.84L291.97 280.33L291.44 280.61L290.91 280.79L290.66 281.38L290.15 281.67L289.65 281.87L289.16 282.11L288.68 282.6L288.45 282.99L287.98 283.35L287.52 283.56L287.07 283.93L286.63 284.23L285.98 284.37L285.56 284.57L285.14 284.85L284.73 285.07L284.32 285.39L283.73 285.58L283.34 285.9L282.96 286.16L282.39 286.37L281.84 286.69L281.3 286.99L280.76 287.37L280.42 287.73L280.07 288.11L279.57 288.33L279.07 288.62L278.58 288.85L278.26 289.25L277.79 289.58L277.32 290L276.87 290.28L276.42 290.58L275.98 290.79L275.54 291.06L275.12 291.3L274.7 291.46L274.28 291.78L273.74 291.92L273.34 292.13L272.82 292.29L272.44 292.54L271.93 292.72L271.44 292.8L270.95 292.88L270.47 293.04L270.24 293.45L269.89 293.82L269.43 294.04L269.09 294.43L268.54 294.6L268.11 294.86L267.68 295.12L267.26 295.37L266.74 295.9L266.43 296.31L265.93 296.63L265.44 296.8L264.96 297.04L264.49 297.28L264.11 297.55L263.65 297.7L263.2 297.79L262.76 298.23L262.41 298.52L261.98 298.82L261.56 299.01L261.14 299.29L260.73 299.54L260.25 299.73L259.77 299.94L259.38 300.3L258.93 300.48L258.47 300.65L258.1 301.06L257.67 301.35L257.24 301.58L256.81 301.77L256.4 301.98L255.99 302.22L255.52 302.33L255.12 302.65L254.66 302.86L254.28 303.15L253.84 303.37L253.41 303.71L253.04 304.08L252.62 304.43L252.21 304.69L251.86 305.08L251.45 305.35L251.06 305.68L250.67 305.94L250.28 306.21L249.85 306.46L249.48 306.84L249.11 307.12L248.7 307.41L248.39 307.82L247.99 308.11L247.64 308.41L247.3 308.74L246.92 309.06L246.63 309.47L246.3 309.8L245.97 310.14L245.65 310.51L245.38 310.92L245.07 311.25L244.76 311.6L244.41 311.95L244.06 312.3L243.76 312.65L243.42 313L243.09 313.34L242.76 313.69L242.44 314.05L242.16 314.44L241.88 314.8L241.56 315.16L241.25 315.55L240.95 315.93L240.72 316.34L240.42 316.73L240.16 317.12L239.87 317.52L239.61 317.89L239.36 318.29L239.11 318.68L238.86 319.11L238.62 319.51L238.37 319.92L238.1 320.35L237.86 320.79L237.62 321.21L237.39 321.61L237.16 322.02L236.93 322.46L236.7 322.89L236.51 323.31L236.28 323.76L236.06 324.22L235.84 324.66L235.65 325.08L235.47 325.51L235.28 325.94L235.1 326.36L234.92 326.79L234.74 327.26L234.56 327.71L234.38 328.18L234.2 328.66L234.03 329.15L233.85 329.66L233.71 330.09L233.56 330.54L233.42 330.99L233.28 331.46L233.14 331.95L232.99 332.45L232.85 332.96L232.72 333.49L232.6 333.93L232.49 334.39L232.38 334.86L232.27 335.35L232.17 335.85L232.06 336.39L231.95 336.94L231.84 337.52L231.76 337.98L231.68 338.45L231.6 338.95L231.52 339.46L231.44 340.01L231.36 340.58L231.28 341.18L231.2 341.82L231.15 342.26L231.1 342.73L231.05 343.22L230.99 343.73L230.94 344.28L230.89 344.85L230.84 345.46L230.79 346.11L230.74 346.81L230.68 347.56L230.63 348.39M230.58 349.3h0L230.56 349.79L230.53 350.32L230.5 350.88L230.48 351.48L230.45 352.13L230.43 352.83L230.4 353.6L230.38 354.47M230.35 355.44h0M230.33 356.56h0M230.3 357.9h0M230.28 359.57h0M230.25 361.81h0M230.23 365.38h0M230.2 368.68h0" stroke="#000000" stroke-width="2.75" stroke-linecap="round" stroke-linejoin="round" fill="none"/><path d="M393.28 221.32h0M382.7 226.89h0M375.19 228.44h0M369.36 229.56h0M364.61 235.9h0M360.58 236.35h0M357.1 241.8h0M354.02 242.91h0M351.27 245.03h0M348.78 245.47h0M346.51 245.69h0M344.42 246.02h0M342.49 246.16h0M340.69 246.25h0M339.01 246.49h0M337.42 246.81h0M335.93 247.22h0M334.52 247.89h0M333.18 248.29h0M331.91 248.58h0M330.69 248.86h0M329.53 249.14h0M328.42 249.55h0M327.36 249.82h0M326.33 250.06h0M325.35 250.27h0M324.4 251.21h0M323.48 251.49h0M322.6 251.81h0M321.74 252.29h0L320.91 252.54L320.11 252.73M319.33 253.36h0L318.57 253.73L317.84 254.23L317.12 254.38L316.43 254.74L315.75 254.89L315.09 255.26L314.44 255.48L313.82 255.99L313.2 256.35L312.6 256.63L312.01 256.82L311.44 257.02L310.88 257.15L310.33 257.41L309.79 257.5L309.26 257.78L308.75 257.96L308.24 258.06M307.74 258.86h0L307.26 258.97L306.78 259.15L306.31 259.23L305.84 259.53L305.39 259.71L304.94 259.87L304.51 260.16L304.07 260.42L303.65 260.91M303.23 261.72h0L302.42 261.98L301.63 262.4L301.24 262.8L300.48 263.04M299.75 263.6h0L299.03 263.78L298.34 264.16L297.66 264.67L297 264.94L296.35 265.32L295.72 265.89L295.11 266.27L294.81 266.87L294.21 267.29L293.63 267.6L293.07 267.8L292.51 267.94L291.97 268.12L291.44 268.38L290.91 268.72L290.4 268.82L289.9 269.25L289.41 269.58L288.92 269.97L288.45 270.21L287.98 270.31L287.52 270.72L287.3 271.35L286.85 271.98L286.41 272.23L285.98 272.69L285.56 272.86L284.93 273.13L284.32 273.34L283.73 273.68L283.34 273.91L283.15 274.39L282.58 274.68L282.02 274.86L281.66 275.13L281.12 275.31L280.59 275.58L280.07 275.72L279.57 276.03L279.07 276.4L278.74 276.9L278.26 277.07L277.79 277.45L277.48 277.82L277.17 278.33L276.72 278.64L276.27 279.15L275.83 279.58L275.4 279.72L274.97 280L274.7 280.36L274.42 280.9L274.01 281.13L273.48 281.35L272.95 281.49L272.44 281.75L271.93 281.91L271.44 282.17L271.07 282.56L270.59 282.81L270.12 282.96L269.66 283.13L269.21 283.57L268.76 283.89L268.32 284.14L267.89 284.3L267.47 284.67L267.05 284.95L266.64 285.24L266.23 285.5L265.83 285.73L265.34 285.92L264.86 286.19L264.49 286.51L264.02 286.78L263.56 286.97L263.11 287.29L262.67 287.54L262.24 287.72L261.73 287.88L261.31 288.22L260.89 288.49L260.41 288.65L260.01 288.86L259.77 289.25L259.46 289.64L259.08 289.92L258.62 290.15L258.25 290.48L257.81 290.7L257.45 291.1L257.09 291.48L256.74 291.79L256.33 291.99L255.92 292.21L255.52 292.51L255.19 292.83L254.79 293.11L254.34 293.33L253.97 293.6L253.53 293.85L253.16 294.16L252.8 294.53L252.38 294.81L252.03 295.1L251.63 295.36L251.23 295.62L250.84 295.9L250.45 296.14L250.07 296.44L249.75 296.76L249.37 297.08L249.06 297.44L248.7 297.79L248.34 298.07L247.94 298.34L247.64 298.73L247.3 299.04L246.96 299.45L246.58 299.74L246.21 300.08L245.84 300.35L245.43 300.64L245.07 300.98L244.71 301.31L244.41 301.67L244.06 301.97L243.72 302.32L243.34 302.61L242.97 302.91L242.6 303.24L242.24 303.56L241.92 303.9L241.56 304.26L241.22 304.6L240.91 304.93L240.57 305.24L240.23 305.59L239.9 305.96L239.57 306.32L239.25 306.69L238.97 307.04L238.69 307.44L238.41 307.81L238.13 308.18L237.86 308.56L237.59 308.94L237.32 309.36L237.09 309.77L236.83 310.21L236.6 310.61L236.38 311.04L236.16 311.45L235.94 311.87L235.72 312.32L235.53 312.74L235.31 313.22L235.13 313.68L234.95 314.14L234.77 314.61L234.59 315.12L234.44 315.55L234.29 316L234.14 316.48L234 316.96L233.85 317.46L233.71 317.99L233.56 318.53L233.45 318.97L233.33 319.43L233.22 319.91L233.11 320.39L232.99 320.9L232.88 321.42L232.77 321.95L232.66 322.51L232.55 323.09L232.47 323.54L232.38 324L232.3 324.47L232.22 324.96L232.14 325.47L232.06 325.99L231.98 326.53L231.89 327.09L231.81 327.67L231.73 328.27L231.65 328.89L231.57 329.55L231.52 330L231.47 330.46L231.41 330.94L231.36 331.44L231.31 331.95L231.26 332.49L231.2 333.04L231.15 333.61L231.1 334.21L231.05 334.84L230.99 335.5L230.94 336.21L230.89 336.95L230.84 337.75L230.79 338.61L230.76 339.07L230.74 339.54L230.71 340.04L230.68 340.55L230.66 341.1L230.63 341.67L230.61 342.27L230.58 342.9L230.56 343.58L230.53 344.29L230.5 345.06L230.48 345.89L230.45 346.79M230.43 347.77h0M230.4 348.86h0M230.38 350.07h0M230.35 351.45h0M230.33 353.05h0M230.3 354.97h0M230.28 357.38h0M230.25 360.65h0M230.23 365.95h0M230.2 370.91h0" stroke="#3f6fe3" stroke-width="2.75" stroke-linecap="round" stroke-linejoin="round" fill="none"/><path d="M393.28 214.53h0M382.7 223.66h0M375.19 225.33h0M369.36 225.55h0M364.61 228.44h0M360.58 228.78h0M357.1 233.12h0M354.02 235.12h0M351.27 238.68h0M348.78 239.29h0M346.51 239.83h0M344.42 240.2h0M342.49 240.69h0M340.69 241.8h0M339.01 241.88h0M337.42 241.95h0M335.93 242.78h0M334.52 243.03h0M333.18 243.08h0M331.91 243.79h0M330.69 244.14h0M329.53 244.3h0M328.42 244.33h0M327.36 244.85h0M326.33 245.11h0M325.35 245.45h0M324.4 245.93h0M323.48 246.09h0M322.6 246.66h0M321.74 247.05h0M320.91 247.47h0L320.11 247.58L319.33 247.7L318.57 247.87L317.84 248.23M317.12 248.84h0L316.43 248.93L315.75 249.05L315.09 249.45L314.44 249.53L313.82 249.79L313.2 249.9L312.6 249.97L312.01 250.48L311.44 250.6L310.88 250.78L310.33 250.9L309.79 251.14L309.26 251.75L308.75 251.99L308.24 252.14L307.74 252.29L307.26 252.41L306.78 252.53L306.31 253.12L305.84 253.42L305.39 253.6L304.94 253.71L304.51 254.02L304.07 254.29L303.65 254.62L303.23 254.8L302.82 255.06L302.02 255.34M301.24 256.05h0L300.48 256.26L299.75 256.58L299.03 256.92M298.34 257.5h0L297.66 257.75L297 258.25L296.35 258.58L295.72 259.02L295.11 259.3L294.81 259.94L294.21 260.32L293.92 261.03L293.35 261.29L292.79 261.88L292.24 262.16L291.97 262.54L291.44 262.8L290.91 262.96L290.4 263.36L289.9 263.48L289.41 263.59L288.92 263.79L288.45 263.9L288.21 264.32L287.75 264.89L287.3 265.12L286.85 265.39L286.41 265.55L285.98 266L285.56 266.34L285.14 266.57L284.53 266.74L284.12 266.95L283.73 267.41L283.34 267.7L282.77 267.91L282.2 268.16L281.66 268.37L281.12 268.64L280.59 269.01L280.07 269.42L279.57 269.75L279.07 270.17L278.58 270.47L278.26 270.8L277.79 271.18L277.32 271.43L276.87 271.62L276.42 271.74L275.98 271.9L275.54 272.14L275.26 272.53L274.84 272.93L274.42 273.32L274.01 273.69L273.48 273.93L272.95 274.19L272.56 274.51L272.18 274.85L271.81 275.11L271.44 275.43L270.95 275.7L270.47 275.96L270.12 276.52L269.66 276.77L269.21 277.02L268.87 277.33L268.43 277.63L268 277.86L267.57 278.1L267.15 278.61L266.74 278.93L266.33 279.17L265.83 279.39L265.44 279.66L265.06 279.92L264.67 280.21L264.21 280.43L263.84 280.72L263.38 281.05L263.03 281.38L262.58 281.66L262.24 281.99L261.81 282.28L261.39 282.55L260.98 282.73L260.57 282.95L260.17 283.26L259.77 283.57L259.46 283.93L259.08 284.27L258.62 284.54L258.25 284.87L257.81 285.14L257.38 285.4L256.95 285.67L256.53 285.89L256.19 286.21L255.78 286.44L255.38 286.68L255.05 287.03L254.73 287.39L254.41 287.74L254.03 288.02L253.59 288.29L253.16 288.58L252.8 288.86L252.44 289.17L252.03 289.47L251.63 289.86L251.23 290.17L250.84 290.48L250.45 290.75L250.07 291.01L249.69 291.32L249.32 291.58L248.96 291.91L248.6 292.26L248.24 292.59L247.89 292.91L247.55 293.26L247.2 293.58L246.87 293.91L246.53 294.22L246.21 294.54L245.88 294.87L245.61 295.23L245.29 295.58L244.98 295.91L244.58 296.24L244.23 296.56L243.89 296.88L243.55 297.24L243.22 297.7L242.84 298.02L242.48 298.31L242.16 298.68L241.8 299.02L241.45 299.33L241.14 299.68L240.83 300.04L240.49 300.41L240.2 300.79L239.9 301.14L239.61 301.52L239.32 301.87L239.04 302.23L238.72 302.62L238.44 303.03L238.13 303.42L237.86 303.81L237.59 304.19L237.32 304.61L237.06 305.03L236.8 305.45L236.54 305.89L236.32 306.29L236.09 306.68L235.87 307.09L235.65 307.49L235.44 307.93L235.22 308.4L235.04 308.82L234.83 309.3L234.62 309.78L234.44 310.2L234.26 310.66L234.09 311.13L233.91 311.62L233.74 312.13L233.59 312.57L233.45 313.02L233.31 313.5L233.16 313.99L233.02 314.5L232.88 315.03L232.77 315.48L232.66 315.94L232.55 316.42L232.44 316.92L232.33 317.45L232.22 318L232.11 318.57L232.03 319.03L231.95 319.5L231.87 319.99L231.79 320.5L231.71 321.04L231.63 321.61L231.55 322.2L231.47 322.83L231.39 323.5L231.34 323.97L231.28 324.47L231.23 324.98L231.18 325.52L231.12 326.09L231.07 326.69L231.02 327.32L230.97 328L230.92 328.72L230.86 329.49L230.81 330.32M230.76 331.23h0L230.74 331.71L230.71 332.21L230.68 332.74L230.66 333.3L230.63 333.89L230.61 334.52L230.58 335.19L230.56 335.93L230.53 336.72L230.5 337.6M230.48 338.56h0M230.45 339.62h0M230.43 340.81h0M230.4 342.15h0M230.38 343.69h0M230.35 345.47h0M230.33 347.58h0M230.3 350.17h0M230.28 353.49h0M230.25 358.13h0M230.23 365.82h0M230.2 373.13h0" stroke="#ff901c" stroke-width="2.75" stroke-linecap="round" stroke-linejoin="round" fill="none"/><path d="M324.6 202.3V380" stroke="#ff901c" stroke-width="1.4" stroke-opacity="0.8" fill="none"/><path d="M345.9 202.3V380" stroke="#3f6fe3" stroke-width="2.2" stroke-opacity="0.65" fill="none"/><path d="M230.2 245.59H402" stroke="#111" stroke-width="1.5" stroke-dasharray="4.1 2.2" fill="none"/></g><rect x="230.2" y="202.3" width="171.8" height="177.7" fill="none" stroke="#adadad" stroke-width="1"/><path d="M230.2 378.7h-2.2M230.2 356.44h-2.2M230.2 334.18h-2.2M230.2 311.92h-2.2M230.2 289.66h-2.2M230.2 267.4h-2.2M230.2 245.14h-2.2M230.2 222.88h-2.2M230.2 380v2.2M290.3 380v2.2M350.4 380v2.2" stroke="#9a9a9a" stroke-width="0.7" fill="none"/><text x="217.4" y="381.6" class="t" textLength="9" lengthAdjust="spacingAndGlyphs">14</text><text x="217.4" y="359.34" class="t" textLength="9" lengthAdjust="spacingAndGlyphs">16</text><text x="217.4" y="337.08" class="t" textLength="9" lengthAdjust="spacingAndGlyphs">18</text><text x="217.4" y="314.82" class="t" textLength="9" lengthAdjust="spacingAndGlyphs">20</text><text x="217.4" y="292.56" class="t" textLength="9" lengthAdjust="spacingAndGlyphs">22</text><text x="217.4" y="270.3" class="t" textLength="9" lengthAdjust="spacingAndGlyphs">24</text><text x="217.4" y="248.04" class="t" textLength="9" lengthAdjust="spacingAndGlyphs">26</text><text x="217.4" y="225.78" class="t" textLength="9" lengthAdjust="spacingAndGlyphs">28</text><text x="227.95" y="389.3" class="t" textLength="4.5" lengthAdjust="spacingAndGlyphs">1</text><text x="285.8" y="389.3" class="t" textLength="9" lengthAdjust="spacingAndGlyphs">10</text><text x="343.65" y="389.3" class="t" textLength="13.5" lengthAdjust="spacingAndGlyphs">100</text><text x="278.5" y="397.6" class="l" textLength="74.8" lengthAdjust="spacingAndGlyphs">Return period(year)</text><text transform="translate(213.6 291.45) rotate(-90)" x="-29.2" y="0" class="yl" textLength="58.4" lengthAdjust="spacingAndGlyphs">Rx5d (mm/day)</text><text x="232.1" y="211.1" class="ti" textLength="39.9" lengthAdjust="spacingAndGlyphs">ECHAM6</text><rect x="233.6" y="345.3" width="48.3" height="31.5" rx="1.2" fill="#fff" fill-opacity="0.8" stroke="#d4d4d4" stroke-width="0.6"/><circle cx="242.4" cy="350.9" r="1.3" fill="#000000"/><text x="254.4" y="353.4" class="lg" textLength="12.6" lengthAdjust="spacingAndGlyphs">Hist</text><circle cx="242.4" cy="360.5" r="1.3" fill="#3f6fe3"/><text x="254.4" y="363" class="lg" textLength="13.6" lengthAdjust="spacingAndGlyphs">1.5 (</text><text x="268.2" y="360.7" class="sup" font-style="italic">o</text><text x="271.3" y="363" class="lg" textLength="5.3" lengthAdjust="spacingAndGlyphs">C</text><text x="276.7" y="363" class="lg" textLength="2.7" lengthAdjust="spacingAndGlyphs">)</text><circle cx="242.4" cy="370.1" r="1.3" fill="#ff901c"/><text x="254.4" y="372.6" class="lg" textLength="7.2" lengthAdjust="spacingAndGlyphs">2 (</text><text x="261.8" y="370.3" class="sup" font-style="italic">o</text><text x="264.9" y="372.6" class="lg" textLength="5.3" lengthAdjust="spacingAndGlyphs">C</text><text x="270.3" y="372.6" class="lg" textLength="2.7" lengthAdjust="spacingAndGlyphs">)</text><clipPath id="c5"><rect x="429.8" y="202.3" width="176" height="177.7"/></clipPath><rect x="429.8" y="202.3" width="176" height="177.7" fill="#fff"/><g clip-path="url(#c5)"><path d="M447.89 202.3V380M458.47 202.3V380M465.98 202.3V380M471.81 202.3V380M476.57 202.3V380M480.59 202.3V380M484.08 202.3V380M487.15 202.3V380M507.99 202.3V380M518.57 202.3V380M526.08 202.3V380M531.91 202.3V380M536.67 202.3V380M540.69 202.3V380M544.18 202.3V380M547.25 202.3V380M568.09 202.3V380M578.67 202.3V380M586.18 202.3V380M592.01 202.3V380M596.77 202.3V380M600.79 202.3V380M604.28 202.3V380" stroke="#b8b8b8" stroke-width="0.5" stroke-dasharray="0.6 0.6" fill="none"/><path d="M429.8 202.3V380M489.9 202.3V380M550 202.3V380M429.8 363.5H605.8M429.8 327.4H605.8M429.8 291.3H605.8M429.8 255.2H605.8M429.8 219.1H605.8" stroke="#d0d0d0" stroke-width="0.7" fill="none"/><rect x="525.1" y="202.3" width="19" height="177.7" fill="#ff8c00" fill-opacity="0.075"/><rect x="560.3" y="202.3" width="139.7" height="177.7" fill="#4169e1" fill-opacity="0.075"/><polygon points="496.05,268.58 496.7,268.25 497.36,267.81 498.04,267.46 498.73,267.07 499.45,266.59 500.18,266.16 500.94,265.87 501.72,265.36 502.52,264.83 503.35,264.14 504.21,263.71 505.09,263.03 506.01,262.02 506.96,261.45 507.94,260.86 508.45,260.3 509.49,259.88 510.58,259.66 511.14,259.18 512.3,258.79 512.9,258.33 514.15,257.41 515.45,256.84 516.82,256.43 517.54,256.18 518.27,255.88 519.03,254.97 519.81,253.98 520.61,253.81 521.44,252.86 522.3,252.64 523.18,252.5 524.1,251.52 525.05,251.37 526.03,250.21 527.06,249.96 528.12,249.68 529.23,248.93 530.39,248.35 531.61,247.89 532.88,246.07 534.22,244.78 535.63,243.55 537.12,242.28 538.71,241.01 540.39,240.01 542.19,239.61 544.13,238.6 546.21,237.86 548.49,236.81 550.97,233.56 553.72,231.9 556.8,229.91 560.28,227.87 564.31,226.55 569.07,225.64 574.89,223.93 582.4,216.42 592.98,215.75 606.8,213.29 606.8,238.2 592.98,240.65 582.4,239.55 574.89,239.46 569.07,239.89 564.31,239.77 560.28,240.21 556.8,241.5 553.72,242.82 550.97,243.88 548.49,246.52 546.21,246.96 544.13,247.13 542.19,247.63 540.39,247.54 538.71,248.09 537.12,248.94 535.63,249.81 534.22,250.66 532.88,251.72 531.61,253.37 530.39,253.66 529.23,254.1 528.12,254.69 527.06,254.83 526.03,254.95 525.05,255.98 524.1,256 523.18,256.86 522.3,256.88 521.44,256.98 520.61,257.83 519.81,257.89 519.03,258.77 518.27,259.58 517.54,259.78 516.82,259.94 515.45,260.17 514.15,260.56 512.9,261.32 511.72,261.78 510.58,262.34 509.49,262.41 508.45,262.69 507.94,263.18 506.96,263.64 506.01,264.09 505.55,264.81 504.65,265.31 503.78,265.65 502.93,266.2 502.12,266.56 501.33,267.08 500.56,267.35 499.81,267.58 499.09,267.96 498.38,268.27 497.7,268.59 497.03,268.81 496.05,269.32" fill="#000000" fill-opacity="0.2"/><polygon points="496.05,267.21 496.7,266.44 497.36,265.97 498.04,265.52 498.73,265.03 499.45,264.61 500.18,264.24 500.94,263.75 501.72,263.01 502.52,262.26 503.35,261.47 504.21,261.1 505.09,260.56 506.01,259.67 506.96,259.07 507.94,258.81 508.45,258.19 509.49,257.7 510.03,257.22 510.58,256.64 511.72,256.4 512.9,255.92 513.52,255.53 514.79,255.16 516.13,254.88 516.82,254.51 517.54,254.41 518.27,254.14 519.03,253.4 519.81,253.28 520.61,253.24 521.44,252.37 522.3,252.33 523.18,251.78 524.1,251.74 525.05,251.7 526.03,251.46 527.06,250.6 528.12,250.07 529.23,249.64 530.39,248.29 531.61,247.96 532.88,246.08 534.22,244.84 535.63,244.13 537.12,243.45 538.71,242.38 540.39,241.18 542.19,240.79 544.13,240.45 546.21,240.12 548.49,239.77 550.97,239.12 553.72,238.25 556.8,237.35 560.28,236.24 564.31,234.78 569.07,233 574.89,230.72 582.4,224.02 592.98,222.03 606.8,218.64 606.8,236.69 592.98,240.09 582.4,243.49 574.89,243.36 569.07,244.54 564.31,245.42 560.28,246.12 556.8,246.57 553.72,246.9 550.97,247.24 548.49,247.37 546.21,247.22 544.13,247.08 542.19,246.99 540.39,246.97 538.71,247.8 537.12,248.51 535.63,248.87 534.22,249.26 532.88,250.32 531.61,252.08 530.39,252.3 529.23,253.54 528.12,253.86 527.06,254.29 526.03,255.05 525.05,255.19 524.1,255.15 523.18,255.1 522.3,255.56 521.44,255.52 520.61,256.31 519.81,256.27 519.03,256.32 518.27,257 517.54,257.19 516.82,257.23 516.13,257.53 514.79,257.67 513.52,257.93 512.9,258.26 511.72,258.62 510.58,258.75 509.49,259.71 508.45,260.11 507.94,260.67 506.96,260.85 506.01,261.35 505.09,262.16 504.21,262.61 503.35,262.9 502.52,263.61 501.72,264.29 500.94,264.95 500.18,265.37 499.45,265.67 498.73,266.03 498.04,266.45 497.36,266.83 496.7,267.24 496.05,267.95" fill="#4169e1" fill-opacity="0.2"/><polygon points="496.05,264.57 496.7,264.11 497.36,263.37 498.04,262.74 498.73,262.02 499.45,261.45 500.18,260.77 500.94,260.01 501.72,259.24 502.52,258.44 503.35,257.82 504.21,257.21 505.09,256.2 506.01,255.57 506.96,254.58 507.94,253.79 508.97,253.13 510.03,252.34 510.58,251.47 511.72,251.1 512.3,249.91 513.52,248.94 514.15,248.22 515.45,247.52 516.13,247.05 516.82,246.74 517.54,246.31 518.27,245.91 519.03,245.09 519.81,244.37 520.61,243.57 521.44,243.05 522.3,242.46 523.18,241.98 524.1,241.51 525.05,240.96 526.03,240.32 527.06,239.71 528.12,239.02 529.23,236.65 530.39,235.99 531.61,235.26 532.88,232.22 534.22,230.93 535.63,228.27 537.12,226.91 538.71,226.84 540.39,226.06 542.19,226.29 544.13,226.51 546.21,226.46 548.49,226.26 550.97,225.63 553.72,224.73 556.8,223.81 560.28,222.51 564.31,220.25 569.07,216.56 574.89,215.06 582.4,211.51 592.98,210.63 606.8,208.36 606.8,219.91 592.98,222.2 582.4,227.34 574.89,230.22 569.07,230.85 564.31,231.23 560.28,231.95 556.8,232.66 553.72,233.33 550.97,234.01 548.49,234.84 546.21,235.44 544.13,235.86 542.19,235.99 540.39,236.08 538.71,237.16 537.12,237.51 535.63,239.14 534.22,242.05 532.88,243.07 531.61,245.65 530.39,245.95 529.23,246.19 528.12,248.16 527.06,248.46 526.03,248.71 525.05,249 524.1,249.2 523.18,249.34 522.3,249.61 521.44,250.08 520.61,250.48 519.81,251.16 519.03,251.76 518.27,252.47 517.54,252.77 516.82,253.09 516.13,253.3 515.45,253.67 514.15,254.18 513.52,254.81 512.3,255.61 511.72,256.71 510.58,256.91 510.03,257.7 508.97,258.33 507.94,258.84 506.96,259.28 506.01,259.93 505.09,260.23 504.65,260.85 503.78,261.06 502.93,261.5 502.12,261.72 501.33,262.46 500.56,262.91 499.81,263.08 499.09,263.6 498.38,263.96 497.7,264.48 497.03,264.94 496.05,265.34" fill="#ff8c00" fill-opacity="0.2"/><path d="M592.98 224.44h0M582.4 230.8h0M574.89 231.88h0M569.07 232.82h0M564.31 233.11h0M560.28 233.9h0M556.8 235.49h0M553.72 237.08h0M550.97 238.38h0M548.49 241.34h0M546.21 242.13h0M544.13 242.64h0M542.19 243.43h0M540.39 243.63h0M538.71 244.44h0M537.12 245.54h0M535.63 246.64h0M534.22 247.71h0M532.88 248.89h0M531.61 250.63h0M530.39 251.01h0M529.23 251.51h0M528.12 252.19h0M527.06 252.4h0M526.03 252.58h0M525.05 253.67h0M524.1 253.76h0M523.18 254.68h0L522.3 254.76L521.44 254.92M520.61 255.82h0L519.81 255.93M519.03 256.87h0M518.27 257.73h0L517.54 257.98L516.82 258.18L516.13 258.44L515.45 258.5L514.79 258.88L514.15 258.98M513.52 259.74h0L512.9 259.82L512.3 260.25L511.72 260.36L511.14 260.56L510.58 261L510.03 261.07L509.49 261.15L508.97 261.32L508.45 261.49L507.94 262.02L507.44 262.21L506.96 262.55L506.48 262.84L506.01 263.06L505.55 263.8L505.09 264L504.65 264.36L504.21 264.63L503.78 264.77L503.35 264.99L502.93 265.37L502.52 265.63M501.72 266.1h0L501.33 266.36L500.56 266.68L499.81 266.96L499.09 267.39L498.38 267.74L497.7 268.11L497.03 268.37L496.37 268.86L495.74 269.25L495.12 269.64L494.51 269.92L493.92 270.43L493.62 270.81L493.05 271.06L492.49 271.29L491.94 271.64L491.4 271.88L490.87 272.06L490.36 272.22L489.85 272.58L489.35 272.9L488.86 273.36L488.39 273.54L487.92 273.85L487.45 274.04L487 274.16L486.55 274.38L486.11 274.64L485.68 274.88L485.26 275.14L484.63 275.44L484.23 275.71L483.63 275.97L483.04 276.14L482.47 276.34L482.09 276.67L481.54 277.03L481.18 277.31L480.64 277.55L480.12 277.86L479.6 278L479.1 278.16L478.61 278.33L478.12 278.51L477.64 278.64L477.18 278.76L476.72 278.95L476.27 279.23L475.82 279.39L475.39 279.51L474.96 279.78L474.54 280.02L474.12 280.2L473.71 280.61L473.18 280.79L472.65 281.03L472.14 281.27L471.76 281.67L471.26 281.85L470.77 282.01L470.29 282.37L469.82 282.71L469.36 282.89L468.91 283.18L468.57 283.66L468.13 283.94L467.7 284.13L467.27 284.58L466.85 284.76L466.44 285.24L466.14 285.67L465.63 285.82L465.24 286.1L464.76 286.37L464.37 286.69L463.91 286.98L463.45 287.18L463.17 287.71L462.81 288.07L462.37 288.35L461.94 288.68L461.51 288.89L461.09 289.16L460.76 289.47L460.35 289.73L459.87 289.96L459.47 290.25L459.24 290.74L458.78 291.01L458.4 291.31L457.95 291.53L457.59 291.81L457.22 292.13L456.8 292.38L456.44 292.67L456.03 292.94L455.62 293.21L455.28 293.53L454.89 293.88L454.49 294.13L454.17 294.49L453.73 294.75L453.29 295.02L452.92 295.29L452.5 295.55L452.08 295.83L451.67 296.03L451.33 296.35L450.93 296.66L450.54 296.98L450.2 297.32L449.88 297.68L449.45 297.94L449.08 298.2L448.71 298.5L448.35 298.81L447.99 299.15L447.64 299.43L447.25 299.75L446.9 300.04L446.52 300.34L446.14 300.65L445.81 301L445.45 301.36L445.08 301.69L444.72 301.98L444.41 302.31L444.11 302.64L443.8 302.99L443.5 303.34L443.21 303.71L442.87 304.11L442.54 304.47L442.3 304.89L441.98 305.37L441.74 305.81L441.5 306.23L441.27 306.67L440.99 307.05L440.76 307.51L440.5 307.96L440.27 308.36L440.01 308.75L439.79 309.18L439.53 309.59L439.31 310.02L439.06 310.46L438.85 310.85L438.6 311.26L438.35 311.69L438.11 312.13L437.87 312.55L437.63 312.97L437.39 313.41L437.19 313.82L436.96 314.27L436.73 314.76L436.53 315.17L436.34 315.6L436.14 316.03L435.95 316.48L435.76 316.96L435.57 317.46L435.39 317.96L435.2 318.44L435.02 318.93L434.86 319.36L434.71 319.81L434.56 320.31L434.41 320.79L434.26 321.24L434.11 321.73L433.96 322.24L433.82 322.77L433.7 323.21L433.55 323.75L433.44 324.19L433.32 324.64L433.21 325.11L433.09 325.58L432.98 326.07L432.86 326.57L432.75 327.09L432.64 327.62L432.53 328.16L432.42 328.72L432.31 329.3L432.19 329.89L432.11 330.34L432.03 330.81L431.95 331.28L431.87 331.77L431.78 332.28L431.7 332.79L431.62 333.32L431.54 333.87L431.46 334.44L431.38 335.02L431.3 335.63L431.22 336.26L431.14 336.92L431.09 337.37L431.04 337.84L430.98 338.32L430.93 338.82L430.88 339.33L430.83 339.87L430.77 340.42L430.72 341L430.67 341.61L430.62 342.24L430.57 342.9L430.51 343.6L430.46 344.34L430.41 345.13L430.36 345.97M430.31 346.88h0L430.28 347.36L430.26 347.86L430.23 348.38L430.21 348.93L430.18 349.51L430.15 350.13L430.13 350.78L430.1 351.47L430.08 352.21L430.05 353.01L430.03 353.88M430 354.84h0M429.98 355.91h0M429.95 357.11h0M429.93 358.5h0M429.9 360.15h0M429.88 362.21h0M429.85 364.99h0M429.83 369.46h0M429.8 373.61h0" stroke="#000000" stroke-width="2.75" stroke-linecap="round" stroke-linejoin="round" fill="none"/><path d="M592.98 229.64h0M582.4 238.38h0M574.89 238.67h0M569.07 240.18h0M564.31 241.34h0M560.28 242.28h0M556.8 242.93h0M553.72 243.43h0M550.97 243.94h0M548.49 244.23h0M546.21 244.23h0M544.13 244.23h0M542.19 244.26h0M540.39 244.37h0M538.71 245.31h0M537.12 246.13h0M535.63 246.58h0M534.22 247.07h0M532.88 248.2h0M531.61 250.02h0M530.39 250.3h0M529.23 251.59h0M528.12 251.97h0M527.06 252.45h0M526.03 253.25h0M525.05 253.44h0M524.1 253.44h0M523.18 253.44h0M522.3 253.95h0L521.44 253.95M520.61 254.77h0L519.81 254.77L519.03 254.86M518.27 255.57h0L517.54 255.8L516.82 255.87L516.13 256.21L515.45 256.33L514.79 256.41L514.15 256.56L513.52 256.73L512.9 257.09L512.3 257.4L511.72 257.51L511.14 257.6L510.58 257.7L510.03 258.25L509.49 258.7L508.97 258.78L508.45 259.15L507.94 259.74L507.44 259.85L506.96 259.96L506.48 260.36L506.01 260.51L505.55 261.01L505.09 261.36L504.65 261.71L504.21 261.86L503.78 262.01L503.35 262.18L502.93 262.7L502.52 262.93L502.12 263.25L501.72 263.65M500.94 264.35h0L500.56 264.65L499.81 264.93L499.09 265.29M498.38 265.86h0L497.7 266.13L497.03 266.56M496.37 267.37h0L495.74 267.58L495.12 267.66L494.81 268.06L494.21 268.28L493.92 268.86L493.34 268.96L493.05 269.32L492.49 269.59L491.94 270.14L491.4 270.51L490.87 270.73L490.61 271.12L490.1 271.67L489.6 271.72L489.11 272.16L488.62 272.82L488.15 272.89L487.68 273.08L487.23 273.41L486.78 273.61L486.11 274L485.47 274.17L484.84 274.48L484.43 274.73L483.83 275L483.43 275.33L482.85 275.48L482.47 275.76L481.91 275.91L481.54 276.19L481 276.3L480.46 276.54L479.94 276.73L479.43 276.86L478.93 277.07L478.44 277.27L477.96 277.48L477.49 277.77L477.02 278.11L476.57 278.28L476.12 278.55L475.82 278.92L475.39 279.2L474.96 279.39L474.54 279.74L474.12 279.99L473.71 280.37L473.18 280.58L472.78 281.13L472.39 281.39L472.01 281.78L471.51 282.02L471.02 282.25L470.65 282.52L470.18 282.88L469.71 283.19L469.36 283.61L468.91 283.82L468.46 284.06L468.02 284.35L467.59 284.81L467.17 285.13L466.75 285.3L466.34 285.66L465.93 285.92L465.54 286.34L465.14 286.64L464.76 287L464.37 287.3L464 287.67L463.63 288.03L463.26 288.29L462.9 288.75L462.46 289.04L462.03 289.36L461.6 289.6L461.17 289.8L460.76 290.13L460.35 290.39L459.95 290.72L459.55 290.95L459.16 291.28L458.7 291.51L458.32 291.77L457.95 292.04L457.59 292.33L457.15 292.54L456.72 292.89L456.3 293.19L455.89 293.46L455.48 293.7L455.08 294.02L454.69 294.24L454.37 294.57L453.92 294.81L453.48 295.06L453.11 295.37L452.68 295.62L452.26 295.94L451.91 296.33L451.5 296.63L451.04 296.85L450.65 297.14L450.26 297.41L449.88 297.73L449.5 298.07L449.13 298.41L448.76 298.68L448.5 299.06L448.14 299.35L447.79 299.68L447.49 300.04L447.1 300.27L446.76 300.62L446.38 300.88L446 301.24L445.68 301.59L445.35 301.94L444.99 302.3L444.63 302.65L444.28 303.02L443.93 303.37L443.59 303.71L443.25 304.09L442.92 304.5L442.67 304.93L442.42 305.32L442.14 305.74L441.86 306.1L441.58 306.53L441.3 306.95L441.07 307.42L440.8 307.85L440.57 308.29L440.31 308.71L440.08 309.11L439.86 309.54L439.6 309.95L439.35 310.35L439.13 310.77L438.88 311.18L438.63 311.59L438.42 312L438.21 312.41L437.97 312.82L437.73 313.25L437.53 313.69L437.33 314.15L437.09 314.61L436.86 315.04L436.63 315.49L436.44 315.91L436.24 316.31L436.05 316.73L435.86 317.18L435.67 317.66L435.48 318.16L435.32 318.62L435.17 319.08L435.02 319.54L434.86 319.99L434.71 320.46L434.56 320.93L434.41 321.43L434.26 321.94L434.11 322.48L433.96 323.01L433.84 323.45L433.73 323.89L433.61 324.34L433.49 324.81L433.38 325.27L433.26 325.74L433.15 326.22L433.04 326.7L432.92 327.19L432.81 327.67L432.7 328.17L432.58 328.67L432.47 329.18L432.36 329.7L432.25 330.24L432.14 330.79L432.03 331.35L431.92 331.93L431.84 332.38L431.76 332.84L431.68 333.31L431.6 333.79L431.51 334.28L431.43 334.79L431.35 335.31L431.27 335.86L431.19 336.42L431.12 337L431.04 337.6L430.96 338.23L430.88 338.89L430.83 339.35L430.77 339.82L430.72 340.31L430.67 340.82L430.62 341.36L430.57 341.91L430.51 342.49L430.46 343.11L430.41 343.76L430.36 344.45L430.31 345.19L430.26 345.98L430.21 346.84L430.18 347.31L430.15 347.79L430.13 348.31L430.1 348.85L430.08 349.43L430.05 350.06L430.03 350.73L430 351.47L429.98 352.28M429.95 353.2h0M429.93 354.24h0M429.9 355.47h0M429.88 356.98h0M429.85 358.98h0M429.83 362.12h0M429.8 364.94h0" stroke="#3f6fe3" stroke-width="2.75" stroke-linecap="round" stroke-linejoin="round" fill="none"/><path d="M592.98 214.98h0M582.4 220.83h0M574.89 224.44h0M569.07 225.74h0M564.31 226.83h0M560.28 227.62h0M556.8 228.41h0M553.72 229.21h0M550.97 230h0M548.49 230.8h0M546.21 231.3h0M544.13 231.63h0M542.19 231.67h0M540.39 231.68h0M538.71 232.68h0M537.12 232.97h0M535.63 234.53h0M534.22 237.38h0M532.88 238.47h0M531.61 241.17h0M530.39 241.59h0M529.23 241.94h0M528.12 244.02h0M527.06 244.43h0M526.03 244.78h0M525.05 245.16h0M524.1 245.46h0M523.18 245.69h0M522.3 246.04h0M521.44 246.6h0M520.61 247.08h0M519.81 247.84h0M519.03 248.51h0M518.27 249.3h0L517.54 249.67L516.82 250.06L516.13 250.34L515.45 250.78L514.79 251.24L514.15 251.41M513.52 252.1h0M512.9 252.82h0L512.3 253.02M511.72 254.18h0L511.14 254.32L510.58 254.48M510.03 255.33h0L509.49 255.89L508.97 256.07L508.45 256.35L507.94 256.68L507.44 257.18L506.96 257.26L506.48 257.77L506.01 258.05L505.55 258.16L505.09 258.49L504.65 259.18L504.21 259.31L503.78 259.52L503.35 259.74L502.93 260.08L502.12 260.43L501.72 260.82L501.33 261.28M500.56 261.86h0L499.81 262.14L499.45 262.55L498.73 262.98L498.04 263.55L497.7 263.85L497.03 264.41L496.37 264.76L495.74 265.08L495.12 265.38L494.51 265.64L493.92 265.96L493.62 266.31L493.05 266.81L492.77 267.24L492.21 267.58L491.67 267.86L491.14 268.38L490.61 268.67L490.1 268.99L489.6 269.42L489.11 269.56L488.86 270.23L488.39 270.63L487.92 270.94L487.45 271.3L487 271.51L486.55 271.76L486.11 271.95L485.68 272.29L485.26 272.47L484.63 272.76L484.03 273.04L483.63 273.56L483.23 273.92L482.66 274.1L482.09 274.3L481.54 274.56L481 274.75L480.46 274.98L480.12 275.28L479.6 275.47L479.27 275.78L478.77 276.06L478.28 276.18L477.8 276.4L477.33 276.89L476.87 277.11L476.42 277.35L476.12 277.79L475.68 277.99L475.39 278.34L474.96 278.6L474.54 278.95L474.12 279.23L473.58 279.41L473.18 279.83L472.65 280.07L472.26 280.48L471.76 280.63L471.26 280.94L470.89 281.34L470.41 281.68L469.94 282.05L469.59 282.35L469.13 282.47L468.68 282.77L468.35 283.17L467.91 283.33L467.48 283.6L467.06 283.91L466.65 284.25L466.14 284.53L465.93 285.06L465.44 285.46L465.05 285.72L464.56 285.91L464.09 286.15L463.63 286.33L463.26 286.62L462.9 287L462.55 287.32L462.11 287.72L461.77 288.09L461.34 288.36L460.92 288.65L460.6 289.03L460.11 289.27L459.63 289.58L459.24 289.88L458.78 290.23L458.32 290.48L457.95 290.78L457.51 291.09L457.08 291.3L456.65 291.61L456.3 291.97L455.89 292.29L455.48 292.58L455.08 292.88L454.69 293.13L454.3 293.44L453.92 293.87L453.54 294.17L453.17 294.45L452.74 294.73L452.32 294.95L451.91 295.23L451.5 295.49L451.16 295.85L450.82 296.2L450.48 296.56L450.09 296.87L449.66 297.15L449.29 297.44L448.92 297.7L448.55 298.02L448.2 298.33L447.79 298.6L447.49 298.96L447.15 299.29L446.81 299.62L446.43 299.95L446.05 300.33L445.68 300.66L445.31 300.98L444.99 301.37L444.68 301.7L444.37 302.09L444.06 302.45L443.76 302.8L443.46 303.23L443.12 303.6L442.79 303.97L442.5 304.38L442.26 304.81L441.98 305.21L441.7 305.61L441.42 306.03L441.15 306.4L440.92 306.82L440.69 307.28L440.46 307.72L440.2 308.16L439.97 308.58L439.71 308.99L439.49 309.38L439.24 309.78L438.99 310.18L438.77 310.58L438.53 310.97L438.28 311.37L438.04 311.81L437.8 312.25L437.56 312.7L437.33 313.15L437.09 313.61L436.89 314.02L436.66 314.49L436.47 314.93L436.24 315.41L436.05 315.84L435.86 316.3L435.67 316.77L435.48 317.22L435.29 317.71L435.11 318.2L434.95 318.65L434.8 319.09L434.65 319.54L434.5 320.01L434.35 320.48L434.2 321L434.05 321.51L433.93 321.94L433.79 322.5L433.64 323.03L433.52 323.47L433.41 323.92L433.29 324.38L433.18 324.84L433.06 325.3L432.95 325.78L432.84 326.25L432.72 326.74L432.61 327.22L432.5 327.71L432.39 328.21L432.28 328.72L432.17 329.24L432.06 329.78L431.95 330.33L431.84 330.89L431.73 331.48L431.65 331.93L431.57 332.39L431.49 332.87L431.41 333.36L431.33 333.86L431.25 334.38L431.17 334.92L431.09 335.48L431.01 336.06L430.93 336.67L430.85 337.31L430.77 337.98L430.72 338.44L430.67 338.92L430.62 339.43L430.57 339.95L430.51 340.5L430.46 341.08L430.41 341.7L430.36 342.35L430.31 343.04L430.26 343.79L430.21 344.6L430.15 345.49L430.13 345.97L430.1 346.48L430.08 347.03L430.05 347.61L430.03 348.24L430 348.93L429.98 349.69L429.95 350.54M429.93 351.5h0M429.9 352.64h0M429.88 354.04h0M429.85 355.88h0M429.83 358.76h0M429.8 361.33h0" stroke="#ff901c" stroke-width="2.75" stroke-linecap="round" stroke-linejoin="round" fill="none"/><path d="M533.8 202.3V380" stroke="#ff901c" stroke-width="1.4" stroke-opacity="0.8" fill="none"/><path d="M582.3 202.3V380" stroke="#3f6fe3" stroke-width="1.4" stroke-opacity="0.8" fill="none"/><path d="M429.8 238.38H605.8" stroke="#111" stroke-width="1.5" stroke-dasharray="4.1 2.2" fill="none"/></g><rect x="429.8" y="202.3" width="176" height="177.7" fill="none" stroke="#adadad" stroke-width="1"/><path d="M429.8 363.5h-2.2M429.8 327.4h-2.2M429.8 291.3h-2.2M429.8 255.2h-2.2M429.8 219.1h-2.2M429.8 380v2.2M489.9 380v2.2M550 380v2.2" stroke="#9a9a9a" stroke-width="0.7" fill="none"/><text x="417" y="366.4" class="t" textLength="9" lengthAdjust="spacingAndGlyphs">10</text><text x="417" y="330.3" class="t" textLength="9" lengthAdjust="spacingAndGlyphs">15</text><text x="417" y="294.2" class="t" textLength="9" lengthAdjust="spacingAndGlyphs">20</text><text x="417" y="258.1" class="t" textLength="9" lengthAdjust="spacingAndGlyphs">25</text><text x="417" y="222" class="t" textLength="9" lengthAdjust="spacingAndGlyphs">30</text><text x="427.55" y="389.3" class="t" textLength="4.5" lengthAdjust="spacingAndGlyphs">1</text><text x="485.4" y="389.3" class="t" textLength="9" lengthAdjust="spacingAndGlyphs">10</text><text x="543.25" y="389.3" class="t" textLength="13.5" lengthAdjust="spacingAndGlyphs">100</text><text x="478.1" y="397.6" class="l" textLength="74.8" lengthAdjust="spacingAndGlyphs">Return period(year)</text><text transform="translate(413.2 291.45) rotate(-90)" x="-29.2" y="0" class="yl" textLength="58.4" lengthAdjust="spacingAndGlyphs">Rx5d (mm/day)</text><text x="431.7" y="211.1" class="ti" textLength="38.6" lengthAdjust="spacingAndGlyphs">CanAM4</text><rect x="433.2" y="345.3" width="48.3" height="31.5" rx="1.2" fill="#fff" fill-opacity="0.8" stroke="#d4d4d4" stroke-width="0.6"/><circle cx="442" cy="350.9" r="1.3" fill="#000000"/><text x="454" y="353.4" class="lg" textLength="12.6" lengthAdjust="spacingAndGlyphs">Hist</text><circle cx="442" cy="360.5" r="1.3" fill="#3f6fe3"/><text x="454" y="363" class="lg" textLength="13.6" lengthAdjust="spacingAndGlyphs">1.5 (</text><text x="467.8" y="360.7" class="sup" font-style="italic">o</text><text x="470.9" y="363" class="lg" textLength="5.3" lengthAdjust="spacingAndGlyphs">C</text><text x="476.3" y="363" class="lg" textLength="2.7" lengthAdjust="spacingAndGlyphs">)</text><circle cx="442" cy="370.1" r="1.3" fill="#ff901c"/><text x="454" y="372.6" class="lg" textLength="7.2" lengthAdjust="spacingAndGlyphs">2 (</text><text x="461.4" y="370.3" class="sup" font-style="italic">o</text><text x="464.5" y="372.6" class="lg" textLength="5.3" lengthAdjust="spacingAndGlyphs">C</text><text x="469.9" y="372.6" class="lg" textLength="2.7" lengthAdjust="spacingAndGlyphs">)</text><clipPath id="c6"><rect x="30.2" y="405" width="171.8" height="177.7"/></clipPath><rect x="30.2" y="405" width="171.8" height="177.7" fill="#fff"/><g clip-path="url(#c6)"><path d="M48.29 405V582.7M58.87 405V582.7M66.38 405V582.7M72.21 405V582.7M76.97 405V582.7M80.99 405V582.7M84.48 405V582.7M87.55 405V582.7M108.39 405V582.7M118.97 405V582.7M126.48 405V582.7M132.31 405V582.7M137.07 405V582.7M141.09 405V582.7M144.58 405V582.7M147.65 405V582.7M168.49 405V582.7M179.07 405V582.7M186.58 405V582.7M192.41 405V582.7M197.17 405V582.7M201.19 405V582.7" stroke="#b8b8b8" stroke-width="0.5" stroke-dasharray="0.6 0.6" fill="none"/><path d="M30.2 405V582.7M90.3 405V582.7M150.4 405V582.7M30.2 581.06H202M30.2 544.76H202M30.2 508.46H202M30.2 472.16H202M30.2 435.86H202" stroke="#d0d0d0" stroke-width="0.7" fill="none"/><rect x="110" y="405" width="1" height="177.7" fill="#ff8c00" fill-opacity="0.075"/><rect x="122" y="405" width="1.2" height="177.7" fill="#4169e1" fill-opacity="0.075"/><rect x="182.2" y="405" width="19.8" height="177.7" fill="#c71585" fill-opacity="0.075"/><polygon points="120.42,483.65 121.2,483.37 121.99,483.17 122.82,483.04 123.53,482.81 124.25,482.51 125,482.24 125.77,481.95 126.4,481.55 127.22,481.26 128.06,481.06 128.75,480.88 129.46,480.59 130.19,480.51 130.94,480.18 131.71,480.01 132.51,479.75 133.33,479.48 134.18,479.29 135.06,479.07 135.74,478.69 136.43,478.49 137.15,478.42 137.88,478.25 138.64,478.03 139.42,477.81 140.22,477.6 141.05,477.3 141.91,477.12 142.79,476.83 143.4,476.46 144.34,476.21 145.31,475.85 146.32,475.64 147.02,475.4 147.73,475.29 148.47,475.2 149.22,474.97 150,474.8 150.8,474.54 151.63,474.38 152.49,473.88 153.37,473.64 154.29,473.16 155.24,472.95 156.22,472.69 157.25,472.45 158.31,472.11 159.42,471.25 160.58,470.84 161.18,470.42 162.43,470.28 163.73,470.09 165.11,469.71 165.82,469.57 166.56,469.41 167.31,469.21 168.09,469.1 168.9,468.97 169.73,468.65 170.58,468.52 171.47,468.33 172.38,468.21 173.33,467.71 174.32,467.54 175.34,467.4 176.41,466.32 177.52,465.72 178.68,465.24 179.89,465.04 181.16,464.69 182.5,464.49 183.91,464 185.41,463.58 186.99,463.17 188.67,462.83 190.47,462.51 192.41,462.2 194.5,461.61 196.77,460.88 199.26,459.67 202.01,458.04 203,457.96 203,465.22 202.01,465.29 199.26,466.56 196.77,467.44 194.5,467.88 192.41,468.19 190.47,468.25 188.67,468.33 186.99,468.45 185.41,468.65 183.91,468.87 182.5,469.18 181.16,469.2 179.89,469.39 178.68,469.43 177.52,469.76 176.41,470.2 175.34,471.15 174.32,471.16 173.33,471.28 172.38,471.73 171.47,471.8 170.58,471.95 169.73,472.02 168.9,472.3 168.09,472.39 167.31,472.45 166.56,472.62 165.82,472.74 165.11,472.84 163.73,473.15 162.43,473.26 161.18,473.34 160.58,473.73 159.42,474.08 158.86,474.81 157.78,475.14 156.73,475.21 155.73,475.51 154.76,475.6 153.83,476.09 152.93,476.24 152.06,476.58 151.22,476.86 150.4,477.1 149.61,477.23 148.84,477.39 148.1,477.48 147.37,477.53 146.66,477.64 145.64,477.87 144.66,478.14 143.71,478.32 142.79,478.77 141.91,479 141.05,479.13 140.22,479.4 139.42,479.56 138.64,479.74 137.88,479.92 137.15,480.05 136.43,480.08 135.74,480.24 135.06,480.59 134.18,480.76 133.33,480.9 132.51,481.13 131.71,481.35 130.94,481.47 130.19,481.76 129.46,481.81 128.75,482.06 128.06,482.2 127.22,482.36 126.4,482.61 125.77,482.96 125,483.22 124.25,483.44 123.53,483.7 122.82,483.9 121.99,483.99 121.2,484.14 120.42,484.38" fill="#000000" fill-opacity="0.2"/><polygon points="120.42,476.23 121.2,476.02 121.86,475.79 122.54,475.61 123.24,475.32 123.96,475.04 124.7,474.64 125.46,474.38 126.09,473.92 126.73,473.53 127.38,473.21 128.06,472.9 128.75,472.48 129.46,472.16 130.19,471.92 130.94,471.56 131.71,471.32 132.51,471.03 133.33,470.71 134.18,470.42 135.06,470.2 135.97,469.94 136.67,469.7 137.39,469.22 138.13,468.91 138.9,468.5 139.68,468.21 140.49,467.97 141.33,467.49 142.2,467 143.09,466.77 144.02,466.63 144.98,466.28 145.31,465.62 145.98,465.2 146.66,465.03 147.37,464.87 148.1,464.71 148.84,464.49 149.61,464.34 150.4,464.17 151.22,463.87 152.06,463.66 152.93,463.21 153.83,462.94 154.76,462.83 155.73,462.62 156.73,462.17 157.78,461.92 158.86,461.77 160,461.41 160.58,460.98 161.8,460.56 163.07,460.42 164.41,460.21 165.11,459.79 165.82,459.67 166.56,459.49 167.31,459.41 168.09,459.21 168.9,458.93 169.73,458.58 170.58,458.27 171.47,458.04 172.38,457.79 173.33,457.08 174.32,456.87 175.34,456.35 176.41,456 177.52,455.71 178.68,455.21 179.89,454.67 181.16,454.13 182.5,453.88 183.91,453.24 185.41,452.39 186.99,452.11 188.67,451.23 190.47,450.69 192.41,450.25 194.5,449.79 196.77,449.17 199.26,448.85 202.01,448.36 203,448.3 203,457.01 202.01,457.06 199.26,457.04 196.77,456.9 194.5,457.11 192.41,457.18 190.47,457.27 188.67,457.48 186.99,458.05 185.41,458.04 183.91,458.61 182.5,458.99 181.16,459 179.89,459.3 178.68,459.61 177.52,459.9 176.41,459.99 175.34,460.15 174.32,460.49 173.33,460.65 172.38,461.31 171.47,461.51 170.58,461.7 169.73,461.95 168.9,462.26 168.09,462.5 167.31,462.66 166.56,462.7 165.82,462.83 165.11,462.92 164.41,463.3 163.07,463.44 161.8,463.51 160.58,463.86 159.42,464.47 158.31,464.65 157.25,464.82 156.22,464.91 155.24,465.25 154.29,465.41 153.37,465.61 152.49,466.01 151.63,466.11 150.8,466.37 150,466.55 149.22,466.7 148.47,466.93 147.73,466.99 147.02,467.11 145.98,467.3 145.31,467.68 144.98,468.33 144.02,468.63 143.09,468.72 142.2,468.9 141.33,469.35 140.49,469.77 139.68,469.97 138.9,470.22 138.13,470.59 137.39,470.86 136.67,471.3 135.97,471.5 135.28,471.67 134.4,471.86 133.54,472.11 132.71,472.37 131.91,472.59 131.13,472.84 130.37,473.12 129.64,473.31 128.92,473.52 128.23,473.99 127.55,474.28 126.89,474.58 126.24,474.9 125.62,475.37 124.85,475.55 124.25,475.92 123.53,476.05 122.82,476.42 121.99,476.58 121.2,476.79 120.42,476.96" fill="#4169e1" fill-opacity="0.2"/><polygon points="120.42,472.48 121.2,472.17 121.99,471.89 122.68,471.18 123.38,470.98 124.11,470.73 124.85,470.58 125.62,470.26 126.4,469.87 127.22,469.52 128.06,469.35 128.75,469.11 129.46,468.94 130.19,468.61 130.94,468.37 131.71,467.97 132.51,467.87 133.12,467.25 133.97,467.1 134.62,466.73 135.28,466.41 136.2,466.12 136.91,465.62 137.64,465.1 138.38,464.88 139.16,464.42 139.95,464.27 140.77,463.97 141.62,463.68 142.49,463.48 143.4,463.12 144.34,462.83 145.31,462.61 145.98,462.14 146.66,461.89 147.37,461.38 148.1,461.25 148.84,460.98 149.61,460.88 150.4,460.56 151.22,460.29 152.06,460.11 152.93,459.85 153.83,459.64 154.76,459.33 155.73,459.13 156.73,458.92 157.78,458.81 158.86,458.39 160,458.19 161.18,458.08 162.43,457.35 163.07,457.01 163.73,456.44 164.41,455.93 165.11,455.29 165.82,454.85 166.56,454.44 167.31,454.11 168.09,453.6 168.9,453.21 169.73,452.79 170.58,452.25 171.47,451.77 172.38,450.78 173.33,449.89 174.32,449.15 175.34,448.62 176.41,448.06 177.52,447.57 178.68,446.04 179.89,445.64 181.16,445.12 182.5,444.25 183.91,439.84 185.41,439.72 186.99,438.53 188.67,438.78 190.47,438.3 192.41,438.16 194.5,437.81 196.77,437.6 199.26,436.98 202.01,436.01 203,435.88 203,449.32 202.01,449.44 199.26,450.38 196.77,450.77 194.5,450.77 192.41,450.93 190.47,450.88 188.67,451.2 186.99,450.8 185.41,451.84 183.91,451.83 182.5,455.72 181.16,456.07 179.89,456.1 178.68,456.03 177.52,457.11 176.41,457.17 175.34,457.31 174.32,457.44 173.33,457.74 172.38,458.2 171.47,458.77 170.58,458.85 169.73,459 168.9,459.04 168.09,459.07 167.31,459.23 166.56,459.22 165.82,459.3 165.11,459.42 164.41,459.73 163.73,459.94 162.43,460.26 161.18,460.92 160,460.97 158.86,461.11 157.78,461.47 156.73,461.53 155.73,461.69 154.76,461.84 153.83,462.1 152.93,462.26 152.06,462.47 151.22,462.61 150.4,462.85 149.61,463.12 148.84,463.19 148.1,463.41 147.37,463.5 146.66,463.98 145.98,464.19 145.31,464.63 144.34,464.79 143.4,465.04 142.49,465.35 141.62,465.51 140.77,465.75 139.95,466.01 139.16,466.12 138.38,466.54 137.64,466.72 136.91,467.2 136.2,467.67 135.28,467.91 134.62,468.19 133.97,468.53 133.12,468.64 132.51,469.23 131.71,469.29 130.94,469.64 130.19,469.85 129.46,470.14 128.75,470.27 128.06,470.48 127.22,470.61 126.4,470.91 125.62,471.26 124.85,471.54 124.11,471.65 123.38,471.86 122.68,472.03 121.99,472.7 121.2,472.94 120.42,473.21" fill="#ff8c00" fill-opacity="0.2"/><polygon points="120.42,494.86 121.2,494.69 121.99,494.5 122.68,494.35 123.38,494.13 124.11,493.94 124.85,493.77 125.62,493.63 126.4,493.48 127.22,493.25 128.06,493.09 128.92,492.93 129.64,492.77 130.37,492.65 131.13,492.49 131.91,492.35 132.71,492.15 133.54,491.93 134.4,491.71 135.28,491.55 136.2,491.36 136.91,491.18 137.64,490.98 138.38,490.85 139.16,490.65 139.95,490.51 140.77,490.35 141.62,490.26 142.49,490.03 143.4,489.81 144.34,489.51 145.31,489.31 146.32,489.05 147.02,488.92 147.73,488.73 148.47,488.61 149.22,488.32 150,488.2 150.8,487.6 151.63,487.16 152.49,486.59 153.37,486.17 154.29,485.67 155.24,484.92 156.22,484.47 157.25,483.84 158.31,483.09 159.42,482.45 160.58,481.93 161.8,481.26 162.43,480.83 163.73,480.39 165.11,480.29 165.82,480.09 166.56,480.02 167.31,479.64 168.09,479.38 168.9,478.86 169.73,478.78 170.58,478.75 171.47,478.69 172.38,478.58 173.33,478.39 174.32,478.22 175.34,477.84 176.41,476.67 177.52,475.6 178.68,475.43 179.89,475.34 181.16,474.77 182.5,474.71 183.91,474.74 185.41,474.33 186.99,473.89 188.67,473.36 190.47,472.83 192.41,472.32 194.5,471.74 196.77,470.27 199.26,469.59 202.01,468.93 203,468.87 203,483.39 202.01,483.43 199.26,483.1 196.77,482.88 194.5,483.55 192.41,483.38 190.47,483.2 188.67,483.09 186.99,483.01 185.41,482.89 183.91,482.76 182.5,482.68 181.16,482.71 179.89,483.26 178.68,483.33 177.52,483.48 176.41,484.53 175.34,485.68 174.32,486.05 173.33,486.2 172.38,486.37 171.47,486.47 170.58,486.51 169.73,486.53 168.9,486.59 168.09,487.1 167.31,487.34 166.56,487.71 165.82,487.77 165.11,487.96 163.73,488.04 163.07,488.29 161.8,488.64 160.58,488.84 159.42,488.9 158.31,489.1 157.25,489.43 156.22,489.66 155.24,489.72 154.29,490.1 153.37,490.25 152.49,490.31 151.63,490.55 150.8,490.66 150,491.07 149.22,491.14 148.47,491.37 147.73,491.44 147.02,491.58 146.32,491.65 145.31,491.84 144.34,491.98 143.4,492.21 142.49,492.36 141.62,492.52 140.77,492.55 139.95,492.66 139.16,492.74 138.38,492.89 137.64,492.96 136.91,493.11 136.2,493.24 135.28,493.36 134.4,493.46 133.54,493.61 132.71,493.77 131.91,493.91 131.13,493.99 130.37,494.1 129.64,494.17 128.92,494.28 128.23,494.36 127.38,494.46 126.56,494.62 125.77,494.73 125,494.82 124.25,494.92 123.53,495.06 122.82,495.2 121.99,495.34 121.2,495.48 120.42,495.59" fill="#c71585" fill-opacity="0.17"/><path d="M202.01 461.67h0M199.26 463.12h0M196.77 464.16h0M194.5 464.74h0M192.41 465.19h0M190.47 465.38h0M188.67 465.58h0M186.99 465.81h0M185.41 466.11h0M183.91 466.43h0M182.5 466.84h0M181.16 466.95h0M179.89 467.21h0M178.68 467.33h0M177.52 467.74h0M176.41 468.26h0M175.34 469.27h0M174.32 469.35h0M173.33 469.5h0M172.38 469.97h0M171.47 470.07h0M170.58 470.24h0L169.73 470.34L168.9 470.63L168.09 470.75L167.31 470.83L166.56 471.01L165.82 471.15L165.11 471.27L164.41 471.54L163.73 471.62L163.07 471.68L162.43 471.77L161.8 471.86L161.18 471.88L160.58 472.28L160 472.53L159.42 472.67M158.86 473.41h0L158.31 473.5L157.78 473.77L157.25 473.8L156.73 473.87L156.22 474.02L155.73 474.2L155.24 474.25L154.76 474.32L154.29 474.44L153.83 474.83L153.37 474.89L152.93 475L152.49 475.11L152.06 475.37L151.63 475.58L150.8 475.72L150.4 475.94L149.61 476.09L148.84 476.26L148.1 476.37L147.37 476.44L146.66 476.57L145.98 476.76L145.31 476.88L144.66 477.12L144.02 477.28L143.4 477.45L142.79 477.8L142.2 477.99L141.62 478.11L141.05 478.21L140.49 478.39L139.95 478.56L139.42 478.68L138.9 478.82L138.38 478.95L137.88 479.09L137.39 479.18L136.91 479.25L136.43 479.29L135.97 479.44L135.51 479.64L135.06 479.83L134.62 479.94L133.97 480.08L133.33 480.19L132.71 480.42L132.11 480.56L131.52 480.72L130.94 480.82L130.37 481.03L129.82 481.16L129.28 481.23L128.75 481.47L128.23 481.59L127.72 481.73L127.22 481.81L126.73 481.99L126.24 482.24L125.77 482.46L125.31 482.6L124.85 482.87L124.4 482.94L123.96 483.05L123.53 483.26L123.1 483.42L122.54 483.49L121.99 483.58L121.46 483.69L120.93 483.82L120.42 484.02L119.92 484.16L119.42 484.26L118.93 484.44L118.46 484.62L117.99 484.75L117.53 484.95L117.08 485.16L116.52 485.26L115.98 485.36L115.45 485.47L114.93 485.61L114.42 485.71L113.92 485.89L113.52 486.11L113.04 486.2L112.56 486.29L112.1 486.46L111.64 486.58L111.19 486.78L110.74 486.96L110.31 487.1L109.79 487.25L109.29 487.38L108.8 487.47L108.31 487.56L107.84 487.69L107.45 487.91L106.98 488.08L106.53 488.22L106.09 488.4L105.58 488.48L105.08 488.62L104.59 488.73L104.11 488.95L103.63 489L103.17 489.14L102.71 489.24L102.26 489.47L101.82 489.58L101.39 489.73L100.9 489.87L100.43 489.99L100.01 490.22L99.55 490.39L99.1 490.57L98.65 490.69L98.21 490.83L97.73 490.97L97.25 491.12L96.79 491.3L96.33 491.41L95.87 491.57L95.43 491.66L94.99 491.87L94.52 491.98L94.05 492.13L93.59 492.3L93.14 492.42L92.74 492.64L92.3 492.83L91.83 492.94L91.37 493.07L90.91 493.21L90.46 493.33L90.02 493.44L89.59 493.65L89.12 493.78L88.67 493.93L88.22 494.07L87.78 494.21L87.34 494.35L86.88 494.45L86.43 494.56L85.98 494.73L85.57 494.93L85.11 495.02L84.69 495.2L84.27 495.37L83.83 495.49L83.39 495.65L82.96 495.84L82.51 495.96L82.07 496.12L81.63 496.27L81.2 496.43L80.75 496.57L80.31 496.7L79.88 496.84L79.45 497.02L79 497.14L78.56 497.24L78.13 497.41L77.71 497.62L77.27 497.79L76.83 497.93L76.4 498.09L75.98 498.28L75.54 498.44L75.11 498.61L74.69 498.79L74.25 498.97L73.82 499.16L73.4 499.33L72.96 499.46L72.55 499.65L72.13 499.86L71.71 500.06L71.28 500.25L70.84 500.38L70.4 500.56L69.98 500.74L69.54 500.91L69.14 501.13L68.72 501.29L68.3 501.49L67.87 501.63L67.45 501.81L67.02 501.97L66.61 502.18L66.21 502.38L65.8 502.59L65.39 502.8L64.98 502.99L64.58 503.21L64.15 503.37L63.73 503.55L63.31 503.74L62.89 503.91L62.47 504.09L62.07 504.3L61.67 504.5L61.24 504.69L60.83 504.9L60.43 505.11L60.04 505.33L59.62 505.5L59.25 505.78L58.83 505.98L58.45 506.22L58.06 506.46L57.67 506.69L57.27 506.9L56.89 507.15L56.51 507.41L56.12 507.64L55.75 507.9L55.35 508.12L54.96 508.36L54.58 508.6L54.21 508.86L53.83 509.11L53.45 509.37L53.09 509.65L52.7 509.88L52.33 510.14L51.95 510.39L51.58 510.65L51.23 510.94L50.87 511.23L50.49 511.48L50.11 511.74L49.75 512.03L49.39 512.3L49.03 512.58L48.68 512.87L48.32 513.16L47.96 513.44L47.62 513.73L47.26 514.01L46.9 514.3L46.54 514.57L46.19 514.86L45.84 515.15L45.51 515.45L45.16 515.75L44.82 516.04L44.48 516.35L44.15 516.66L43.81 516.97L43.48 517.28L43.15 517.6L42.85 517.93L42.54 518.27L42.23 518.6L41.94 518.95L41.64 519.29L41.36 519.64L41.08 520.01L40.82 520.37L40.55 520.74L40.29 521.1L40.03 521.48L39.77 521.85L39.52 522.23L39.28 522.6L39.03 522.99L38.79 523.37L38.55 523.76L38.3 524.14L38.06 524.53L37.83 524.92L37.6 525.31L37.37 525.7L37.14 526.09L36.92 526.48L36.7 526.88L36.47 527.28L36.25 527.66L36.02 528.05L35.79 528.45L35.56 528.85L35.34 529.24L35.1 529.63L34.87 530.02L34.63 530.41L34.39 530.8L34.16 531.18L33.94 531.58L33.72 531.98L33.5 532.38L33.3 532.79L33.12 533.2L32.95 533.63L32.79 534.06L32.64 534.48L32.5 534.93L32.38 535.36L32.27 535.8L32.16 536.25L32.06 536.69L31.96 537.14L31.87 537.59L31.79 538.05L31.71 538.51L31.63 538.97L31.56 539.42L31.49 539.87L31.42 540.34L31.36 540.8L31.3 541.25L31.24 541.72L31.19 542.17L31.14 542.65L31.09 543.1L31.04 543.58L30.99 544.03L30.95 544.5L30.9 544.99L30.86 545.46L30.82 545.95L30.78 546.42L30.74 546.91L30.71 547.37L30.68 547.85L30.65 548.36L30.62 548.84L30.59 549.34L30.56 549.79L30.54 550.27L30.52 550.78L30.49 551.23L30.47 551.71L30.45 552.22L30.43 552.76L30.42 553.23L30.4 553.72L30.39 554.25L30.37 554.83L30.36 555.29L30.34 555.78L30.33 556.31L30.32 556.88L30.31 557.5L30.3 557.95L30.29 558.44L30.28 558.96L30.28 559.53L30.27 560.15L30.26 560.84L30.25 561.62L30.24 562.51L30.24 563.01L30.24 563.56L30.23 564.17L30.23 564.85L30.22 565.62L30.22 566.52M30.22 567.6h0M30.21 568.95h0M30.21 570.81h0M30.2 573.84h0M30.2 576.7h0" stroke="#000000" stroke-width="2.75" stroke-linecap="round" stroke-linejoin="round" fill="none"/><path d="M202.01 451.98h0M199.26 452.29h0M196.77 452.45h0M194.5 452.92h0M192.41 453.24h0M190.47 453.56h0M188.67 453.98h0M186.99 454.75h0M185.41 454.93h0M183.91 455.68h0M182.5 456.22h0M181.16 456.39h0M179.89 456.84h0M178.68 457.3h0M177.52 457.72h0M176.41 457.95h0M175.34 458.23h0M174.32 458.68h0M173.33 458.87h0M172.38 459.55h0M171.47 459.78h0M170.58 459.98h0M169.73 460.26h0L168.9 460.6L168.09 460.86L167.31 461.03L166.56 461.1L165.82 461.25L165.11 461.35L164.41 461.76L163.73 461.89L163.07 461.93L162.43 462.01L161.8 462.04L161.18 462.22L160.58 462.42L160 462.84L159.42 463.06L158.86 463.17L158.31 463.27L157.78 463.29L157.25 463.47L156.73 463.51L156.22 463.58L155.73 463.93L155.24 463.95L154.76 464.12L154.29 464.13L153.83 464.2L153.37 464.36L152.93 464.45L152.49 464.78L151.63 464.91L150.8 465.18L150 465.39L149.22 465.56L148.47 465.81L147.73 465.89L147.02 466.03L146.32 466.22L145.64 466.45M144.98 467.31h0L144.34 467.5L143.71 467.65L143.09 467.75L142.49 467.91L141.91 468.1L141.33 468.42L140.77 468.58L140.22 468.9L139.68 469.09L139.16 469.15L138.64 469.62L138.13 469.75L137.64 469.91L137.15 470.17L136.67 470.5L136.2 470.65L135.74 470.81L135.28 470.91L134.84 470.97L134.4 471.12L133.97 471.26L133.33 471.42L132.92 471.6L132.31 471.75L131.71 471.99L131.13 472.18L130.56 472.33L130 472.58L129.46 472.77L128.92 472.93L128.4 473.31L127.89 473.52L127.38 473.77L126.89 474.04L126.4 474.23L125.93 474.73L125.46 474.88L125 474.98L124.55 475.37L124.11 475.49L123.53 475.6L123.1 475.9L122.54 476.03L121.99 476.17L121.46 476.3L120.93 476.47L120.42 476.59L119.92 476.77L119.42 476.99L118.93 477.17L118.58 477.47L118.11 477.63L117.64 477.72L117.19 477.85L116.74 478L116.2 478.11L115.66 478.21L115.24 478.4L114.72 478.61L114.22 478.79L113.82 479.04L113.33 479.21L112.85 479.35L112.38 479.49L111.91 479.59L111.46 479.68L111.01 479.83L110.57 479.92L110.14 480.05L109.71 480.2L109.21 480.33L108.72 480.51L108.23 480.65L107.76 480.84L107.29 480.96L106.83 481.28L106.38 481.53L105.94 481.7L105.51 481.86L105.01 482L104.59 482.24L104.11 482.36L103.63 482.51L103.17 482.7L102.71 482.83L102.26 482.99L101.82 483.22L101.39 483.4L100.96 483.55L100.48 483.72L100.07 483.94L99.61 484.08L99.15 484.3L98.71 484.46L98.27 484.67L97.84 484.87L97.36 484.99L96.89 485.19L96.43 485.34L95.97 485.5L95.53 485.7L95.09 485.9L94.66 486.07L94.19 486.24L93.77 486.45L93.32 486.6L92.92 486.83L92.48 487.01L92.04 487.14L91.62 487.31L91.2 487.48L90.75 487.62L90.34 487.83L89.9 488.02L89.47 488.16L89.05 488.44L88.63 488.65L88.18 488.8L87.78 489.01L87.34 489.17L86.92 489.35L86.46 489.48L86.01 489.59L85.57 489.75L85.11 489.88L84.69 490.05L84.27 490.26L83.83 490.4L83.39 490.59L82.93 490.72L82.48 490.87L82.04 491.02L81.6 491.19L81.18 491.36L80.78 491.61L80.37 491.81L79.93 491.96L79.53 492.18L79.13 492.42L78.69 492.58L78.26 492.73L77.83 492.89L77.39 493.05L76.95 493.17L76.54 493.38L76.12 493.59L75.68 493.76L75.25 493.92L74.82 494.11L74.41 494.29L74.02 494.55L73.59 494.73L73.17 494.89L72.76 495.08L72.33 495.24L71.91 495.42L71.48 495.58L71.07 495.8L70.65 495.97L70.24 496.15L69.81 496.3L69.41 496.52L69 496.71L68.58 496.87L68.16 497.05L67.75 497.25L67.33 497.43L66.92 497.63L66.51 497.83L66.11 498.05L65.73 498.3L65.31 498.49L64.92 498.71L64.51 498.91L64.08 499.06L63.67 499.26L63.27 499.46L62.89 499.72L62.5 499.97L62.08 500.18L61.73 500.48L61.32 500.67L60.91 500.89L60.51 501.12L60.12 501.35L59.77 501.64L59.38 501.88L58.97 502.09L58.57 502.31L58.19 502.58L57.82 502.84L57.41 503.04L57 503.25L56.63 503.51L56.24 503.74L55.82 503.93L55.43 504.18L55.06 504.43L54.67 504.68L54.3 504.93L53.9 505.19L53.51 505.43L53.15 505.7L52.79 505.98L52.4 506.21L52.02 506.47L51.65 506.74L51.27 506.99L50.87 507.22L50.53 507.52L50.17 507.8L49.83 508.1L49.48 508.39L49.15 508.7L48.79 508.99L48.48 509.31L48.15 509.62L47.81 509.93L47.46 510.22L47.13 510.54L46.79 510.85L46.45 511.15L46.12 511.45L45.8 511.77L45.46 512.08L45.14 512.4L44.82 512.71L44.49 513.04L44.18 513.36L43.87 513.71L43.56 514.04L43.26 514.38L42.98 514.73L42.68 515.07L42.39 515.42L42.11 515.79L41.84 516.15L41.55 516.51L41.28 516.87L41.02 517.25L40.77 517.62L40.52 518L40.27 518.37L40.01 518.75L39.77 519.13L39.53 519.51L39.3 519.9L39.07 520.3L38.83 520.69L38.6 521.09L38.36 521.48L38.13 521.88L37.9 522.27L37.67 522.67L37.45 523.07L37.23 523.47L37.02 523.87L36.8 524.27L36.58 524.66L36.37 525.07L36.16 525.46L35.94 525.87L35.73 526.27L35.52 526.67L35.31 527.07L35.09 527.46L34.88 527.86L34.66 528.26L34.44 528.66L34.23 529.06L34.02 529.46L33.82 529.86L33.61 530.28L33.42 530.69L33.24 531.1L33.07 531.53L32.9 531.96L32.75 532.4L32.6 532.82L32.47 533.26L32.35 533.69L32.24 534.13L32.13 534.58L32.03 535.03L31.93 535.48L31.84 535.94L31.76 536.39L31.69 536.83L31.61 537.3L31.54 537.77L31.47 538.23L31.41 538.69L31.35 539.14L31.29 539.6L31.24 540.06L31.18 540.54L31.13 541L31.08 541.49L31.04 541.95L30.99 542.44L30.95 542.9L30.91 543.39L30.87 543.84L30.83 544.32L30.8 544.81L30.76 545.28L30.73 545.76L30.7 546.28L30.67 546.75L30.64 547.24L30.61 547.77L30.59 548.24L30.56 548.75L30.54 549.28L30.52 549.74L30.5 550.24L30.48 550.76L30.46 551.32L30.44 551.8L30.43 552.3L30.41 552.83L30.39 553.41L30.38 553.87L30.37 554.35L30.36 554.87L30.34 555.42L30.33 556.02L30.32 556.66L30.31 557.13L30.3 557.62L30.3 558.15L30.29 558.72L30.28 559.34L30.27 560.01L30.26 560.76L30.26 561.6L30.25 562.05L30.25 562.55L30.24 563.08L30.24 563.65L30.24 564.28L30.23 564.98L30.23 565.77L30.22 566.66M30.22 567.7h0M30.22 568.95h0M30.21 570.52h0M30.21 572.69h0M30.2 576.23h0M30.2 579.61h0" stroke="#3f6fe3" stroke-width="2.75" stroke-linecap="round" stroke-linejoin="round" fill="none"/><path d="M202.01 439.64h0M199.26 440.73h0M196.77 442.03h0M194.5 442.87h0M192.41 443.79h0M190.47 444.45h0M188.67 445.43h0M186.99 445.65h0M185.41 447.27h0M183.91 447.8h0M182.5 451.98h0M181.16 452.59h0M179.89 452.87h0M178.68 453.03h0M177.52 454.34h0M176.41 454.62h0M175.34 454.96h0M174.32 455.27h0M173.33 455.63h0M172.38 456.14h0M171.47 456.77h0L170.58 456.91L169.73 457.11L168.9 457.2L168.09 457.28L167.31 457.49L166.56 457.52L165.82 457.64L165.11 457.8L164.41 458.16L163.73 458.41L163.07 458.72L162.43 458.81M161.8 459.47h0L161.18 459.5L160.58 459.55L160 459.58L159.42 459.7L158.86 459.75L158.31 460.06L157.78 460.14L157.25 460.19L156.73 460.23L156.22 460.35L155.73 460.41L155.24 460.54L154.76 460.58L154.29 460.67L153.83 460.87L153.37 460.99L152.93 461.05L152.49 461.24L151.63 461.33L150.8 461.53L150 461.75L149.61 462L148.84 462.08L148.1 462.33L147.37 462.44L146.66 462.93L145.98 463.16L145.31 463.62L144.66 463.76L144.02 463.87L143.4 464.08L142.79 464.4L142.2 464.45L141.62 464.59L141.05 464.79L140.49 465L139.95 465.14L139.42 465.2L138.9 465.4L138.38 465.71L137.88 465.77L137.39 466.03L136.91 466.41L136.43 466.87L135.97 467.04L135.51 467.12L135.06 467.28L134.62 467.46L134.18 467.71L133.54 467.84L132.92 468.04L132.71 468.46L132.11 468.58L131.52 468.75L130.94 469.01L130.37 469.22L129.82 469.35L129.28 469.59L128.75 469.69L128.23 469.88L127.72 469.97L127.22 470.06L126.73 470.25L126.24 470.58L125.77 470.73L125.31 470.93L124.85 471.06L124.4 471.16L123.96 471.25L123.53 471.41L122.96 471.57L122.54 471.88L122.13 472.12L121.73 472.45L121.2 472.55L120.68 472.74L120.17 472.97L119.67 473.23L119.18 473.33L118.7 473.55L118.22 473.71L117.76 473.89L117.3 474.01L116.85 474.11L116.31 474.24L115.87 474.39L115.45 474.55L114.93 474.66L114.42 474.82L113.92 475.03L113.43 475.17L112.94 475.28L112.47 475.37L112 475.46L111.55 475.62L111.1 475.81L110.66 475.95L110.22 476.07L109.79 476.27L109.29 476.39L108.88 476.58L108.39 476.74L107.91 476.99L107.45 477.12L106.98 477.32L106.53 477.57L106.09 477.8L105.65 477.93L105.15 478.1L104.66 478.23L104.17 478.35L103.77 478.57L103.37 478.84L102.91 478.93L102.46 479.08L102.01 479.33L101.57 479.54L101.15 479.69L100.72 479.87L100.31 480.06L99.84 480.2L99.38 480.38L98.93 480.6L98.49 480.82L98.05 481L97.62 481.26L97.2 481.46L96.73 481.65L96.33 481.85L95.92 482.08L95.48 482.26L95.09 482.5L94.66 482.67L94.19 482.79L93.77 482.99L93.32 483.19L92.87 483.39L92.43 483.59L92 483.71L91.53 483.86L91.12 484.04L90.66 484.2L90.26 484.45L89.82 484.59L89.43 484.84L89.01 485L88.55 485.1L88.11 485.28L87.67 485.51L87.23 485.69L86.77 485.83L86.36 486.07L85.95 486.26L85.51 486.38L85.08 486.53L84.65 486.72L84.2 486.88L83.76 487.06L83.36 487.28L82.93 487.47L82.51 487.68L82.07 487.86L81.63 488.04L81.2 488.22L80.78 488.38L80.37 488.56L79.96 488.79L79.53 488.96L79.08 489.14L78.64 489.33L78.21 489.5L77.81 489.73L77.39 489.92L76.95 490.09L76.52 490.32L76.12 490.53L75.7 490.72L75.32 490.98L74.89 491.15L74.49 491.4L74.06 491.56L73.63 491.74L73.21 491.91L72.78 492.08L72.37 492.29L71.97 492.5L71.53 492.68L71.13 492.89L70.71 493.07L70.31 493.29L69.9 493.5L69.5 493.73L69.11 493.96L68.72 494.22L68.32 494.42L67.91 494.61L67.52 494.86L67.1 495.04L66.69 495.26L66.27 495.45L65.87 495.69L65.47 495.91L65.04 496.09L64.61 496.27L64.23 496.54L63.82 496.73L63.4 496.92L62.97 497.11L62.58 497.34L62.18 497.57L61.77 497.78L61.37 497.99L60.95 498.18L60.56 498.42L60.15 498.65L59.74 498.86L59.33 499.07L58.94 499.3L58.54 499.52L58.12 499.72L57.72 499.93L57.32 500.16L56.96 500.43L56.58 500.68L56.19 500.93L55.82 501.19L55.41 501.39L55.01 501.62L54.64 501.89L54.26 502.12L53.89 502.39L53.49 502.62L53.14 502.91L52.78 503.18L52.42 503.46L52.03 503.7L51.65 503.97L51.31 504.27L50.97 504.59L50.63 504.89L50.27 505.16L49.92 505.45L49.58 505.75L49.23 506.06L48.92 506.38L48.61 506.71L48.28 507.02L47.95 507.33L47.61 507.64L47.28 507.97L46.96 508.28L46.63 508.6L46.35 508.95L46.03 509.27L45.71 509.59L45.38 509.9L45.03 510.2L44.72 510.52L44.4 510.85L44.09 511.18L43.78 511.53L43.47 511.86L43.19 512.21L42.91 512.57L42.64 512.94L42.37 513.3L42.09 513.67L41.81 514.03L41.56 514.4L41.3 514.78L41.03 515.16L40.79 515.54L40.54 515.92L40.31 516.31L40.07 516.69L39.83 517.08L39.6 517.47L39.37 517.86L39.15 518.25L38.92 518.65L38.7 519.04L38.47 519.44L38.26 519.83L38.04 520.23L37.83 520.64L37.61 521.04L37.41 521.45L37.21 521.85L37 522.26L36.79 522.66L36.58 523.07L36.38 523.47L36.17 523.89L35.95 524.29L35.74 524.7L35.54 525.1L35.33 525.5L35.11 525.9L34.89 526.3L34.67 526.71L34.46 527.11L34.24 527.5L34.02 527.9L33.81 528.31L33.61 528.71L33.4 529.12L33.21 529.53L33.03 529.95L32.85 530.38L32.69 530.81L32.54 531.24L32.4 531.67L32.27 532.11L32.15 532.56L32.03 533.01L31.93 533.47L31.84 533.92L31.75 534.37L31.67 534.82L31.59 535.28L31.52 535.75L31.45 536.22L31.39 536.68L31.33 537.14L31.28 537.59L31.22 538.06L31.17 538.52L31.12 539L31.08 539.46L31.03 539.95L30.99 540.41L30.95 540.9L30.91 541.35L30.88 541.83L30.84 542.33L30.81 542.8L30.77 543.28L30.74 543.79L30.71 544.25L30.68 544.73L30.65 545.24L30.63 545.7L30.6 546.18L30.58 546.68L30.56 547.22L30.54 547.69L30.52 548.18L30.49 548.7L30.47 549.26L30.46 549.73L30.44 550.23L30.43 550.75L30.41 551.32L30.39 551.92L30.38 552.4L30.37 552.91L30.36 553.45L30.34 554.03L30.33 554.66L30.32 555.34L30.31 555.82L30.3 556.34L30.3 556.9L30.29 557.5L30.28 558.15L30.27 558.86L30.26 559.65L30.26 560.53L30.25 561.02L30.25 561.53L30.24 562.09L30.24 562.7L30.24 563.37L30.23 564.11L30.23 564.93M30.22 565.88h0M30.22 566.98h0M30.22 568.3h0M30.21 569.97h0M30.21 572.26h0M30.2 576.02h0M30.2 579.61h0" stroke="#ff901c" stroke-width="2.75" stroke-linecap="round" stroke-linejoin="round" fill="none"/><path d="M202.01 476.18h0M199.26 476.35h0M196.77 476.57h0M194.5 477.64h0M192.41 477.85h0M190.47 478.02h0M188.67 478.23h0M186.99 478.45h0M185.41 478.61h0M183.91 478.75h0M182.5 478.82h0M181.16 478.98h0M179.89 479.67h0M178.68 479.86h0M177.52 480.13h0M176.41 481.29h0M175.34 482.55h0M174.32 483.02h0M173.33 483.27h0M172.38 483.54h0M171.47 483.73h0L170.58 483.86L169.73 483.97L168.9 484.12M168.09 484.7h0L167.31 485.03L166.56 485.48L165.82 485.61L165.11 485.87L164.41 486.01L163.73 486.09L163.07 486.4L162.43 486.64L161.8 486.84L161.18 486.95L160.58 487.08L160 487.13L159.42 487.18L158.86 487.25L158.31 487.41L157.78 487.65L157.25 487.78L156.73 487.83L156.22 488.03L155.73 488.08L155.24 488.12L154.76 488.47L154.29 488.53L153.83 488.58L153.37 488.7L152.49 488.8L151.63 489.06L150.8 489.2M150 489.63h0L149.22 489.73L148.47 489.99L147.73 490.09L147.02 490.25L146.32 490.35L145.64 490.47L144.98 490.68L144.34 490.74L143.71 490.83L143.09 491.07L142.49 491.2L141.91 491.3L141.33 491.42L140.77 491.45L140.22 491.55L139.68 491.64L139.16 491.7L138.64 491.83L138.13 491.89L137.64 491.97L137.15 492.11L136.67 492.18L136.2 492.3L135.74 492.4L135.28 492.45L134.84 492.54L134.18 492.63L133.54 492.77L132.92 492.92L132.31 493.01L131.71 493.14L131.13 493.24L130.56 493.32L130 493.41L129.46 493.5L128.92 493.61L128.4 493.69L127.89 493.74L127.38 493.84L126.89 493.95L126.4 494.06L125.93 494.15L125.46 494.2L125 494.28L124.55 494.37L124.11 494.44L123.53 494.58L122.96 494.74L122.4 494.84L121.86 494.93L121.33 495.04L120.8 495.14L120.29 495.24L119.79 495.39L119.42 495.68L118.93 495.76L118.46 495.94L117.99 496.01L117.53 496.2L117.08 496.26L116.63 496.38L116.2 496.5L115.66 496.56L115.24 496.73L114.72 496.83L114.22 497.01L113.72 497.1L113.23 497.22L112.75 497.36L112.28 497.55L111.82 497.63L111.37 497.74L110.92 497.86L110.39 497.99L109.88 498.15L109.37 498.33L108.96 498.52L108.47 498.69L107.99 498.77L107.52 498.92L107.06 499.11L106.61 499.23L106.16 499.32L105.72 499.48L105.29 499.69L104.8 499.84L104.38 500.01L103.9 500.15L103.43 500.38L102.97 500.52L102.58 500.75L102.14 500.85L101.7 501.02L101.21 501.13L100.72 501.26L100.25 501.36L99.78 501.5L99.32 501.72L98.87 501.89L98.43 502.04L97.94 502.17L97.46 502.3L96.99 502.39L96.53 502.57L96.07 502.7L95.63 502.85L95.19 502.99L94.76 503.14L94.33 503.33L93.87 503.48L93.41 503.6L92.96 503.67L92.52 503.78L92.09 503.96L91.62 504.09L91.16 504.22L90.7 504.36L90.26 504.47L89.82 504.59L89.39 504.76L88.93 504.87L88.48 505.03L88.03 505.15L87.56 505.26L87.09 505.4L86.63 505.47L86.18 505.58L85.74 505.73L85.27 505.81L84.85 506L84.4 506.13L83.95 506.25L83.51 506.39L83.08 506.53L82.66 506.7L82.22 506.83L81.78 506.94L81.32 507.05L80.87 507.19L80.42 507.33L79.99 507.47L79.53 507.57L79.08 507.71L78.64 507.84L78.18 507.94L77.73 508.09L77.29 508.2L76.85 508.32L76.4 508.45L75.96 508.55L75.52 508.69L75.07 508.83L74.63 508.99L74.19 509.12L73.76 509.27L73.32 509.4L72.88 509.55L72.45 509.69L72.03 509.85L71.57 509.95L71.15 510.1L70.71 510.24L70.27 510.38L69.85 510.54L69.41 510.69L68.98 510.85L68.54 511.01L68.11 511.18L67.68 511.35L67.27 511.52L66.84 511.68L66.42 511.84L66 512.03L65.56 512.17L65.13 512.32L64.72 512.53L64.3 512.71L63.87 512.89L63.45 513.07L63.03 513.24L62.61 513.41L62.19 513.61L61.79 513.8L61.36 513.98L60.95 514.18L60.55 514.39L60.13 514.55L59.72 514.74L59.28 514.9L58.86 515.07L58.44 515.27L58.03 515.46L57.61 515.65L57.2 515.84L56.79 516.02L56.37 516.2L55.96 516.4L55.54 516.57L55.12 516.74L54.69 516.92L54.28 517.12L53.88 517.33L53.47 517.55L53.07 517.76L52.68 517.99L52.28 518.22L51.9 518.46L51.5 518.66L51.1 518.89L50.71 519.12L50.31 519.35L49.92 519.59L49.55 519.84L49.17 520.09L48.79 520.33L48.4 520.58L48.03 520.84L47.65 521.08L47.27 521.33L46.88 521.57L46.51 521.83L46.13 522.08L45.76 522.33L45.38 522.59L45.02 522.87L44.64 523.12L44.27 523.39L43.92 523.66L43.57 523.95L43.22 524.24L42.89 524.55L42.55 524.86L42.23 525.17L41.92 525.49L41.61 525.83L41.3 526.17L40.99 526.51L40.68 526.85L40.38 527.19L40.1 527.55L39.82 527.9L39.53 528.26L39.26 528.62L38.99 528.98L38.72 529.34L38.45 529.71L38.18 530.08L37.92 530.46L37.67 530.83L37.42 531.21L37.17 531.59L36.92 531.97L36.67 532.35L36.43 532.73L36.19 533.11L35.94 533.49L35.7 533.88L35.45 534.26L35.21 534.65L34.96 535.03L34.71 535.41L34.47 535.79L34.23 536.18L34 536.57L33.78 536.96L33.58 537.37L33.39 537.78L33.21 538.2L33.05 538.63L32.91 539.06L32.77 539.49L32.64 539.94L32.51 540.38L32.39 540.83L32.28 541.28L32.18 541.72L32.08 542.18L31.99 542.63L31.9 543.09L31.81 543.54L31.73 543.99L31.65 544.44L31.58 544.9L31.51 545.36L31.44 545.81L31.37 546.28L31.31 546.74L31.24 547.22L31.19 547.68L31.13 548.13L31.08 548.6L31.03 549.05L30.98 549.52L30.93 549.98L30.89 550.45L30.85 550.91L30.81 551.39L30.77 551.85L30.73 552.33L30.7 552.78L30.67 553.26L30.63 553.76L30.6 554.23L30.58 554.73L30.55 555.18L30.53 555.65L30.5 556.16L30.48 556.61L30.46 557.09L30.44 557.6L30.42 558.15L30.41 558.62L30.39 559.13L30.37 559.67L30.36 560.26L30.34 560.73L30.33 561.25L30.32 561.8L30.31 562.4L30.3 563.07L30.29 563.56L30.28 564.09L30.27 564.66L30.26 565.3L30.26 566.01L30.25 566.81M30.24 567.75h0L30.24 568.28L30.23 568.87L30.23 569.53L30.22 570.28L30.22 571.15M30.22 572.2h0M30.21 573.52h0M30.21 575.33h0M30.2 578.27h0M30.2 581.06h0" stroke="#c2158a" stroke-width="2.75" stroke-linecap="round" stroke-linejoin="round" fill="none"/><path d="M110.5 405V582.7" stroke="#ff901c" stroke-width="1.0" stroke-opacity="0.8" fill="none"/><path d="M122.6 405V582.7" stroke="#3f6fe3" stroke-width="1.0" stroke-opacity="0.8" fill="none"/><path d="M199.3 405V582.7" stroke="#c2158a" stroke-width="1.5" stroke-opacity="0.8" fill="none"/><path d="M30.2 475.72H202" stroke="#3c3c3c" stroke-width="1.7" stroke-dasharray="3.7 2.7" fill="none"/></g><rect x="30.2" y="405" width="171.8" height="177.7" fill="none" stroke="#adadad" stroke-width="1"/><path d="M30.2 581.06h-2.2M30.2 544.76h-2.2M30.2 508.46h-2.2M30.2 472.16h-2.2M30.2 435.86h-2.2M30.2 582.7v2.2M90.3 582.7v2.2M150.4 582.7v2.2" stroke="#9a9a9a" stroke-width="0.7" fill="none"/><text x="17.4" y="583.96" class="t" textLength="9" lengthAdjust="spacingAndGlyphs">10</text><text x="17.4" y="547.66" class="t" textLength="9" lengthAdjust="spacingAndGlyphs">15</text><text x="17.4" y="511.36" class="t" textLength="9" lengthAdjust="spacingAndGlyphs">20</text><text x="17.4" y="475.06" class="t" textLength="9" lengthAdjust="spacingAndGlyphs">25</text><text x="17.4" y="438.76" class="t" textLength="9" lengthAdjust="spacingAndGlyphs">30</text><text x="27.95" y="592" class="t" textLength="4.5" lengthAdjust="spacingAndGlyphs">1</text><text x="85.8" y="592" class="t" textLength="9" lengthAdjust="spacingAndGlyphs">10</text><text x="143.65" y="592" class="t" textLength="13.5" lengthAdjust="spacingAndGlyphs">100</text><text x="78.5" y="600.3" class="l" textLength="74.8" lengthAdjust="spacingAndGlyphs">Return period(year)</text><text transform="translate(13.6 494.15) rotate(-90)" x="-29.2" y="0" class="yl" textLength="58.4" lengthAdjust="spacingAndGlyphs">Rx5d (mm/day)</text><text x="32.1" y="413.8" class="ti" textLength="48.6" lengthAdjust="spacingAndGlyphs">ETH-CAM4</text><rect x="33.6" y="538.4" width="48.3" height="41.1" rx="1.2" fill="#fff" fill-opacity="0.8" stroke="#d4d4d4" stroke-width="0.6"/><circle cx="42.4" cy="544" r="1.3" fill="#000000"/><text x="54.4" y="546.5" class="lg" textLength="12.6" lengthAdjust="spacingAndGlyphs">Hist</text><circle cx="42.4" cy="553.6" r="1.3" fill="#3f6fe3"/><text x="54.4" y="556.1" class="lg" textLength="13.6" lengthAdjust="spacingAndGlyphs">1.5 (</text><text x="68.2" y="553.8" class="sup" font-style="italic">o</text><text x="71.3" y="556.1" class="lg" textLength="5.3" lengthAdjust="spacingAndGlyphs">C</text><text x="76.7" y="556.1" class="lg" textLength="2.7" lengthAdjust="spacingAndGlyphs">)</text><circle cx="42.4" cy="563.2" r="1.3" fill="#ff901c"/><text x="54.4" y="565.7" class="lg" textLength="7.2" lengthAdjust="spacingAndGlyphs">2 (</text><text x="61.8" y="563.4" class="sup" font-style="italic">o</text><text x="64.9" y="565.7" class="lg" textLength="5.3" lengthAdjust="spacingAndGlyphs">C</text><text x="70.3" y="565.7" class="lg" textLength="2.7" lengthAdjust="spacingAndGlyphs">)</text><circle cx="42.4" cy="572.8" r="1.3" fill="#c2158a"/><text x="54.4" y="575.3" class="lg" textLength="23.8" lengthAdjust="spacingAndGlyphs">HistNat</text></svg></body></html>
